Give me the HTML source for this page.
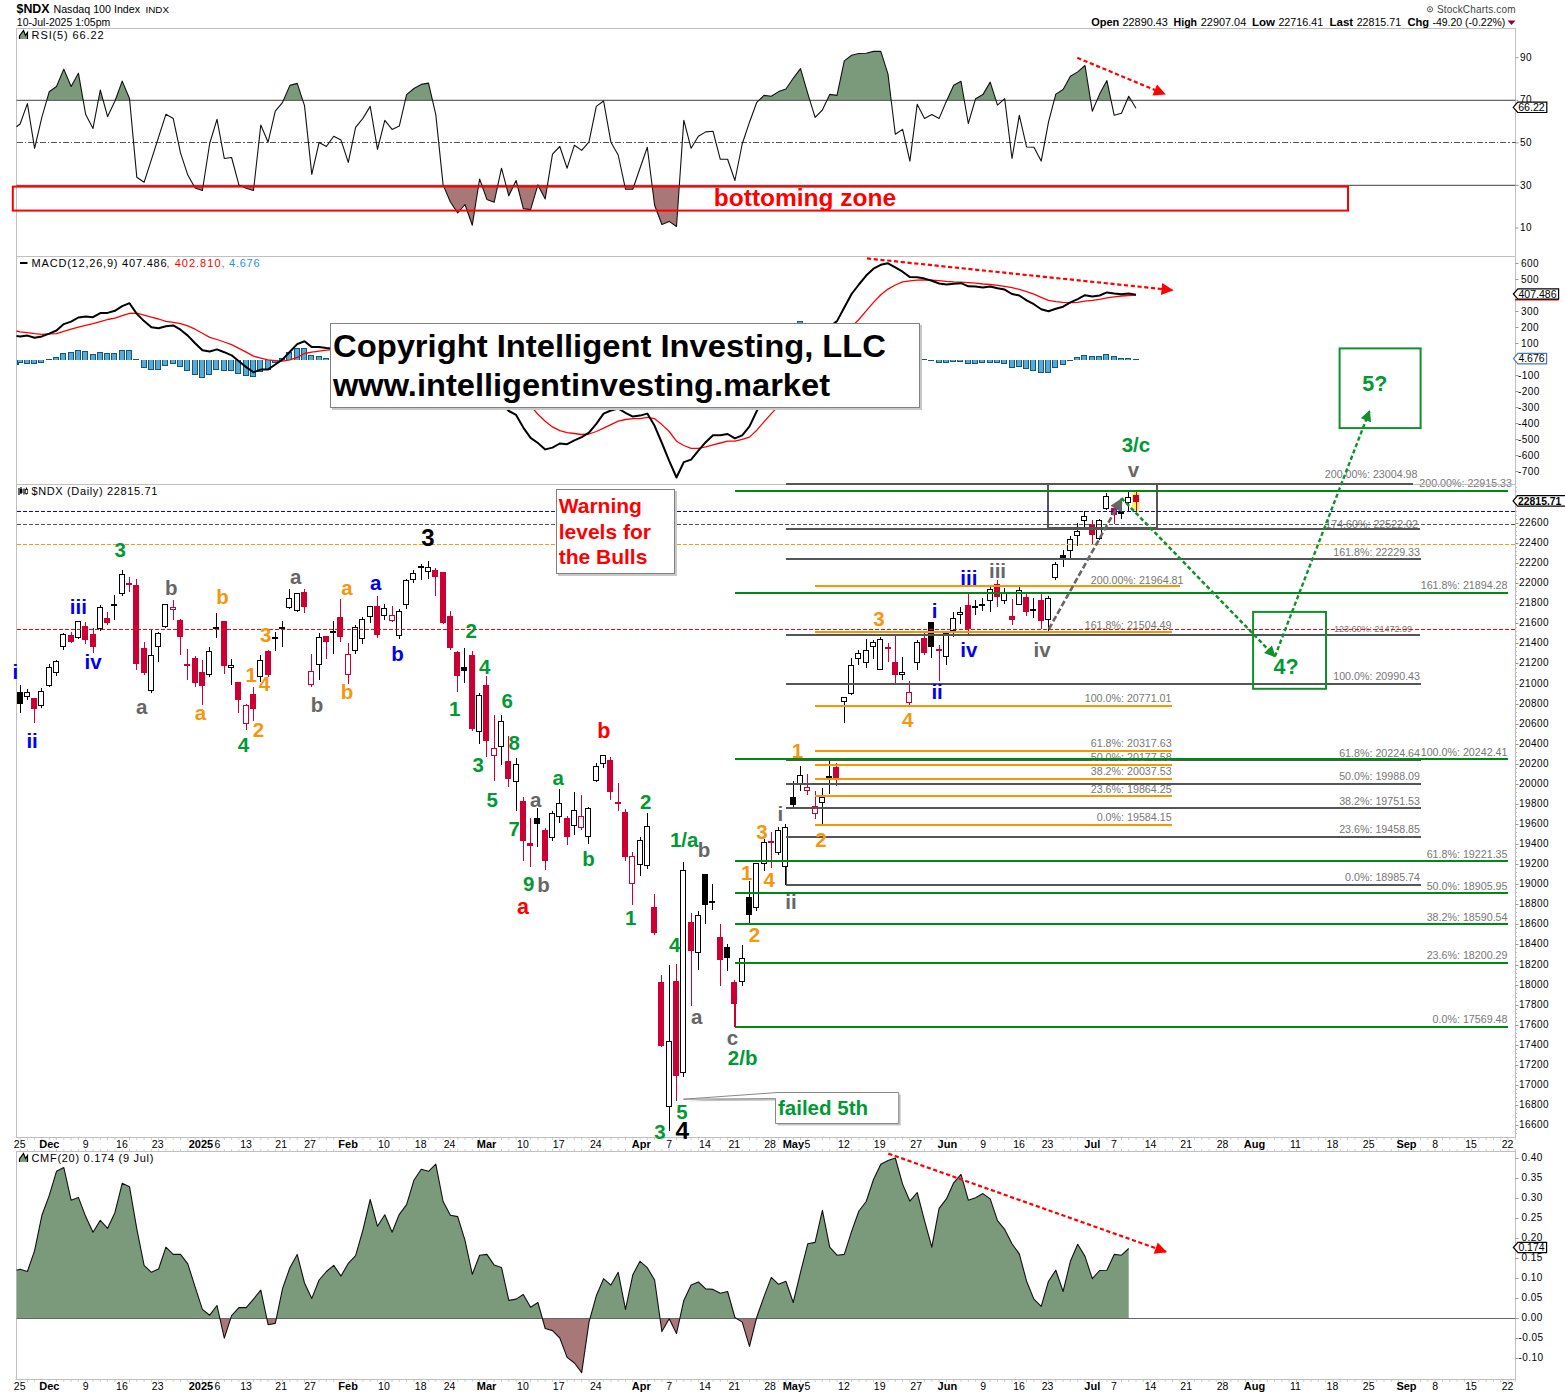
<!DOCTYPE html>
<html><head><meta charset="utf-8"><title>$NDX</title>
<style>
html,body{margin:0;padding:0;background:#fff;}
body{width:1565px;height:1396px;overflow:hidden;font-family:"Liberation Sans",sans-serif;}
svg{display:block;}
text{font-family:"Liberation Sans",sans-serif;}
.ax{font-size:10px;fill:#000;letter-spacing:0.45px;}

.wl{font-weight:bold;font-size:20px;text-anchor:middle;}
</style></head><body>
<svg width="1565" height="1396" viewBox="0 0 1565 1396">
<rect x="0" y="0" width="1565" height="1396" fill="#ffffff"/>

<text x="16.5" y="13.4" font-size="13.2" font-weight="bold" textLength="33" lengthAdjust="spacingAndGlyphs">$NDX</text>
<text x="53.5" y="13.4" font-size="11" textLength="86.5" lengthAdjust="spacingAndGlyphs">Nasdaq 100 Index</text>
<text x="145.5" y="13.2" font-size="9" textLength="23.5" lengthAdjust="spacingAndGlyphs">INDX</text>
<text x="16.8" y="25.8" font-size="10.5" textLength="93.5" lengthAdjust="spacingAndGlyphs">10-Jul-2025 1:05pm</text>
<text x="1437" y="12.8" font-size="10" fill="#444" textLength="78.5" lengthAdjust="spacing">StockCharts.com</text>
<circle cx="1430" cy="9.3" r="2.6" fill="none" stroke="#555" stroke-width="1"/><circle cx="1430" cy="9.3" r="0.9" fill="#555"/>
<text x="1091.2" y="25.6" font-size="10.5" font-weight="bold" textLength="28.1" lengthAdjust="spacingAndGlyphs">Open</text>
<text x="1122.5" y="25.6" font-size="10.5"  textLength="45.4" lengthAdjust="spacingAndGlyphs">22890.43</text>
<text x="1173.6" y="25.6" font-size="10.5" font-weight="bold" textLength="23.4" lengthAdjust="spacingAndGlyphs">High</text>
<text x="1200.8" y="25.6" font-size="10.5"  textLength="45.4" lengthAdjust="spacingAndGlyphs">22907.04</text>
<text x="1251.9" y="25.6" font-size="10.5" font-weight="bold" textLength="23.0" lengthAdjust="spacingAndGlyphs">Low</text>
<text x="1278.4" y="25.6" font-size="10.5"  textLength="44.7" lengthAdjust="spacingAndGlyphs">22716.41</text>
<text x="1329.5" y="25.6" font-size="10.5" font-weight="bold" textLength="23.7" lengthAdjust="spacingAndGlyphs">Last</text>
<text x="1356.7" y="25.6" font-size="10.5"  textLength="44.4" lengthAdjust="spacingAndGlyphs">22815.71</text>
<text x="1407.5" y="25.6" font-size="10.5" font-weight="bold" textLength="21.7" lengthAdjust="spacingAndGlyphs">Chg</text>
<text x="1432.4" y="25.6" font-size="10.5"  textLength="72.9" lengthAdjust="spacingAndGlyphs">-49.20 (-0.22%)</text>
<path d="M1507.5 20.5 L1515.5 20.5 L1511.5 25 Z" fill="#990022"/>
<rect x="16.5" y="28.5" width="1499.0" height="228.0" fill="#fff" stroke="#c0c0c0" stroke-width="1" shape-rendering="crispEdges"/>
<defs><clipPath id="rsiTop"><rect x="16.5" y="28.5" width="1500" height="71.8"/></clipPath><clipPath id="rsiBot"><rect x="16.5" y="185.4" width="1500" height="80"/></clipPath></defs>
<polygon clip-path="url(#rsiTop)" points="16.5,100.3 16.5,126.8 20.1,124.0 27.4,103.6 34.6,148.3 41.9,117.1 49.2,91.8 56.5,86.5 63.8,69.1 71.1,86.5 78.4,73.2 85.7,114.6 93.0,128.4 100.3,90.0 107.6,116.6 114.9,101.3 122.2,81.1 129.5,98.5 136.8,177.2 144.1,182.3 151.4,159.6 158.6,137.1 165.9,114.3 173.2,118.4 180.5,152.9 187.8,175.1 195.1,187.9 202.4,190.5 209.7,143.5 217.0,119.4 224.3,158.5 231.6,157.5 238.9,184.9 246.2,188.2 253.5,190.5 260.8,125.0 268.1,142.2 275.3,111.2 282.6,102.3 289.9,85.4 297.2,83.4 304.5,105.6 311.8,174.4 319.1,142.4 326.4,146.5 333.7,136.3 341.0,140.1 348.3,162.4 355.6,127.3 362.9,118.4 370.2,106.4 377.5,149.3 384.8,120.4 392.1,129.4 399.3,126.1 406.6,94.6 413.9,88.5 421.2,84.4 428.5,83.1 435.8,114.6 443.1,184.9 450.4,202.0 457.7,213.0 465.0,204.5 472.3,225.2 479.6,179.0 486.9,199.4 494.2,202.2 501.5,168.2 508.8,195.8 516.1,180.5 523.3,208.6 530.6,209.6 537.9,184.9 545.2,198.9 552.5,154.2 559.8,146.5 567.1,168.2 574.4,145.2 581.7,150.4 589.0,141.9 596.3,106.4 603.6,101.0 610.9,142.2 618.2,155.0 625.5,189.2 632.8,189.2 640.0,168.2 647.3,147.3 654.6,205.3 661.9,224.5 669.2,221.4 676.5,226.5 683.8,120.2 691.1,148.3 698.4,136.3 705.7,131.9 713.0,131.2 720.3,159.3 727.6,159.3 734.9,180.5 742.2,144.0 749.5,122.2 756.8,102.3 764.0,95.4 771.3,96.2 778.6,91.6 785.9,89.0 793.2,78.3 800.5,68.6 807.8,93.6 815.1,117.4 822.4,110.0 829.7,94.4 837.0,95.4 844.3,60.9 851.6,55.3 858.9,53.5 866.2,53.2 873.5,51.4 880.8,51.4 888.0,74.2 895.3,134.2 902.6,129.4 909.9,161.1 917.2,104.3 924.5,118.4 931.8,114.6 939.1,118.4 946.4,101.3 953.7,85.2 961.0,81.3 968.3,123.5 975.6,98.7 982.9,94.6 990.2,82.1 997.5,105.1 1004.7,98.7 1012.0,158.5 1019.3,115.3 1026.6,147.0 1033.9,147.3 1041.2,161.1 1048.5,122.2 1055.8,94.1 1063.1,89.5 1070.4,76.2 1077.7,71.9 1085.0,65.5 1092.3,111.2 1099.6,94.1 1106.9,80.6 1114.2,115.3 1121.5,113.3 1128.7,96.2 1136.0,108.2 1136.0,100.3" fill="#7b9a7b"/>
<polygon clip-path="url(#rsiBot)" points="16.5,185.4 16.5,126.8 20.1,124.0 27.4,103.6 34.6,148.3 41.9,117.1 49.2,91.8 56.5,86.5 63.8,69.1 71.1,86.5 78.4,73.2 85.7,114.6 93.0,128.4 100.3,90.0 107.6,116.6 114.9,101.3 122.2,81.1 129.5,98.5 136.8,177.2 144.1,182.3 151.4,159.6 158.6,137.1 165.9,114.3 173.2,118.4 180.5,152.9 187.8,175.1 195.1,187.9 202.4,190.5 209.7,143.5 217.0,119.4 224.3,158.5 231.6,157.5 238.9,184.9 246.2,188.2 253.5,190.5 260.8,125.0 268.1,142.2 275.3,111.2 282.6,102.3 289.9,85.4 297.2,83.4 304.5,105.6 311.8,174.4 319.1,142.4 326.4,146.5 333.7,136.3 341.0,140.1 348.3,162.4 355.6,127.3 362.9,118.4 370.2,106.4 377.5,149.3 384.8,120.4 392.1,129.4 399.3,126.1 406.6,94.6 413.9,88.5 421.2,84.4 428.5,83.1 435.8,114.6 443.1,184.9 450.4,202.0 457.7,213.0 465.0,204.5 472.3,225.2 479.6,179.0 486.9,199.4 494.2,202.2 501.5,168.2 508.8,195.8 516.1,180.5 523.3,208.6 530.6,209.6 537.9,184.9 545.2,198.9 552.5,154.2 559.8,146.5 567.1,168.2 574.4,145.2 581.7,150.4 589.0,141.9 596.3,106.4 603.6,101.0 610.9,142.2 618.2,155.0 625.5,189.2 632.8,189.2 640.0,168.2 647.3,147.3 654.6,205.3 661.9,224.5 669.2,221.4 676.5,226.5 683.8,120.2 691.1,148.3 698.4,136.3 705.7,131.9 713.0,131.2 720.3,159.3 727.6,159.3 734.9,180.5 742.2,144.0 749.5,122.2 756.8,102.3 764.0,95.4 771.3,96.2 778.6,91.6 785.9,89.0 793.2,78.3 800.5,68.6 807.8,93.6 815.1,117.4 822.4,110.0 829.7,94.4 837.0,95.4 844.3,60.9 851.6,55.3 858.9,53.5 866.2,53.2 873.5,51.4 880.8,51.4 888.0,74.2 895.3,134.2 902.6,129.4 909.9,161.1 917.2,104.3 924.5,118.4 931.8,114.6 939.1,118.4 946.4,101.3 953.7,85.2 961.0,81.3 968.3,123.5 975.6,98.7 982.9,94.6 990.2,82.1 997.5,105.1 1004.7,98.7 1012.0,158.5 1019.3,115.3 1026.6,147.0 1033.9,147.3 1041.2,161.1 1048.5,122.2 1055.8,94.1 1063.1,89.5 1070.4,76.2 1077.7,71.9 1085.0,65.5 1092.3,111.2 1099.6,94.1 1106.9,80.6 1114.2,115.3 1121.5,113.3 1128.7,96.2 1136.0,108.2 1136.0,185.4" fill="#a87878"/>
<line x1="16.5" y1="100.3" x2="1515.5" y2="100.3" stroke="#666" stroke-width="1.2"/>
<line x1="16.5" y1="185.4" x2="1515.5" y2="185.4" stroke="#666" stroke-width="1.2"/>
<line x1="16.5" y1="142.9" x2="1515.5" y2="142.9" stroke="#555" stroke-width="1" stroke-dasharray="6 2 1.5 2" shape-rendering="crispEdges"/>
<polyline points="16.5,126.8 20.1,124.0 27.4,103.6 34.6,148.3 41.9,117.1 49.2,91.8 56.5,86.5 63.8,69.1 71.1,86.5 78.4,73.2 85.7,114.6 93.0,128.4 100.3,90.0 107.6,116.6 114.9,101.3 122.2,81.1 129.5,98.5 136.8,177.2 144.1,182.3 151.4,159.6 158.6,137.1 165.9,114.3 173.2,118.4 180.5,152.9 187.8,175.1 195.1,187.9 202.4,190.5 209.7,143.5 217.0,119.4 224.3,158.5 231.6,157.5 238.9,184.9 246.2,188.2 253.5,190.5 260.8,125.0 268.1,142.2 275.3,111.2 282.6,102.3 289.9,85.4 297.2,83.4 304.5,105.6 311.8,174.4 319.1,142.4 326.4,146.5 333.7,136.3 341.0,140.1 348.3,162.4 355.6,127.3 362.9,118.4 370.2,106.4 377.5,149.3 384.8,120.4 392.1,129.4 399.3,126.1 406.6,94.6 413.9,88.5 421.2,84.4 428.5,83.1 435.8,114.6 443.1,184.9 450.4,202.0 457.7,213.0 465.0,204.5 472.3,225.2 479.6,179.0 486.9,199.4 494.2,202.2 501.5,168.2 508.8,195.8 516.1,180.5 523.3,208.6 530.6,209.6 537.9,184.9 545.2,198.9 552.5,154.2 559.8,146.5 567.1,168.2 574.4,145.2 581.7,150.4 589.0,141.9 596.3,106.4 603.6,101.0 610.9,142.2 618.2,155.0 625.5,189.2 632.8,189.2 640.0,168.2 647.3,147.3 654.6,205.3 661.9,224.5 669.2,221.4 676.5,226.5 683.8,120.2 691.1,148.3 698.4,136.3 705.7,131.9 713.0,131.2 720.3,159.3 727.6,159.3 734.9,180.5 742.2,144.0 749.5,122.2 756.8,102.3 764.0,95.4 771.3,96.2 778.6,91.6 785.9,89.0 793.2,78.3 800.5,68.6 807.8,93.6 815.1,117.4 822.4,110.0 829.7,94.4 837.0,95.4 844.3,60.9 851.6,55.3 858.9,53.5 866.2,53.2 873.5,51.4 880.8,51.4 888.0,74.2 895.3,134.2 902.6,129.4 909.9,161.1 917.2,104.3 924.5,118.4 931.8,114.6 939.1,118.4 946.4,101.3 953.7,85.2 961.0,81.3 968.3,123.5 975.6,98.7 982.9,94.6 990.2,82.1 997.5,105.1 1004.7,98.7 1012.0,158.5 1019.3,115.3 1026.6,147.0 1033.9,147.3 1041.2,161.1 1048.5,122.2 1055.8,94.1 1063.1,89.5 1070.4,76.2 1077.7,71.9 1085.0,65.5 1092.3,111.2 1099.6,94.1 1106.9,80.6 1114.2,115.3 1121.5,113.3 1128.7,96.2 1136.0,108.2" fill="none" stroke="#111" stroke-width="1.1" stroke-linejoin="round"/>
<line x1="1515.5" y1="57.7" x2="1518.5" y2="57.7" stroke="#999" stroke-width="1"/>
<text class="ax" x="1520" y="60.8">90</text>
<line x1="1515.5" y1="100.3" x2="1518.5" y2="100.3" stroke="#999" stroke-width="1"/>
<text class="ax" x="1520" y="103.4">70</text>
<line x1="1515.5" y1="142.9" x2="1518.5" y2="142.9" stroke="#999" stroke-width="1"/>
<text class="ax" x="1520" y="146.0">50</text>
<line x1="1515.5" y1="185.4" x2="1518.5" y2="185.4" stroke="#999" stroke-width="1"/>
<text class="ax" x="1520" y="188.5">30</text>
<line x1="1515.5" y1="228.0" x2="1518.5" y2="228.0" stroke="#999" stroke-width="1"/>
<text class="ax" x="1520" y="231.1">10</text>
<path d="M19.5 39 V36 L23.5 30.5 L25.5 35.5 L27.5 32.5 V39 Z" fill="#7b9a7b"/><path d="M19.5 39 V36 L23.5 30.5 L25.5 35.5 L27.5 32.5 V39" fill="none" stroke="#000" stroke-width="1.2"/>
<text x="31.6" y="38.9" font-size="11" textLength="72" lengthAdjust="spacing">RSI(5) 66.22</text>
<path d="M1513.2 107.3 L1517.7 102.1 L1546.8 102.1 L1546.8 112.5 L1517.7 112.5 Z" fill="#fff" stroke="#000" stroke-width="1.2"/>
<text x="1518.2" y="111.1" font-size="10"  textLength="26.6" lengthAdjust="spacingAndGlyphs">66.22</text>
<rect x="12.8" y="186.6" width="1335.2" height="24" fill="none" stroke="#ff0000" stroke-width="2"/>
<text x="805" y="206.3" font-size="24.5" font-weight="bold" fill="#ff0000" text-anchor="middle">bottoming zone</text>
<defs><marker id="ar" viewBox="0 0 10 10" refX="9" refY="5" markerWidth="14" markerHeight="12" markerUnits="userSpaceOnUse" orient="auto"><path d="M0 0 L10 5 L0 10 Z" fill="#ff0000"/></marker>
<marker id="ag" viewBox="0 0 10 10" refX="9" refY="5" markerWidth="13" markerHeight="11" markerUnits="userSpaceOnUse" orient="auto"><path d="M0 0 L10 5 L0 10 Z" fill="#10902a"/></marker>
<marker id="agr" viewBox="0 0 10 10" refX="9" refY="5" markerWidth="15" markerHeight="13" markerUnits="userSpaceOnUse" orient="auto"><path d="M0 0 L10 5 L0 10 Z" fill="#666"/></marker></defs>
<line x1="1077.3" y1="57.8" x2="1164.7" y2="94.1" stroke="#ff0000" stroke-width="2.2" stroke-dasharray="4.2 2.6" marker-end="url(#ar)"/>
<rect x="16.5" y="256.5" width="1499.0" height="228.0" fill="#fff" stroke="#c0c0c0" stroke-width="1" shape-rendering="crispEdges"/>
<g shape-rendering="crispEdges">
<rect x="17" y="360" width="2" height="5" fill="#5ba8d4"/>
<path d="M17.5 360 V364.5 H18.5 V360" fill="none" stroke="#0d5a80" stroke-width="1"/>
<rect x="17" y="360" width="6" height="3" fill="#5ba8d4"/>
<path d="M17.5 360 V362.5 H22.5 V360" fill="none" stroke="#0d5a80" stroke-width="1"/>
<rect x="24" y="360" width="6" height="4" fill="#5ba8d4"/>
<path d="M24.5 360 V363.5 H29.5 V360" fill="none" stroke="#0d5a80" stroke-width="1"/>
<rect x="31" y="360" width="6" height="4" fill="#5ba8d4"/>
<path d="M31.5 360 V363.5 H36.5 V360" fill="none" stroke="#0d5a80" stroke-width="1"/>
<rect x="38" y="360" width="6" height="3" fill="#5ba8d4"/>
<path d="M38.5 360 V362.5 H43.5 V360" fill="none" stroke="#0d5a80" stroke-width="1"/>
<line x1="46" y1="359.5" x2="52" y2="359.5" stroke="#0d5a80" stroke-width="1"/>
<rect x="53" y="357" width="6" height="3" fill="#5ba8d4"/>
<path d="M53.5 360 V357.5 H58.5 V360" fill="none" stroke="#0d5a80" stroke-width="1"/>
<rect x="60" y="353" width="6" height="7" fill="#5ba8d4"/>
<path d="M60.5 360 V353.5 H65.5 V360" fill="none" stroke="#0d5a80" stroke-width="1"/>
<rect x="68" y="352" width="6" height="8" fill="#5ba8d4"/>
<path d="M68.5 360 V352.5 H73.5 V360" fill="none" stroke="#0d5a80" stroke-width="1"/>
<rect x="75" y="350" width="6" height="10" fill="#5ba8d4"/>
<path d="M75.5 360 V350.5 H80.5 V360" fill="none" stroke="#0d5a80" stroke-width="1"/>
<rect x="82" y="351" width="6" height="9" fill="#5ba8d4"/>
<path d="M82.5 360 V351.5 H87.5 V360" fill="none" stroke="#0d5a80" stroke-width="1"/>
<rect x="90" y="354" width="6" height="6" fill="#5ba8d4"/>
<path d="M90.5 360 V354.5 H95.5 V360" fill="none" stroke="#0d5a80" stroke-width="1"/>
<rect x="97" y="352" width="6" height="8" fill="#5ba8d4"/>
<path d="M97.5 360 V352.5 H102.5 V360" fill="none" stroke="#0d5a80" stroke-width="1"/>
<rect x="104" y="353" width="6" height="7" fill="#5ba8d4"/>
<path d="M104.5 360 V353.5 H109.5 V360" fill="none" stroke="#0d5a80" stroke-width="1"/>
<rect x="111" y="353" width="6" height="7" fill="#5ba8d4"/>
<path d="M111.5 360 V353.5 H116.5 V360" fill="none" stroke="#0d5a80" stroke-width="1"/>
<rect x="119" y="350" width="6" height="10" fill="#5ba8d4"/>
<path d="M119.5 360 V350.5 H124.5 V360" fill="none" stroke="#0d5a80" stroke-width="1"/>
<rect x="126" y="350" width="6" height="10" fill="#5ba8d4"/>
<path d="M126.5 360 V350.5 H131.5 V360" fill="none" stroke="#0d5a80" stroke-width="1"/>
<line x1="133" y1="359.5" x2="139" y2="359.5" stroke="#0d5a80" stroke-width="1"/>
<rect x="141" y="360" width="6" height="8" fill="#5ba8d4"/>
<path d="M141.5 360 V367.5 H146.5 V360" fill="none" stroke="#0d5a80" stroke-width="1"/>
<rect x="148" y="360" width="6" height="10" fill="#5ba8d4"/>
<path d="M148.5 360 V369.5 H153.5 V360" fill="none" stroke="#0d5a80" stroke-width="1"/>
<rect x="155" y="360" width="6" height="10" fill="#5ba8d4"/>
<path d="M155.5 360 V369.5 H160.5 V360" fill="none" stroke="#0d5a80" stroke-width="1"/>
<rect x="162" y="360" width="6" height="6" fill="#5ba8d4"/>
<path d="M162.5 360 V365.5 H167.5 V360" fill="none" stroke="#0d5a80" stroke-width="1"/>
<rect x="170" y="360" width="6" height="4" fill="#5ba8d4"/>
<path d="M170.5 360 V363.5 H175.5 V360" fill="none" stroke="#0d5a80" stroke-width="1"/>
<rect x="177" y="360" width="6" height="7" fill="#5ba8d4"/>
<path d="M177.5 360 V366.5 H182.5 V360" fill="none" stroke="#0d5a80" stroke-width="1"/>
<rect x="184" y="360" width="6" height="11" fill="#5ba8d4"/>
<path d="M184.5 360 V370.5 H189.5 V360" fill="none" stroke="#0d5a80" stroke-width="1"/>
<rect x="192" y="360" width="6" height="15" fill="#5ba8d4"/>
<path d="M192.5 360 V374.5 H197.5 V360" fill="none" stroke="#0d5a80" stroke-width="1"/>
<rect x="199" y="360" width="6" height="18" fill="#5ba8d4"/>
<path d="M199.5 360 V377.5 H204.5 V360" fill="none" stroke="#0d5a80" stroke-width="1"/>
<rect x="206" y="360" width="6" height="15" fill="#5ba8d4"/>
<path d="M206.5 360 V374.5 H211.5 V360" fill="none" stroke="#0d5a80" stroke-width="1"/>
<rect x="213" y="360" width="6" height="10" fill="#5ba8d4"/>
<path d="M213.5 360 V369.5 H218.5 V360" fill="none" stroke="#0d5a80" stroke-width="1"/>
<rect x="221" y="360" width="6" height="11" fill="#5ba8d4"/>
<path d="M221.5 360 V370.5 H226.5 V360" fill="none" stroke="#0d5a80" stroke-width="1"/>
<rect x="228" y="360" width="6" height="11" fill="#5ba8d4"/>
<path d="M228.5 360 V370.5 H233.5 V360" fill="none" stroke="#0d5a80" stroke-width="1"/>
<rect x="235" y="360" width="6" height="14" fill="#5ba8d4"/>
<path d="M235.5 360 V373.5 H240.5 V360" fill="none" stroke="#0d5a80" stroke-width="1"/>
<rect x="243" y="360" width="6" height="16" fill="#5ba8d4"/>
<path d="M243.5 360 V375.5 H248.5 V360" fill="none" stroke="#0d5a80" stroke-width="1"/>
<rect x="250" y="360" width="6" height="17" fill="#5ba8d4"/>
<path d="M250.5 360 V376.5 H255.5 V360" fill="none" stroke="#0d5a80" stroke-width="1"/>
<rect x="257" y="360" width="6" height="12" fill="#5ba8d4"/>
<path d="M257.5 360 V371.5 H262.5 V360" fill="none" stroke="#0d5a80" stroke-width="1"/>
<rect x="265" y="360" width="6" height="10" fill="#5ba8d4"/>
<path d="M265.5 360 V369.5 H270.5 V360" fill="none" stroke="#0d5a80" stroke-width="1"/>
<rect x="272" y="360" width="6" height="3" fill="#5ba8d4"/>
<path d="M272.5 360 V362.5 H277.5 V360" fill="none" stroke="#0d5a80" stroke-width="1"/>
<rect x="279" y="358" width="6" height="2" fill="#5ba8d4"/>
<path d="M279.5 360 V358.5 H284.5 V360" fill="none" stroke="#0d5a80" stroke-width="1"/>
<rect x="286" y="352" width="6" height="8" fill="#5ba8d4"/>
<path d="M286.5 360 V352.5 H291.5 V360" fill="none" stroke="#0d5a80" stroke-width="1"/>
<rect x="294" y="348" width="6" height="12" fill="#5ba8d4"/>
<path d="M294.5 360 V348.5 H299.5 V360" fill="none" stroke="#0d5a80" stroke-width="1"/>
<rect x="301" y="348" width="6" height="12" fill="#5ba8d4"/>
<path d="M301.5 360 V348.5 H306.5 V360" fill="none" stroke="#0d5a80" stroke-width="1"/>
<rect x="308" y="355" width="6" height="5" fill="#5ba8d4"/>
<path d="M308.5 360 V355.5 H313.5 V360" fill="none" stroke="#0d5a80" stroke-width="1"/>
<rect x="316" y="356" width="6" height="4" fill="#5ba8d4"/>
<path d="M316.5 360 V356.5 H321.5 V360" fill="none" stroke="#0d5a80" stroke-width="1"/>
<rect x="323" y="358" width="6" height="2" fill="#5ba8d4"/>
<path d="M323.5 360 V358.5 H328.5 V360" fill="none" stroke="#0d5a80" stroke-width="1"/>
<line x1="921" y1="359.5" x2="927" y2="359.5" stroke="#0d5a80" stroke-width="1"/>
<line x1="928" y1="360.5" x2="934" y2="360.5" stroke="#0d5a80" stroke-width="1"/>
<rect x="936" y="360" width="6" height="3" fill="#5ba8d4"/>
<path d="M936.5 360 V362.5 H941.5 V360" fill="none" stroke="#0d5a80" stroke-width="1"/>
<rect x="943" y="360" width="6" height="3" fill="#5ba8d4"/>
<path d="M943.5 360 V362.5 H948.5 V360" fill="none" stroke="#0d5a80" stroke-width="1"/>
<rect x="950" y="360" width="6" height="2" fill="#5ba8d4"/>
<path d="M950.5 360 V361.5 H955.5 V360" fill="none" stroke="#0d5a80" stroke-width="1"/>
<rect x="957" y="360" width="6" height="2" fill="#5ba8d4"/>
<path d="M957.5 360 V361.5 H962.5 V360" fill="none" stroke="#0d5a80" stroke-width="1"/>
<rect x="965" y="360" width="6" height="4" fill="#5ba8d4"/>
<path d="M965.5 360 V363.5 H970.5 V360" fill="none" stroke="#0d5a80" stroke-width="1"/>
<rect x="972" y="360" width="6" height="4" fill="#5ba8d4"/>
<path d="M972.5 360 V363.5 H977.5 V360" fill="none" stroke="#0d5a80" stroke-width="1"/>
<rect x="979" y="360" width="6" height="3" fill="#5ba8d4"/>
<path d="M979.5 360 V362.5 H984.5 V360" fill="none" stroke="#0d5a80" stroke-width="1"/>
<rect x="987" y="360" width="6" height="3" fill="#5ba8d4"/>
<path d="M987.5 360 V362.5 H992.5 V360" fill="none" stroke="#0d5a80" stroke-width="1"/>
<rect x="994" y="360" width="6" height="3" fill="#5ba8d4"/>
<path d="M994.5 360 V362.5 H999.5 V360" fill="none" stroke="#0d5a80" stroke-width="1"/>
<rect x="1001" y="360" width="6" height="4" fill="#5ba8d4"/>
<path d="M1001.5 360 V363.5 H1006.5 V360" fill="none" stroke="#0d5a80" stroke-width="1"/>
<rect x="1009" y="360" width="6" height="8" fill="#5ba8d4"/>
<path d="M1009.5 360 V367.5 H1014.5 V360" fill="none" stroke="#0d5a80" stroke-width="1"/>
<rect x="1016" y="360" width="6" height="7" fill="#5ba8d4"/>
<path d="M1016.5 360 V366.5 H1021.5 V360" fill="none" stroke="#0d5a80" stroke-width="1"/>
<rect x="1023" y="360" width="6" height="9" fill="#5ba8d4"/>
<path d="M1023.5 360 V368.5 H1028.5 V360" fill="none" stroke="#0d5a80" stroke-width="1"/>
<rect x="1030" y="360" width="6" height="11" fill="#5ba8d4"/>
<path d="M1030.5 360 V370.5 H1035.5 V360" fill="none" stroke="#0d5a80" stroke-width="1"/>
<rect x="1038" y="360" width="6" height="13" fill="#5ba8d4"/>
<path d="M1038.5 360 V372.5 H1043.5 V360" fill="none" stroke="#0d5a80" stroke-width="1"/>
<rect x="1045" y="360" width="6" height="13" fill="#5ba8d4"/>
<path d="M1045.5 360 V372.5 H1050.5 V360" fill="none" stroke="#0d5a80" stroke-width="1"/>
<rect x="1052" y="360" width="6" height="8" fill="#5ba8d4"/>
<path d="M1052.5 360 V367.5 H1057.5 V360" fill="none" stroke="#0d5a80" stroke-width="1"/>
<rect x="1060" y="360" width="6" height="5" fill="#5ba8d4"/>
<path d="M1060.5 360 V364.5 H1065.5 V360" fill="none" stroke="#0d5a80" stroke-width="1"/>
<line x1="1067" y1="360.5" x2="1073" y2="360.5" stroke="#0d5a80" stroke-width="1"/>
<rect x="1074" y="357" width="6" height="3" fill="#5ba8d4"/>
<path d="M1074.5 360 V357.5 H1079.5 V360" fill="none" stroke="#0d5a80" stroke-width="1"/>
<rect x="1081" y="355" width="6" height="5" fill="#5ba8d4"/>
<path d="M1081.5 360 V355.5 H1086.5 V360" fill="none" stroke="#0d5a80" stroke-width="1"/>
<rect x="1089" y="356" width="6" height="4" fill="#5ba8d4"/>
<path d="M1089.5 360 V356.5 H1094.5 V360" fill="none" stroke="#0d5a80" stroke-width="1"/>
<rect x="1096" y="356" width="6" height="4" fill="#5ba8d4"/>
<path d="M1096.5 360 V356.5 H1101.5 V360" fill="none" stroke="#0d5a80" stroke-width="1"/>
<rect x="1103" y="354" width="6" height="6" fill="#5ba8d4"/>
<path d="M1103.5 360 V354.5 H1108.5 V360" fill="none" stroke="#0d5a80" stroke-width="1"/>
<rect x="1111" y="356" width="6" height="4" fill="#5ba8d4"/>
<path d="M1111.5 360 V356.5 H1116.5 V360" fill="none" stroke="#0d5a80" stroke-width="1"/>
<rect x="1118" y="358" width="6" height="2" fill="#5ba8d4"/>
<path d="M1118.5 360 V358.5 H1123.5 V360" fill="none" stroke="#0d5a80" stroke-width="1"/>
<rect x="1125" y="358" width="6" height="2" fill="#5ba8d4"/>
<path d="M1125.5 360 V358.5 H1130.5 V360" fill="none" stroke="#0d5a80" stroke-width="1"/>
<line x1="1133" y1="359.5" x2="1139" y2="359.5" stroke="#0d5a80" stroke-width="1"/>
</g>
<rect x="797.5" y="321.5" width="5" height="10" fill="#5ba8d4" stroke="#0d5a80" stroke-width="1" shape-rendering="crispEdges"/>
<polyline points="16.5,331.0 20.1,331.8 27.4,332.6 34.6,333.6 41.9,334.3 49.2,333.8 56.5,333.6 63.8,331.3 71.1,329.2 78.4,327.2 85.7,325.4 93.0,323.6 100.3,321.6 107.6,319.5 114.9,318.2 122.2,315.7 129.5,313.4 136.8,313.1 144.1,315.2 151.4,317.2 158.6,319.0 165.9,321.3 173.2,322.3 180.5,323.6 187.8,325.9 195.1,329.2 202.4,333.3 209.7,337.4 217.0,339.5 224.3,342.0 231.6,344.6 238.9,348.4 246.2,352.2 253.5,356.1 260.8,358.1 268.1,359.9 275.3,360.7 282.6,361.2 289.9,359.9 297.2,357.3 304.5,353.5 311.8,352.2 319.1,351.2 326.4,350.2 333.7,349.7" fill="none" stroke="#ff0000" stroke-width="1.3" stroke-linejoin="round"/>
<polyline points="523.3,400.8 530.6,405.9 537.9,414.3 545.2,421.2 552.5,426.9 559.8,430.7 567.1,432.7 574.4,433.5 581.7,434.5 589.0,434.0 596.3,431.5 603.6,428.1 610.9,424.6 618.2,421.2 625.5,419.5 632.8,418.7 640.0,418.7 647.3,417.4 654.6,418.7 661.9,424.6 669.2,431.5 676.5,441.2 683.8,445.5 691.1,448.3 698.4,448.3 705.7,446.8 713.0,444.8 720.3,443.0 727.6,441.2 734.9,441.2 742.2,439.4 749.5,437.1 756.8,430.2 764.0,421.8 771.3,413.6 778.6,405.9" fill="none" stroke="#ff0000" stroke-width="1.3" stroke-linejoin="round"/>
<polyline points="851.6,326.7 858.9,319.5 866.2,310.8 873.5,302.4 880.8,294.7 888.0,289.1 895.3,285.0 902.6,281.9 909.9,280.9 917.2,280.2 924.5,279.9 931.8,280.2 939.1,280.7 946.4,281.4 953.7,281.9 961.0,282.2 968.3,282.7 975.6,283.2 982.9,284.0 990.2,284.5 997.5,285.3 1004.7,286.3 1012.0,287.6 1019.3,289.4 1026.6,291.7 1033.9,294.2 1041.2,297.3 1048.5,300.4 1055.8,301.6 1063.1,302.4 1070.4,302.7 1077.7,302.4 1085.0,301.1 1092.3,300.4 1099.6,299.3 1106.9,297.8 1114.2,296.8 1121.5,296.0 1128.7,295.5 1136.0,295.2" fill="none" stroke="#ff0000" stroke-width="1.3" stroke-linejoin="round"/>
<polyline points="16.5,336.1 20.1,336.4 27.4,335.6 34.6,337.7 41.9,336.4 49.2,333.6 56.5,330.5 63.8,324.1 71.1,321.6 78.4,317.5 85.7,316.5 93.0,317.2 100.3,313.1 107.6,312.9 114.9,310.8 122.2,306.2 129.5,303.2 136.8,313.9 144.1,321.1 151.4,327.2 158.6,328.2 165.9,326.2 173.2,325.4 180.5,329.7 187.8,335.6 195.1,343.3 202.4,350.2 209.7,351.5 217.0,349.4 224.3,352.2 231.6,355.3 238.9,361.2 246.2,367.1 253.5,372.2 260.8,369.6 268.1,369.4 275.3,364.5 282.6,359.4 289.9,351.7 297.2,344.1 304.5,341.2 311.8,347.1 319.1,347.1 326.4,348.1 333.7,348.7" fill="none" stroke="#000" stroke-width="2" stroke-linejoin="round"/>
<polyline points="501.5,403.4 508.8,411.0 516.1,414.9 523.3,427.6 530.6,437.9 537.9,443.0 545.2,449.4 552.5,447.6 559.8,443.5 567.1,444.2 574.4,440.4 581.7,437.1 589.0,432.7 596.3,423.8 603.6,413.6 610.9,410.5 618.2,408.5 625.5,412.8 632.8,416.6 640.0,415.6 647.3,413.6 654.6,425.8 661.9,443.0 669.2,460.9 676.5,477.5 683.8,462.1 691.1,459.6 698.4,450.6 705.7,442.2 713.0,435.3 720.3,435.3 727.6,434.0 734.9,438.4 742.2,435.3 749.5,426.4 756.8,411.0 764.0,395.7" fill="none" stroke="#000" stroke-width="2" stroke-linejoin="round"/>
<polyline points="829.7,326.7 837.0,321.1 844.3,307.5 851.6,294.0 858.9,284.5 866.2,275.6 873.5,268.7 880.8,264.8 888.0,263.3 895.3,267.4 902.6,271.7 909.9,277.1 917.2,277.3 924.5,278.6 931.8,280.7 939.1,283.5 946.4,284.5 953.7,283.7 961.0,283.2 968.3,286.3 975.6,286.5 982.9,287.6 990.2,286.5 997.5,288.3 1004.7,289.6 1012.0,294.0 1019.3,295.5 1026.6,300.4 1033.9,304.2 1041.2,309.3 1048.5,311.3 1055.8,308.8 1063.1,306.7 1070.4,302.4 1077.7,299.1 1085.0,295.2 1092.3,296.5 1099.6,295.5 1106.9,292.4 1114.2,293.5 1121.5,294.2 1128.7,293.5 1136.0,294.7" fill="none" stroke="#000" stroke-width="2" stroke-linejoin="round"/>
<line x1="1515.5" y1="263.5" x2="1518.5" y2="263.5" stroke="#999" stroke-width="1"/>
<text class="ax" x="1521.0" y="266.6">600</text>
<line x1="1515.5" y1="279.5" x2="1518.5" y2="279.5" stroke="#999" stroke-width="1"/>
<text class="ax" x="1521.0" y="282.6">500</text>
<line x1="1515.5" y1="311.5" x2="1518.5" y2="311.5" stroke="#999" stroke-width="1"/>
<text class="ax" x="1521.0" y="314.6">300</text>
<line x1="1515.5" y1="327.5" x2="1518.5" y2="327.5" stroke="#999" stroke-width="1"/>
<text class="ax" x="1521.0" y="330.6">200</text>
<line x1="1515.5" y1="343.5" x2="1518.5" y2="343.5" stroke="#999" stroke-width="1"/>
<text class="ax" x="1521.0" y="346.6">100</text>
<line x1="1515.5" y1="375.5" x2="1518.5" y2="375.5" stroke="#999" stroke-width="1"/>
<text class="ax" x="1518.0" y="378.6">-100</text>
<line x1="1515.5" y1="391.5" x2="1518.5" y2="391.5" stroke="#999" stroke-width="1"/>
<text class="ax" x="1518.0" y="394.6">-200</text>
<line x1="1515.5" y1="407.5" x2="1518.5" y2="407.5" stroke="#999" stroke-width="1"/>
<text class="ax" x="1518.0" y="410.6">-300</text>
<line x1="1515.5" y1="423.5" x2="1518.5" y2="423.5" stroke="#999" stroke-width="1"/>
<text class="ax" x="1518.0" y="426.6">-400</text>
<line x1="1515.5" y1="439.5" x2="1518.5" y2="439.5" stroke="#999" stroke-width="1"/>
<text class="ax" x="1518.0" y="442.6">-500</text>
<line x1="1515.5" y1="455.5" x2="1518.5" y2="455.5" stroke="#999" stroke-width="1"/>
<text class="ax" x="1518.0" y="458.6">-600</text>
<line x1="1515.5" y1="471.5" x2="1518.5" y2="471.5" stroke="#999" stroke-width="1"/>
<text class="ax" x="1518.0" y="474.6">-700</text>
<line x1="20" y1="263" x2="27.5" y2="263" stroke="#000" stroke-width="2"/>
<text x="31.6" y="267" font-size="11"><tspan textLength="135" lengthAdjust="spacing">MACD(12,26,9) 407.486</tspan></text>
<text x="166.5" y="267" font-size="11" fill="#ff0000" textLength="54" lengthAdjust="spacing">, 402.810</text>
<text x="221.5" y="267" font-size="11" fill="#2f8fd0" textLength="38" lengthAdjust="spacing">, 4.676</text>
<line x1="1515" y1="299.8" x2="1558.6" y2="299.8" stroke="#ff0000" stroke-width="1.6"/>
<path d="M1513.4 294.0 L1517.9 288.8 L1558.6 288.8 L1558.6 299.2 L1517.9 299.2 Z" fill="#fff" stroke="#000" stroke-width="1.2"/>
<text x="1518.4" y="297.8" font-size="10"  textLength="38.2" lengthAdjust="spacingAndGlyphs">407.486</text>
<path d="M1513.4 358.6 L1517.9 353.4 L1546.6 353.4 L1546.6 363.8 L1517.9 363.8 Z" fill="#fff" stroke="#4a78b0" stroke-width="1.2"/>
<text x="1518.4" y="362.4" font-size="10"  textLength="26.2" lengthAdjust="spacingAndGlyphs">4.676</text>
<line x1="866.9" y1="258.4" x2="1172.3" y2="290.1" stroke="#ff0000" stroke-width="2.2" stroke-dasharray="4.2 2.6" marker-end="url(#ar)"/>
<rect x="16.5" y="484.5" width="1499.0" height="653.0" fill="#fff" stroke="#c0c0c0" stroke-width="1" shape-rendering="crispEdges"/>
<rect x="1132.1" y="492.3" width="7.4" height="19.7" fill="#ffee66"/>
<g shape-rendering="crispEdges">
<line x1="20.5" y1="684.5" x2="20.5" y2="712.6" stroke="#000" stroke-width="1"/>
<rect x="17.0" y="692.0" width="6" height="12.0" fill="#000"/>
<line x1="27.5" y1="689.1" x2="27.5" y2="700.3" stroke="#000" stroke-width="1"/>
<rect x="24.5" y="692.5" width="5" height="4.0" fill="#fff" stroke="#000" stroke-width="1"/>
<line x1="34.5" y1="698.0" x2="34.5" y2="722.7" stroke="#cc0033" stroke-width="1"/>
<rect x="31.0" y="698.0" width="6" height="11.0" fill="#cc0033"/>
<line x1="41.5" y1="688.3" x2="41.5" y2="708.2" stroke="#000" stroke-width="1"/>
<rect x="38.5" y="691.5" width="5" height="14.0" fill="#fff" stroke="#000" stroke-width="1"/>
<line x1="49.5" y1="663.5" x2="49.5" y2="686.5" stroke="#000" stroke-width="1"/>
<rect x="46.5" y="667.5" width="5" height="18.0" fill="#fff" stroke="#000" stroke-width="1"/>
<line x1="56.5" y1="659.7" x2="56.5" y2="675.5" stroke="#000" stroke-width="1"/>
<rect x="53.5" y="661.5" width="5" height="11.0" fill="#fff" stroke="#000" stroke-width="1"/>
<line x1="63.5" y1="633.4" x2="63.5" y2="649.5" stroke="#000" stroke-width="1"/>
<rect x="60.5" y="634.5" width="5" height="12.0" fill="#fff" stroke="#000" stroke-width="1"/>
<line x1="71.5" y1="632.1" x2="71.5" y2="643.1" stroke="#cc0033" stroke-width="1"/>
<rect x="68.0" y="635.0" width="6" height="7.0" fill="#cc0033"/>
<line x1="78.5" y1="621.1" x2="78.5" y2="639.0" stroke="#000" stroke-width="1"/>
<rect x="75.5" y="621.5" width="5" height="16.0" fill="#fff" stroke="#000" stroke-width="1"/>
<line x1="85.5" y1="622.4" x2="85.5" y2="643.6" stroke="#cc0033" stroke-width="1"/>
<rect x="82.0" y="626.0" width="6" height="14.0" fill="#cc0033"/>
<line x1="93.5" y1="627.5" x2="93.5" y2="653.0" stroke="#cc0033" stroke-width="1"/>
<rect x="90.0" y="634.0" width="6" height="13.0" fill="#cc0033"/>
<line x1="100.5" y1="605.2" x2="100.5" y2="630.8" stroke="#000" stroke-width="1"/>
<rect x="97.5" y="607.5" width="5" height="21.0" fill="#fff" stroke="#000" stroke-width="1"/>
<line x1="107.5" y1="612.1" x2="107.5" y2="624.9" stroke="#cc0033" stroke-width="1"/>
<rect x="104.0" y="618.0" width="6" height="5.0" fill="#cc0033"/>
<line x1="114.5" y1="595.0" x2="114.5" y2="619.8" stroke="#000" stroke-width="1"/>
<rect x="111.0" y="604.0" width="6" height="2.0" fill="#000"/>
<line x1="122.5" y1="570.0" x2="122.5" y2="595.8" stroke="#000" stroke-width="1"/>
<rect x="119.5" y="574.5" width="5" height="19.0" fill="#fff" stroke="#000" stroke-width="1"/>
<line x1="129.5" y1="576.6" x2="129.5" y2="591.7" stroke="#cc0033" stroke-width="1"/>
<rect x="126.0" y="583.0" width="6" height="2.0" fill="#cc0033"/>
<line x1="136.5" y1="579.2" x2="136.5" y2="669.6" stroke="#cc0033" stroke-width="1"/>
<rect x="133.0" y="585.0" width="6" height="79.0" fill="#cc0033"/>
<line x1="144.5" y1="641.8" x2="144.5" y2="674.8" stroke="#cc0033" stroke-width="1"/>
<rect x="141.0" y="648.0" width="6" height="25.0" fill="#cc0033"/>
<line x1="151.5" y1="629.5" x2="151.5" y2="692.7" stroke="#000" stroke-width="1"/>
<rect x="148.5" y="655.5" width="5" height="35.0" fill="#fff" stroke="#000" stroke-width="1"/>
<line x1="158.5" y1="632.1" x2="158.5" y2="662.0" stroke="#000" stroke-width="1"/>
<rect x="155.5" y="633.5" width="5" height="13.0" fill="#fff" stroke="#000" stroke-width="1"/>
<line x1="165.5" y1="604.5" x2="165.5" y2="627.7" stroke="#000" stroke-width="1"/>
<rect x="162.5" y="604.5" width="5" height="22.0" fill="#fff" stroke="#000" stroke-width="1"/>
<line x1="173.5" y1="599.6" x2="173.5" y2="619.8" stroke="#cc0033" stroke-width="1"/>
<rect x="170.5" y="607.5" width="5" height="2.0" fill="#fff" stroke="#cc0033" stroke-width="1"/>
<line x1="180.5" y1="618.8" x2="180.5" y2="655.1" stroke="#cc0033" stroke-width="1"/>
<rect x="177.0" y="620.0" width="6" height="17.0" fill="#cc0033"/>
<line x1="187.5" y1="648.7" x2="187.5" y2="679.9" stroke="#cc0033" stroke-width="1"/>
<rect x="184.0" y="664.0" width="6" height="2.0" fill="#cc0033"/>
<line x1="195.5" y1="655.8" x2="195.5" y2="687.0" stroke="#cc0033" stroke-width="1"/>
<rect x="192.0" y="658.0" width="6" height="25.0" fill="#cc0033"/>
<line x1="202.5" y1="659.7" x2="202.5" y2="704.9" stroke="#cc0033" stroke-width="1"/>
<rect x="199.0" y="672.0" width="6" height="14.0" fill="#cc0033"/>
<line x1="209.5" y1="646.9" x2="209.5" y2="677.3" stroke="#000" stroke-width="1"/>
<rect x="206.5" y="651.5" width="5" height="23.0" fill="#fff" stroke="#000" stroke-width="1"/>
<line x1="216.5" y1="612.9" x2="216.5" y2="638.0" stroke="#000" stroke-width="1"/>
<rect x="213.0" y="627.0" width="6" height="2.0" fill="#000"/>
<line x1="224.5" y1="620.6" x2="224.5" y2="673.7" stroke="#cc0033" stroke-width="1"/>
<rect x="221.0" y="621.0" width="6" height="45.0" fill="#cc0033"/>
<line x1="231.5" y1="658.9" x2="231.5" y2="685.0" stroke="#000" stroke-width="1"/>
<rect x="228.5" y="665.5" width="5" height="2.0" fill="#fff" stroke="#000" stroke-width="1"/>
<line x1="238.5" y1="681.9" x2="238.5" y2="713.1" stroke="#cc0033" stroke-width="1"/>
<rect x="235.0" y="682.0" width="6" height="18.0" fill="#cc0033"/>
<line x1="246.5" y1="704.4" x2="246.5" y2="730.3" stroke="#cc0033" stroke-width="1"/>
<rect x="243.5" y="705.5" width="5" height="18.0" fill="#fff" stroke="#cc0033" stroke-width="1"/>
<line x1="253.5" y1="687.0" x2="253.5" y2="721.4" stroke="#cc0033" stroke-width="1"/>
<rect x="250.0" y="694.0" width="6" height="15.0" fill="#cc0033"/>
<line x1="260.5" y1="655.1" x2="260.5" y2="681.9" stroke="#000" stroke-width="1"/>
<rect x="257.5" y="660.5" width="5" height="16.0" fill="#fff" stroke="#000" stroke-width="1"/>
<line x1="268.5" y1="650.0" x2="268.5" y2="676.8" stroke="#cc0033" stroke-width="1"/>
<rect x="265.0" y="651.0" width="6" height="24.0" fill="#cc0033"/>
<line x1="275.5" y1="632.1" x2="275.5" y2="650.7" stroke="#000" stroke-width="1"/>
<rect x="272.0" y="637.0" width="6" height="2.0" fill="#000"/>
<line x1="282.5" y1="620.6" x2="282.5" y2="647.4" stroke="#000" stroke-width="1"/>
<rect x="279.0" y="627.0" width="6" height="2.0" fill="#000"/>
<line x1="289.5" y1="588.6" x2="289.5" y2="608.6" stroke="#000" stroke-width="1"/>
<rect x="286.5" y="598.5" width="5" height="9.0" fill="#fff" stroke="#000" stroke-width="1"/>
<line x1="297.5" y1="593.2" x2="297.5" y2="612.1" stroke="#000" stroke-width="1"/>
<rect x="294.5" y="593.5" width="5" height="17.0" fill="#fff" stroke="#000" stroke-width="1"/>
<line x1="304.5" y1="588.6" x2="304.5" y2="612.9" stroke="#cc0033" stroke-width="1"/>
<rect x="301.0" y="592.0" width="6" height="15.0" fill="#cc0033"/>
<line x1="311.5" y1="653.8" x2="311.5" y2="687.0" stroke="#cc0033" stroke-width="1"/>
<rect x="308.5" y="671.5" width="5" height="13.0" fill="#fff" stroke="#cc0033" stroke-width="1"/>
<line x1="319.5" y1="632.8" x2="319.5" y2="679.9" stroke="#000" stroke-width="1"/>
<rect x="316.5" y="637.5" width="5" height="27.0" fill="#fff" stroke="#000" stroke-width="1"/>
<line x1="326.5" y1="635.9" x2="326.5" y2="658.9" stroke="#cc0033" stroke-width="1"/>
<rect x="323.0" y="636.0" width="6" height="6.0" fill="#cc0033"/>
<line x1="333.5" y1="620.6" x2="333.5" y2="654.3" stroke="#000" stroke-width="1"/>
<rect x="330.0" y="631.0" width="6" height="2.0" fill="#000"/>
<line x1="340.5" y1="598.8" x2="340.5" y2="641.8" stroke="#cc0033" stroke-width="1"/>
<rect x="337.0" y="617.0" width="6" height="20.0" fill="#cc0033"/>
<line x1="348.5" y1="643.1" x2="348.5" y2="683.7" stroke="#cc0033" stroke-width="1"/>
<rect x="345.5" y="654.5" width="5" height="20.0" fill="#fff" stroke="#cc0033" stroke-width="1"/>
<line x1="355.5" y1="624.9" x2="355.5" y2="653.8" stroke="#000" stroke-width="1"/>
<rect x="352.5" y="627.5" width="5" height="23.0" fill="#fff" stroke="#000" stroke-width="1"/>
<line x1="362.5" y1="617.3" x2="362.5" y2="643.6" stroke="#000" stroke-width="1"/>
<rect x="359.5" y="619.5" width="5" height="19.0" fill="#fff" stroke="#000" stroke-width="1"/>
<line x1="370.5" y1="606.0" x2="370.5" y2="623.1" stroke="#000" stroke-width="1"/>
<rect x="367.5" y="606.5" width="5" height="10.0" fill="#fff" stroke="#000" stroke-width="1"/>
<line x1="377.5" y1="595.8" x2="377.5" y2="638.0" stroke="#cc0033" stroke-width="1"/>
<rect x="374.0" y="606.0" width="6" height="29.0" fill="#cc0033"/>
<line x1="384.5" y1="604.0" x2="384.5" y2="619.8" stroke="#000" stroke-width="1"/>
<rect x="381.5" y="608.5" width="5" height="7.0" fill="#fff" stroke="#000" stroke-width="1"/>
<line x1="392.5" y1="606.0" x2="392.5" y2="621.9" stroke="#cc0033" stroke-width="1"/>
<rect x="389.5" y="615.5" width="5" height="5.0" fill="#fff" stroke="#cc0033" stroke-width="1"/>
<line x1="399.5" y1="609.1" x2="399.5" y2="638.5" stroke="#000" stroke-width="1"/>
<rect x="396.5" y="611.5" width="5" height="24.0" fill="#fff" stroke="#000" stroke-width="1"/>
<line x1="406.5" y1="579.2" x2="406.5" y2="608.6" stroke="#000" stroke-width="1"/>
<rect x="403.5" y="580.5" width="5" height="24.0" fill="#fff" stroke="#000" stroke-width="1"/>
<line x1="413.5" y1="569.5" x2="413.5" y2="582.7" stroke="#000" stroke-width="1"/>
<rect x="410.5" y="573.5" width="5" height="6.0" fill="#fff" stroke="#000" stroke-width="1"/>
<line x1="421.5" y1="563.8" x2="421.5" y2="580.4" stroke="#000" stroke-width="1"/>
<rect x="418.0" y="566.0" width="6" height="2.0" fill="#000"/>
<line x1="428.5" y1="561.3" x2="428.5" y2="579.2" stroke="#000" stroke-width="1"/>
<rect x="425.5" y="567.5" width="5" height="4.0" fill="#fff" stroke="#000" stroke-width="1"/>
<line x1="435.5" y1="568.2" x2="435.5" y2="595.8" stroke="#cc0033" stroke-width="1"/>
<rect x="432.0" y="570.0" width="6" height="7.0" fill="#cc0033"/>
<line x1="443.5" y1="572.0" x2="443.5" y2="624.4" stroke="#cc0033" stroke-width="1"/>
<rect x="440.0" y="572.0" width="6" height="51.0" fill="#cc0033"/>
<line x1="450.5" y1="611.1" x2="450.5" y2="649.5" stroke="#cc0033" stroke-width="1"/>
<rect x="447.0" y="616.0" width="6" height="32.0" fill="#cc0033"/>
<line x1="457.5" y1="651.2" x2="457.5" y2="691.6" stroke="#cc0033" stroke-width="1"/>
<rect x="454.0" y="652.0" width="6" height="24.0" fill="#cc0033"/>
<line x1="464.5" y1="648.2" x2="464.5" y2="682.7" stroke="#000" stroke-width="1"/>
<rect x="461.0" y="667.0" width="6" height="4.0" fill="#000"/>
<line x1="472.5" y1="651.2" x2="472.5" y2="730.8" stroke="#cc0033" stroke-width="1"/>
<rect x="469.0" y="655.0" width="6" height="74.0" fill="#cc0033"/>
<line x1="479.5" y1="692.7" x2="479.5" y2="743.6" stroke="#000" stroke-width="1"/>
<rect x="476.5" y="695.5" width="5" height="36.0" fill="#fff" stroke="#000" stroke-width="1"/>
<line x1="486.5" y1="676.0" x2="486.5" y2="756.7" stroke="#cc0033" stroke-width="1"/>
<rect x="483.0" y="685.0" width="6" height="56.0" fill="#cc0033"/>
<line x1="494.5" y1="715.1" x2="494.5" y2="780.7" stroke="#cc0033" stroke-width="1"/>
<rect x="491.5" y="748.5" width="5" height="7.0" fill="#fff" stroke="#cc0033" stroke-width="1"/>
<line x1="501.5" y1="715.1" x2="501.5" y2="765.4" stroke="#000" stroke-width="1"/>
<rect x="498.5" y="721.5" width="5" height="25.0" fill="#fff" stroke="#000" stroke-width="1"/>
<line x1="508.5" y1="736.2" x2="508.5" y2="787.3" stroke="#cc0033" stroke-width="1"/>
<rect x="505.0" y="761.0" width="6" height="18.0" fill="#cc0033"/>
<line x1="516.5" y1="757.9" x2="516.5" y2="810.8" stroke="#000" stroke-width="1"/>
<rect x="513.5" y="764.5" width="5" height="17.0" fill="#fff" stroke="#000" stroke-width="1"/>
<line x1="523.5" y1="797.3" x2="523.5" y2="860.7" stroke="#cc0033" stroke-width="1"/>
<rect x="520.0" y="801.0" width="6" height="40.0" fill="#cc0033"/>
<line x1="530.5" y1="818.0" x2="530.5" y2="866.6" stroke="#cc0033" stroke-width="1"/>
<rect x="527.0" y="843.0" width="6" height="3.0" fill="#cc0033"/>
<line x1="537.5" y1="808.3" x2="537.5" y2="846.6" stroke="#000" stroke-width="1"/>
<rect x="534.0" y="818.0" width="6" height="6.0" fill="#000"/>
<line x1="545.5" y1="828.2" x2="545.5" y2="869.6" stroke="#cc0033" stroke-width="1"/>
<rect x="542.0" y="830.0" width="6" height="31.0" fill="#cc0033"/>
<line x1="552.5" y1="811.4" x2="552.5" y2="840.8" stroke="#000" stroke-width="1"/>
<rect x="549.5" y="813.5" width="5" height="24.0" fill="#fff" stroke="#000" stroke-width="1"/>
<line x1="559.5" y1="789.1" x2="559.5" y2="822.9" stroke="#000" stroke-width="1"/>
<rect x="556.5" y="803.5" width="5" height="13.0" fill="#fff" stroke="#000" stroke-width="1"/>
<line x1="567.5" y1="816.0" x2="567.5" y2="844.6" stroke="#cc0033" stroke-width="1"/>
<rect x="564.0" y="818.0" width="6" height="19.0" fill="#cc0033"/>
<line x1="574.5" y1="791.7" x2="574.5" y2="834.6" stroke="#000" stroke-width="1"/>
<rect x="571.5" y="810.5" width="5" height="15.0" fill="#fff" stroke="#000" stroke-width="1"/>
<line x1="581.5" y1="795.0" x2="581.5" y2="830.0" stroke="#cc0033" stroke-width="1"/>
<rect x="578.5" y="816.5" width="5" height="11.0" fill="#fff" stroke="#cc0033" stroke-width="1"/>
<line x1="588.5" y1="807.0" x2="588.5" y2="843.6" stroke="#000" stroke-width="1"/>
<rect x="585.5" y="808.5" width="5" height="28.0" fill="#fff" stroke="#000" stroke-width="1"/>
<line x1="596.5" y1="763.1" x2="596.5" y2="782.0" stroke="#000" stroke-width="1"/>
<rect x="593.5" y="766.5" width="5" height="14.0" fill="#fff" stroke="#000" stroke-width="1"/>
<line x1="603.5" y1="755.1" x2="603.5" y2="767.9" stroke="#000" stroke-width="1"/>
<rect x="600.5" y="755.5" width="5" height="8.0" fill="#fff" stroke="#000" stroke-width="1"/>
<line x1="610.5" y1="757.2" x2="610.5" y2="799.9" stroke="#cc0033" stroke-width="1"/>
<rect x="607.0" y="760.0" width="6" height="32.0" fill="#cc0033"/>
<line x1="618.5" y1="782.7" x2="618.5" y2="810.8" stroke="#cc0033" stroke-width="1"/>
<rect x="615.0" y="802.0" width="6" height="2.0" fill="#cc0033"/>
<line x1="625.5" y1="809.1" x2="625.5" y2="860.7" stroke="#cc0033" stroke-width="1"/>
<rect x="622.0" y="812.0" width="6" height="45.0" fill="#cc0033"/>
<line x1="632.5" y1="852.3" x2="632.5" y2="904.6" stroke="#cc0033" stroke-width="1"/>
<rect x="629.5" y="856.5" width="5" height="27.0" fill="#fff" stroke="#cc0033" stroke-width="1"/>
<line x1="640.5" y1="837.2" x2="640.5" y2="875.5" stroke="#000" stroke-width="1"/>
<rect x="637.5" y="840.5" width="5" height="24.0" fill="#fff" stroke="#000" stroke-width="1"/>
<line x1="647.5" y1="812.9" x2="647.5" y2="868.9" stroke="#000" stroke-width="1"/>
<rect x="644.5" y="826.5" width="5" height="39.0" fill="#fff" stroke="#000" stroke-width="1"/>
<line x1="654.5" y1="893.9" x2="654.5" y2="934.8" stroke="#cc0033" stroke-width="1"/>
<rect x="651.0" y="907.0" width="6" height="26.0" fill="#cc0033"/>
<line x1="661.5" y1="974.8" x2="661.5" y2="1046.6" stroke="#cc0033" stroke-width="1"/>
<rect x="658.0" y="982.0" width="6" height="64.0" fill="#cc0033"/>
<line x1="669.5" y1="964.8" x2="669.5" y2="1130.7" stroke="#000" stroke-width="1"/>
<rect x="666.5" y="1041.5" width="5" height="65.0" fill="#fff" stroke="#000" stroke-width="1"/>
<line x1="676.5" y1="964.1" x2="676.5" y2="1100.8" stroke="#cc0033" stroke-width="1"/>
<rect x="673.0" y="981.0" width="6" height="95.0" fill="#cc0033"/>
<line x1="683.5" y1="861.5" x2="683.5" y2="1077.0" stroke="#000" stroke-width="1"/>
<rect x="680.5" y="870.5" width="5" height="202.0" fill="#fff" stroke="#000" stroke-width="1"/>
<line x1="691.5" y1="913.1" x2="691.5" y2="1005.7" stroke="#cc0033" stroke-width="1"/>
<rect x="688.0" y="922.0" width="6" height="29.0" fill="#cc0033"/>
<line x1="698.5" y1="911.3" x2="698.5" y2="969.9" stroke="#000" stroke-width="1"/>
<rect x="695.5" y="915.5" width="5" height="37.0" fill="#fff" stroke="#000" stroke-width="1"/>
<line x1="705.5" y1="873.5" x2="705.5" y2="923.8" stroke="#000" stroke-width="1"/>
<rect x="702.0" y="874.0" width="6" height="31.0" fill="#000"/>
<line x1="712.5" y1="883.7" x2="712.5" y2="909.8" stroke="#000" stroke-width="1"/>
<rect x="709.0" y="901.0" width="6" height="2.0" fill="#000"/>
<line x1="720.5" y1="924.1" x2="720.5" y2="985.8" stroke="#cc0033" stroke-width="1"/>
<rect x="717.0" y="937.0" width="6" height="23.0" fill="#cc0033"/>
<line x1="727.5" y1="943.8" x2="727.5" y2="971.0" stroke="#000" stroke-width="1"/>
<rect x="724.0" y="947.0" width="6" height="11.0" fill="#000"/>
<line x1="734.5" y1="980.2" x2="734.5" y2="1026.7" stroke="#cc0033" stroke-width="1"/>
<rect x="731.0" y="982.0" width="6" height="22.0" fill="#cc0033"/>
<line x1="742.5" y1="945.0" x2="742.5" y2="985.8" stroke="#000" stroke-width="1"/>
<rect x="739.5" y="958.5" width="5" height="23.0" fill="#fff" stroke="#000" stroke-width="1"/>
<line x1="749.5" y1="880.6" x2="749.5" y2="923.3" stroke="#000" stroke-width="1"/>
<rect x="746.0" y="897.0" width="6" height="18.0" fill="#000"/>
<line x1="756.5" y1="862.7" x2="756.5" y2="910.5" stroke="#000" stroke-width="1"/>
<rect x="753.5" y="863.5" width="5" height="44.0" fill="#fff" stroke="#000" stroke-width="1"/>
<line x1="764.5" y1="838.5" x2="764.5" y2="871.4" stroke="#000" stroke-width="1"/>
<rect x="761.5" y="842.5" width="5" height="21.0" fill="#fff" stroke="#000" stroke-width="1"/>
<line x1="771.5" y1="832.1" x2="771.5" y2="868.4" stroke="#cc0033" stroke-width="1"/>
<rect x="768.0" y="841.0" width="6" height="2.0" fill="#cc0033"/>
<line x1="778.5" y1="826.7" x2="778.5" y2="854.8" stroke="#000" stroke-width="1"/>
<rect x="775.5" y="830.5" width="5" height="22.0" fill="#fff" stroke="#000" stroke-width="1"/>
<line x1="785.5" y1="823.6" x2="785.5" y2="885.0" stroke="#000" stroke-width="1"/>
<rect x="782.5" y="827.5" width="5" height="39.0" fill="#fff" stroke="#000" stroke-width="1"/>
<line x1="793.5" y1="780.9" x2="793.5" y2="807.0" stroke="#000" stroke-width="1"/>
<rect x="790.0" y="797.0" width="6" height="8.0" fill="#000"/>
<line x1="800.5" y1="766.1" x2="800.5" y2="790.9" stroke="#000" stroke-width="1"/>
<rect x="797.5" y="775.5" width="5" height="9.0" fill="#fff" stroke="#000" stroke-width="1"/>
<line x1="807.5" y1="774.3" x2="807.5" y2="794.7" stroke="#cc0033" stroke-width="1"/>
<rect x="804.5" y="787.5" width="5" height="3.0" fill="#fff" stroke="#cc0033" stroke-width="1"/>
<line x1="815.5" y1="790.9" x2="815.5" y2="818.5" stroke="#cc0033" stroke-width="1"/>
<rect x="812.5" y="806.5" width="5" height="7.0" fill="#fff" stroke="#cc0033" stroke-width="1"/>
<line x1="822.5" y1="788.4" x2="822.5" y2="824.9" stroke="#000" stroke-width="1"/>
<rect x="819.5" y="797.5" width="5" height="5.0" fill="#fff" stroke="#000" stroke-width="1"/>
<line x1="829.5" y1="761.0" x2="829.5" y2="793.7" stroke="#000" stroke-width="1"/>
<rect x="826.0" y="776.0" width="6" height="2.0" fill="#000"/>
<line x1="836.5" y1="762.8" x2="836.5" y2="786.1" stroke="#cc0033" stroke-width="1"/>
<rect x="833.0" y="767.0" width="6" height="11.0" fill="#cc0033"/>
<line x1="844.5" y1="697.3" x2="844.5" y2="722.7" stroke="#000" stroke-width="1"/>
<rect x="841.5" y="697.5" width="5" height="4.0" fill="#fff" stroke="#000" stroke-width="1"/>
<line x1="851.5" y1="658.4" x2="851.5" y2="694.7" stroke="#000" stroke-width="1"/>
<rect x="848.5" y="665.5" width="5" height="28.0" fill="#fff" stroke="#000" stroke-width="1"/>
<line x1="858.5" y1="650.0" x2="858.5" y2="664.5" stroke="#000" stroke-width="1"/>
<rect x="855.5" y="653.5" width="5" height="5.0" fill="#fff" stroke="#000" stroke-width="1"/>
<line x1="866.5" y1="639.2" x2="866.5" y2="667.9" stroke="#000" stroke-width="1"/>
<rect x="863.5" y="650.5" width="5" height="12.0" fill="#fff" stroke="#000" stroke-width="1"/>
<line x1="873.5" y1="639.7" x2="873.5" y2="658.9" stroke="#000" stroke-width="1"/>
<rect x="870.5" y="642.5" width="5" height="4.0" fill="#fff" stroke="#000" stroke-width="1"/>
<line x1="880.5" y1="637.2" x2="880.5" y2="670.4" stroke="#000" stroke-width="1"/>
<rect x="877.5" y="639.5" width="5" height="30.0" fill="#fff" stroke="#000" stroke-width="1"/>
<line x1="888.5" y1="643.1" x2="888.5" y2="661.5" stroke="#cc0033" stroke-width="1"/>
<rect x="885.5" y="647.5" width="5" height="1.0" fill="#fff" stroke="#cc0033" stroke-width="1"/>
<line x1="895.5" y1="635.9" x2="895.5" y2="683.2" stroke="#cc0033" stroke-width="1"/>
<rect x="892.0" y="662.0" width="6" height="13.0" fill="#cc0033"/>
<line x1="902.5" y1="657.1" x2="902.5" y2="679.9" stroke="#000" stroke-width="1"/>
<rect x="899.5" y="672.5" width="5" height="2.0" fill="#fff" stroke="#000" stroke-width="1"/>
<line x1="909.5" y1="681.2" x2="909.5" y2="704.9" stroke="#cc0033" stroke-width="1"/>
<rect x="906.5" y="692.5" width="5" height="10.0" fill="#fff" stroke="#cc0033" stroke-width="1"/>
<line x1="917.5" y1="639.7" x2="917.5" y2="669.6" stroke="#000" stroke-width="1"/>
<rect x="914.5" y="642.5" width="5" height="20.0" fill="#fff" stroke="#000" stroke-width="1"/>
<line x1="924.5" y1="633.4" x2="924.5" y2="655.1" stroke="#cc0033" stroke-width="1"/>
<rect x="921.0" y="638.0" width="6" height="15.0" fill="#cc0033"/>
<line x1="931.5" y1="621.9" x2="931.5" y2="658.1" stroke="#000" stroke-width="1"/>
<rect x="928.0" y="622.0" width="6" height="25.0" fill="#000"/>
<line x1="939.5" y1="645.4" x2="939.5" y2="680.6" stroke="#cc0033" stroke-width="1"/>
<rect x="936.0" y="649.0" width="6" height="2.0" fill="#cc0033"/>
<line x1="946.5" y1="632.8" x2="946.5" y2="664.8" stroke="#000" stroke-width="1"/>
<rect x="943.5" y="633.5" width="5" height="23.0" fill="#fff" stroke="#000" stroke-width="1"/>
<line x1="953.5" y1="612.1" x2="953.5" y2="636.7" stroke="#000" stroke-width="1"/>
<rect x="950.5" y="618.5" width="5" height="12.0" fill="#fff" stroke="#000" stroke-width="1"/>
<line x1="960.5" y1="607.3" x2="960.5" y2="623.6" stroke="#000" stroke-width="1"/>
<rect x="957.5" y="612.5" width="5" height="2.0" fill="#fff" stroke="#000" stroke-width="1"/>
<line x1="968.5" y1="594.2" x2="968.5" y2="636.4" stroke="#cc0033" stroke-width="1"/>
<rect x="965.0" y="605.0" width="6" height="24.0" fill="#cc0033"/>
<line x1="975.5" y1="600.1" x2="975.5" y2="614.7" stroke="#000" stroke-width="1"/>
<rect x="972.0" y="606.0" width="6" height="2.0" fill="#000"/>
<line x1="982.5" y1="598.1" x2="982.5" y2="611.1" stroke="#000" stroke-width="1"/>
<rect x="979.0" y="604.0" width="6" height="2.0" fill="#000"/>
<line x1="990.5" y1="586.6" x2="990.5" y2="612.1" stroke="#000" stroke-width="1"/>
<rect x="987.5" y="589.5" width="5" height="11.0" fill="#fff" stroke="#000" stroke-width="1"/>
<line x1="997.5" y1="579.7" x2="997.5" y2="607.0" stroke="#cc0033" stroke-width="1"/>
<rect x="994.0" y="584.0" width="6" height="13.0" fill="#cc0033"/>
<line x1="1004.5" y1="588.1" x2="1004.5" y2="604.0" stroke="#000" stroke-width="1"/>
<rect x="1001.5" y="592.5" width="5" height="8.0" fill="#fff" stroke="#000" stroke-width="1"/>
<line x1="1012.5" y1="599.4" x2="1012.5" y2="624.9" stroke="#cc0033" stroke-width="1"/>
<rect x="1009.0" y="616.0" width="6" height="4.0" fill="#cc0033"/>
<line x1="1019.5" y1="587.3" x2="1019.5" y2="605.2" stroke="#000" stroke-width="1"/>
<rect x="1016.5" y="590.5" width="5" height="14.0" fill="#fff" stroke="#000" stroke-width="1"/>
<line x1="1026.5" y1="594.2" x2="1026.5" y2="615.5" stroke="#cc0033" stroke-width="1"/>
<rect x="1023.0" y="597.0" width="6" height="15.0" fill="#cc0033"/>
<line x1="1033.5" y1="597.6" x2="1033.5" y2="618.0" stroke="#000" stroke-width="1"/>
<rect x="1030.0" y="609.0" width="6" height="2.0" fill="#000"/>
<line x1="1041.5" y1="594.2" x2="1041.5" y2="629.0" stroke="#cc0033" stroke-width="1"/>
<rect x="1038.0" y="600.0" width="6" height="21.0" fill="#cc0033"/>
<line x1="1048.5" y1="596.3" x2="1048.5" y2="630.8" stroke="#000" stroke-width="1"/>
<rect x="1045.5" y="598.5" width="5" height="21.0" fill="#fff" stroke="#000" stroke-width="1"/>
<line x1="1055.5" y1="561.8" x2="1055.5" y2="579.7" stroke="#000" stroke-width="1"/>
<rect x="1052.5" y="564.5" width="5" height="13.0" fill="#fff" stroke="#000" stroke-width="1"/>
<line x1="1063.5" y1="550.3" x2="1063.5" y2="566.9" stroke="#000" stroke-width="1"/>
<rect x="1060.0" y="555.0" width="6" height="3.0" fill="#000"/>
<line x1="1070.5" y1="536.2" x2="1070.5" y2="558.0" stroke="#000" stroke-width="1"/>
<rect x="1067.5" y="539.5" width="5" height="11.0" fill="#fff" stroke="#000" stroke-width="1"/>
<line x1="1077.5" y1="522.9" x2="1077.5" y2="545.7" stroke="#000" stroke-width="1"/>
<rect x="1074.5" y="531.5" width="5" height="4.0" fill="#fff" stroke="#000" stroke-width="1"/>
<line x1="1084.5" y1="511.4" x2="1084.5" y2="526.8" stroke="#000" stroke-width="1"/>
<rect x="1081.5" y="516.5" width="5" height="4.0" fill="#fff" stroke="#000" stroke-width="1"/>
<line x1="1092.5" y1="520.1" x2="1092.5" y2="543.9" stroke="#cc0033" stroke-width="1"/>
<rect x="1089.0" y="524.0" width="6" height="11.0" fill="#cc0033"/>
<line x1="1099.5" y1="519.1" x2="1099.5" y2="540.1" stroke="#000" stroke-width="1"/>
<rect x="1096.5" y="520.5" width="5" height="18.0" fill="#fff" stroke="#000" stroke-width="1"/>
<line x1="1106.5" y1="493.3" x2="1106.5" y2="509.9" stroke="#000" stroke-width="1"/>
<rect x="1103.5" y="496.5" width="5" height="12.0" fill="#fff" stroke="#000" stroke-width="1"/>
<line x1="1114.5" y1="508.0" x2="1114.5" y2="524.1" stroke="#cc0033" stroke-width="1"/>
<rect x="1111.0" y="508.0" width="6" height="7.0" fill="#cc0033"/>
<line x1="1121.5" y1="507.1" x2="1121.5" y2="518.7" stroke="#000" stroke-width="1"/>
<rect x="1118.0" y="511.0" width="6" height="3.0" fill="#000"/>
<line x1="1128.5" y1="491.5" x2="1128.5" y2="511.2" stroke="#000" stroke-width="1"/>
<rect x="1125.5" y="497.5" width="5" height="5.0" fill="#fff" stroke="#000" stroke-width="1"/>
<line x1="1136.5" y1="492.3" x2="1136.5" y2="511.9" stroke="#cc0033" stroke-width="1"/>
<rect x="1133.0" y="495.0" width="6" height="7.0" fill="#cc0033"/>
</g>
<line x1="786" y1="484" x2="1413" y2="484" stroke="#555555" stroke-width="2" shape-rendering="crispEdges"/>
<line x1="786" y1="529" x2="1420.0" y2="529" stroke="#555555" stroke-width="2" shape-rendering="crispEdges"/>
<line x1="786" y1="559" x2="1420.6" y2="559" stroke="#555555" stroke-width="2" shape-rendering="crispEdges"/>
<line x1="786" y1="635" x2="1420.0" y2="635" stroke="#555555" stroke-width="2" shape-rendering="crispEdges"/>
<line x1="786" y1="684" x2="1420.6" y2="684" stroke="#555555" stroke-width="2" shape-rendering="crispEdges"/>
<line x1="786" y1="760" x2="1420.6" y2="760" stroke="#555555" stroke-width="2" shape-rendering="crispEdges"/>
<line x1="786" y1="784" x2="1420.6" y2="784" stroke="#555555" stroke-width="2" shape-rendering="crispEdges"/>
<line x1="786" y1="808" x2="1420.6" y2="808" stroke="#555555" stroke-width="2" shape-rendering="crispEdges"/>
<line x1="786" y1="837" x2="1420.6" y2="837" stroke="#555555" stroke-width="2" shape-rendering="crispEdges"/>
<line x1="786" y1="885" x2="1420.6" y2="885" stroke="#555555" stroke-width="2" shape-rendering="crispEdges"/>
<line x1="786.5" y1="867" x2="786.5" y2="885" stroke="#555" stroke-width="1" shape-rendering="crispEdges"/>
<line x1="815" y1="586" x2="1180.0" y2="586" stroke="#f79800" stroke-width="2" shape-rendering="crispEdges"/>
<line x1="815" y1="632" x2="1172.3" y2="632" stroke="#f79800" stroke-width="2" shape-rendering="crispEdges"/>
<line x1="815" y1="706" x2="1172.3" y2="706" stroke="#f79800" stroke-width="2" shape-rendering="crispEdges"/>
<line x1="815" y1="751" x2="1172.3" y2="751" stroke="#f79800" stroke-width="2" shape-rendering="crispEdges"/>
<line x1="815" y1="765" x2="1172.3" y2="765" stroke="#f79800" stroke-width="2" shape-rendering="crispEdges"/>
<line x1="815" y1="779" x2="1172.3" y2="779" stroke="#f79800" stroke-width="2" shape-rendering="crispEdges"/>
<line x1="815" y1="796" x2="1172.3" y2="796" stroke="#f79800" stroke-width="2" shape-rendering="crispEdges"/>
<line x1="815" y1="825" x2="1172.3" y2="825" stroke="#f79800" stroke-width="2" shape-rendering="crispEdges"/>
<line x1="735" y1="491" x2="1508.3" y2="491" stroke="#008a14" stroke-width="2" shape-rendering="crispEdges"/>
<line x1="735" y1="593" x2="1508.3" y2="593" stroke="#008a14" stroke-width="2" shape-rendering="crispEdges"/>
<line x1="735" y1="759" x2="1508.3" y2="759" stroke="#008a14" stroke-width="2" shape-rendering="crispEdges"/>
<line x1="735" y1="861" x2="1508.3" y2="861" stroke="#008a14" stroke-width="2" shape-rendering="crispEdges"/>
<line x1="735" y1="893" x2="1508.3" y2="893" stroke="#008a14" stroke-width="2" shape-rendering="crispEdges"/>
<line x1="735" y1="924" x2="1508.3" y2="924" stroke="#008a14" stroke-width="2" shape-rendering="crispEdges"/>
<line x1="735" y1="963" x2="1508.3" y2="963" stroke="#008a14" stroke-width="2" shape-rendering="crispEdges"/>
<line x1="735" y1="1027" x2="1508.3" y2="1027" stroke="#008a14" stroke-width="2" shape-rendering="crispEdges"/>
<line x1="735.5" y1="985" x2="735.5" y2="1027" stroke="#cc0033" stroke-width="1" shape-rendering="crispEdges"/>
<rect x="1048" y="484" width="109.3" height="44" fill="none" stroke="#555" stroke-width="2" shape-rendering="crispEdges"/>
<text x="1417.5" y="478.3" font-size="10.7" fill="#777777" text-anchor="end">200.00%: 23004.98</text>
<text x="1512.0" y="487.2" font-size="10.7" fill="#777777" text-anchor="end">200.00%: 22915.33</text>
<text x="1418.0" y="527.6" font-size="10.7" fill="#777777" text-anchor="end">174.60%: 22522.02</text>
<text x="1420.0" y="555.7" font-size="10.7" fill="#777777" text-anchor="end">161.8%: 22229.33</text>
<text x="1507.5" y="589.4" font-size="10.7" fill="#777777" text-anchor="end">161.8%: 21894.28</text>
<text x="1412.0" y="632.4" font-size="9" fill="#777777" text-anchor="end">123.60%: 21472.09</text>
<text x="1420.0" y="680.2" font-size="10.7" fill="#777777" text-anchor="end">100.0%: 20990.43</text>
<text x="1183.5" y="584.3" font-size="10.7" fill="#777777" text-anchor="end">200.00%: 21964.81</text>
<text x="1171.5" y="628.5" font-size="10.7" fill="#777777" text-anchor="end">161.8%: 21504.49</text>
<text x="1171.5" y="702.4" font-size="10.7" fill="#777777" text-anchor="end">100.0%: 20771.01</text>
<text x="1171.6" y="747.2" font-size="10.7" fill="#777777" text-anchor="end">61.8%: 20317.63</text>
<text x="1171.6" y="760.5" font-size="10.7" fill="#777777" text-anchor="end">50.0%: 20177.58</text>
<text x="1171.6" y="775.1" font-size="10.7" fill="#777777" text-anchor="end">38.2%: 20037.53</text>
<text x="1171.6" y="792.5" font-size="10.7" fill="#777777" text-anchor="end">23.6%: 19864.25</text>
<text x="1171.6" y="821.4" font-size="10.7" fill="#777777" text-anchor="end">0.0%: 19584.15</text>
<text x="1420.0" y="756.7" font-size="10.7" fill="#777777" text-anchor="end">61.8%: 20224.64</text>
<text x="1420.0" y="780.2" font-size="10.7" fill="#777777" text-anchor="end">50.0%: 19988.09</text>
<text x="1420.0" y="804.5" font-size="10.7" fill="#777777" text-anchor="end">38.2%: 19751.53</text>
<text x="1420.0" y="833.4" font-size="10.7" fill="#777777" text-anchor="end">23.6%: 19458.85</text>
<text x="1420.0" y="881.4" font-size="10.7" fill="#777777" text-anchor="end">0.0%: 18985.74</text>
<text x="1507.5" y="755.9" font-size="10.7" fill="#777777" text-anchor="end">100.0%: 20242.41</text>
<text x="1507.5" y="857.7" font-size="10.7" fill="#777777" text-anchor="end">61.8%: 19221.35</text>
<text x="1507.5" y="889.6" font-size="10.7" fill="#777777" text-anchor="end">50.0%: 18905.95</text>
<text x="1507.5" y="920.8" font-size="10.7" fill="#777777" text-anchor="end">38.2%: 18590.54</text>
<text x="1507.5" y="958.5" font-size="10.7" fill="#777777" text-anchor="end">23.6%: 18200.29</text>
<text x="1507.5" y="1022.9" font-size="10.7" fill="#777777" text-anchor="end">0.0%: 17569.48</text>
<line x1="1080" y1="759" x2="1508.3" y2="759" stroke="#008a14" stroke-width="2" shape-rendering="crispEdges"/>
<line x1="1418" y1="484.5" x2="1515" y2="484.5" stroke="#c0c0c0" stroke-width="1" shape-rendering="crispEdges"/>
<line x1="17" y1="511.5" x2="1515" y2="511.5" stroke="#0000ff" stroke-width="1" stroke-dasharray="4 2" shape-rendering="crispEdges"/>
<line x1="17" y1="524.5" x2="1515" y2="524.5" stroke="#555555" stroke-width="1" stroke-dasharray="4 2" shape-rendering="crispEdges"/>
<line x1="17" y1="544.5" x2="1515" y2="544.5" stroke="#ff9900" stroke-width="1" stroke-dasharray="4 2" shape-rendering="crispEdges"/>
<line x1="17" y1="629.5" x2="1515" y2="629.5" stroke="#ff0000" stroke-width="1" stroke-dasharray="4 2" shape-rendering="crispEdges"/>
<line x1="1516" y1="487.5" x2="1517" y2="487.5" stroke="#c0c0c0" stroke-width="1" shape-rendering="crispEdges"/>
<line x1="1516" y1="491.5" x2="1517" y2="491.5" stroke="#c0c0c0" stroke-width="1" shape-rendering="crispEdges"/>
<line x1="1516" y1="495.5" x2="1517" y2="495.5" stroke="#c0c0c0" stroke-width="1" shape-rendering="crispEdges"/>
<line x1="1516" y1="499.5" x2="1517" y2="499.5" stroke="#c0c0c0" stroke-width="1" shape-rendering="crispEdges"/>
<line x1="1516" y1="503.5" x2="1517" y2="503.5" stroke="#c0c0c0" stroke-width="1" shape-rendering="crispEdges"/>
<line x1="1516" y1="507.5" x2="1517" y2="507.5" stroke="#c0c0c0" stroke-width="1" shape-rendering="crispEdges"/>
<line x1="1516" y1="511.5" x2="1517" y2="511.5" stroke="#c0c0c0" stroke-width="1" shape-rendering="crispEdges"/>
<line x1="1516" y1="515.5" x2="1517" y2="515.5" stroke="#c0c0c0" stroke-width="1" shape-rendering="crispEdges"/>
<line x1="1516" y1="519.5" x2="1517" y2="519.5" stroke="#c0c0c0" stroke-width="1" shape-rendering="crispEdges"/>
<line x1="1516" y1="523.5" x2="1517" y2="523.5" stroke="#c0c0c0" stroke-width="1" shape-rendering="crispEdges"/>
<line x1="1516" y1="527.5" x2="1517" y2="527.5" stroke="#c0c0c0" stroke-width="1" shape-rendering="crispEdges"/>
<line x1="1516" y1="531.5" x2="1517" y2="531.5" stroke="#c0c0c0" stroke-width="1" shape-rendering="crispEdges"/>
<line x1="1516" y1="535.5" x2="1517" y2="535.5" stroke="#c0c0c0" stroke-width="1" shape-rendering="crispEdges"/>
<line x1="1516" y1="539.5" x2="1517" y2="539.5" stroke="#c0c0c0" stroke-width="1" shape-rendering="crispEdges"/>
<line x1="1516" y1="543.5" x2="1517" y2="543.5" stroke="#c0c0c0" stroke-width="1" shape-rendering="crispEdges"/>
<line x1="1516" y1="547.5" x2="1517" y2="547.5" stroke="#c0c0c0" stroke-width="1" shape-rendering="crispEdges"/>
<line x1="1516" y1="551.5" x2="1517" y2="551.5" stroke="#c0c0c0" stroke-width="1" shape-rendering="crispEdges"/>
<line x1="1516" y1="555.5" x2="1517" y2="555.5" stroke="#c0c0c0" stroke-width="1" shape-rendering="crispEdges"/>
<line x1="1516" y1="559.5" x2="1517" y2="559.5" stroke="#c0c0c0" stroke-width="1" shape-rendering="crispEdges"/>
<line x1="1516" y1="563.5" x2="1517" y2="563.5" stroke="#c0c0c0" stroke-width="1" shape-rendering="crispEdges"/>
<line x1="1516" y1="567.5" x2="1517" y2="567.5" stroke="#c0c0c0" stroke-width="1" shape-rendering="crispEdges"/>
<line x1="1516" y1="571.5" x2="1517" y2="571.5" stroke="#c0c0c0" stroke-width="1" shape-rendering="crispEdges"/>
<line x1="1516" y1="575.5" x2="1517" y2="575.5" stroke="#c0c0c0" stroke-width="1" shape-rendering="crispEdges"/>
<line x1="1516" y1="579.5" x2="1517" y2="579.5" stroke="#c0c0c0" stroke-width="1" shape-rendering="crispEdges"/>
<line x1="1516" y1="583.5" x2="1517" y2="583.5" stroke="#c0c0c0" stroke-width="1" shape-rendering="crispEdges"/>
<line x1="1516" y1="587.5" x2="1517" y2="587.5" stroke="#c0c0c0" stroke-width="1" shape-rendering="crispEdges"/>
<line x1="1516" y1="591.5" x2="1517" y2="591.5" stroke="#c0c0c0" stroke-width="1" shape-rendering="crispEdges"/>
<line x1="1516" y1="595.5" x2="1517" y2="595.5" stroke="#c0c0c0" stroke-width="1" shape-rendering="crispEdges"/>
<line x1="1516" y1="599.5" x2="1517" y2="599.5" stroke="#c0c0c0" stroke-width="1" shape-rendering="crispEdges"/>
<line x1="1516" y1="603.5" x2="1517" y2="603.5" stroke="#c0c0c0" stroke-width="1" shape-rendering="crispEdges"/>
<line x1="1516" y1="607.5" x2="1517" y2="607.5" stroke="#c0c0c0" stroke-width="1" shape-rendering="crispEdges"/>
<line x1="1516" y1="611.5" x2="1517" y2="611.5" stroke="#c0c0c0" stroke-width="1" shape-rendering="crispEdges"/>
<line x1="1516" y1="615.5" x2="1517" y2="615.5" stroke="#c0c0c0" stroke-width="1" shape-rendering="crispEdges"/>
<line x1="1516" y1="619.5" x2="1517" y2="619.5" stroke="#c0c0c0" stroke-width="1" shape-rendering="crispEdges"/>
<line x1="1516" y1="623.5" x2="1517" y2="623.5" stroke="#c0c0c0" stroke-width="1" shape-rendering="crispEdges"/>
<line x1="1516" y1="627.5" x2="1517" y2="627.5" stroke="#c0c0c0" stroke-width="1" shape-rendering="crispEdges"/>
<line x1="1516" y1="631.5" x2="1517" y2="631.5" stroke="#c0c0c0" stroke-width="1" shape-rendering="crispEdges"/>
<line x1="1516" y1="635.5" x2="1517" y2="635.5" stroke="#c0c0c0" stroke-width="1" shape-rendering="crispEdges"/>
<line x1="1516" y1="639.5" x2="1517" y2="639.5" stroke="#c0c0c0" stroke-width="1" shape-rendering="crispEdges"/>
<line x1="1516" y1="643.5" x2="1517" y2="643.5" stroke="#c0c0c0" stroke-width="1" shape-rendering="crispEdges"/>
<line x1="1516" y1="647.5" x2="1517" y2="647.5" stroke="#c0c0c0" stroke-width="1" shape-rendering="crispEdges"/>
<line x1="1516" y1="651.5" x2="1517" y2="651.5" stroke="#c0c0c0" stroke-width="1" shape-rendering="crispEdges"/>
<line x1="1516" y1="655.5" x2="1517" y2="655.5" stroke="#c0c0c0" stroke-width="1" shape-rendering="crispEdges"/>
<line x1="1516" y1="659.5" x2="1517" y2="659.5" stroke="#c0c0c0" stroke-width="1" shape-rendering="crispEdges"/>
<line x1="1516" y1="663.5" x2="1517" y2="663.5" stroke="#c0c0c0" stroke-width="1" shape-rendering="crispEdges"/>
<line x1="1516" y1="668.5" x2="1517" y2="668.5" stroke="#c0c0c0" stroke-width="1" shape-rendering="crispEdges"/>
<line x1="1516" y1="672.5" x2="1517" y2="672.5" stroke="#c0c0c0" stroke-width="1" shape-rendering="crispEdges"/>
<line x1="1516" y1="676.5" x2="1517" y2="676.5" stroke="#c0c0c0" stroke-width="1" shape-rendering="crispEdges"/>
<line x1="1516" y1="680.5" x2="1517" y2="680.5" stroke="#c0c0c0" stroke-width="1" shape-rendering="crispEdges"/>
<line x1="1516" y1="684.5" x2="1517" y2="684.5" stroke="#c0c0c0" stroke-width="1" shape-rendering="crispEdges"/>
<line x1="1516" y1="688.5" x2="1517" y2="688.5" stroke="#c0c0c0" stroke-width="1" shape-rendering="crispEdges"/>
<line x1="1516" y1="692.5" x2="1517" y2="692.5" stroke="#c0c0c0" stroke-width="1" shape-rendering="crispEdges"/>
<line x1="1516" y1="696.5" x2="1517" y2="696.5" stroke="#c0c0c0" stroke-width="1" shape-rendering="crispEdges"/>
<line x1="1516" y1="700.5" x2="1517" y2="700.5" stroke="#c0c0c0" stroke-width="1" shape-rendering="crispEdges"/>
<line x1="1516" y1="704.5" x2="1517" y2="704.5" stroke="#c0c0c0" stroke-width="1" shape-rendering="crispEdges"/>
<line x1="1516" y1="708.5" x2="1517" y2="708.5" stroke="#c0c0c0" stroke-width="1" shape-rendering="crispEdges"/>
<line x1="1516" y1="712.5" x2="1517" y2="712.5" stroke="#c0c0c0" stroke-width="1" shape-rendering="crispEdges"/>
<line x1="1516" y1="716.5" x2="1517" y2="716.5" stroke="#c0c0c0" stroke-width="1" shape-rendering="crispEdges"/>
<line x1="1516" y1="720.5" x2="1517" y2="720.5" stroke="#c0c0c0" stroke-width="1" shape-rendering="crispEdges"/>
<line x1="1516" y1="724.5" x2="1517" y2="724.5" stroke="#c0c0c0" stroke-width="1" shape-rendering="crispEdges"/>
<line x1="1516" y1="728.5" x2="1517" y2="728.5" stroke="#c0c0c0" stroke-width="1" shape-rendering="crispEdges"/>
<line x1="1516" y1="732.5" x2="1517" y2="732.5" stroke="#c0c0c0" stroke-width="1" shape-rendering="crispEdges"/>
<line x1="1516" y1="736.5" x2="1517" y2="736.5" stroke="#c0c0c0" stroke-width="1" shape-rendering="crispEdges"/>
<line x1="1516" y1="740.5" x2="1517" y2="740.5" stroke="#c0c0c0" stroke-width="1" shape-rendering="crispEdges"/>
<line x1="1516" y1="744.5" x2="1517" y2="744.5" stroke="#c0c0c0" stroke-width="1" shape-rendering="crispEdges"/>
<line x1="1516" y1="748.5" x2="1517" y2="748.5" stroke="#c0c0c0" stroke-width="1" shape-rendering="crispEdges"/>
<line x1="1516" y1="752.5" x2="1517" y2="752.5" stroke="#c0c0c0" stroke-width="1" shape-rendering="crispEdges"/>
<line x1="1516" y1="756.5" x2="1517" y2="756.5" stroke="#c0c0c0" stroke-width="1" shape-rendering="crispEdges"/>
<line x1="1516" y1="760.5" x2="1517" y2="760.5" stroke="#c0c0c0" stroke-width="1" shape-rendering="crispEdges"/>
<line x1="1516" y1="764.5" x2="1517" y2="764.5" stroke="#c0c0c0" stroke-width="1" shape-rendering="crispEdges"/>
<line x1="1516" y1="768.5" x2="1517" y2="768.5" stroke="#c0c0c0" stroke-width="1" shape-rendering="crispEdges"/>
<line x1="1516" y1="772.5" x2="1517" y2="772.5" stroke="#c0c0c0" stroke-width="1" shape-rendering="crispEdges"/>
<line x1="1516" y1="776.5" x2="1517" y2="776.5" stroke="#c0c0c0" stroke-width="1" shape-rendering="crispEdges"/>
<line x1="1516" y1="780.5" x2="1517" y2="780.5" stroke="#c0c0c0" stroke-width="1" shape-rendering="crispEdges"/>
<line x1="1516" y1="784.5" x2="1517" y2="784.5" stroke="#c0c0c0" stroke-width="1" shape-rendering="crispEdges"/>
<line x1="1516" y1="788.5" x2="1517" y2="788.5" stroke="#c0c0c0" stroke-width="1" shape-rendering="crispEdges"/>
<line x1="1516" y1="792.5" x2="1517" y2="792.5" stroke="#c0c0c0" stroke-width="1" shape-rendering="crispEdges"/>
<line x1="1516" y1="796.5" x2="1517" y2="796.5" stroke="#c0c0c0" stroke-width="1" shape-rendering="crispEdges"/>
<line x1="1516" y1="800.5" x2="1517" y2="800.5" stroke="#c0c0c0" stroke-width="1" shape-rendering="crispEdges"/>
<line x1="1516" y1="804.5" x2="1517" y2="804.5" stroke="#c0c0c0" stroke-width="1" shape-rendering="crispEdges"/>
<line x1="1516" y1="808.5" x2="1517" y2="808.5" stroke="#c0c0c0" stroke-width="1" shape-rendering="crispEdges"/>
<line x1="1516" y1="812.5" x2="1517" y2="812.5" stroke="#c0c0c0" stroke-width="1" shape-rendering="crispEdges"/>
<line x1="1516" y1="816.5" x2="1517" y2="816.5" stroke="#c0c0c0" stroke-width="1" shape-rendering="crispEdges"/>
<line x1="1516" y1="820.5" x2="1517" y2="820.5" stroke="#c0c0c0" stroke-width="1" shape-rendering="crispEdges"/>
<line x1="1516" y1="824.5" x2="1517" y2="824.5" stroke="#c0c0c0" stroke-width="1" shape-rendering="crispEdges"/>
<line x1="1516" y1="828.5" x2="1517" y2="828.5" stroke="#c0c0c0" stroke-width="1" shape-rendering="crispEdges"/>
<line x1="1516" y1="832.5" x2="1517" y2="832.5" stroke="#c0c0c0" stroke-width="1" shape-rendering="crispEdges"/>
<line x1="1516" y1="836.5" x2="1517" y2="836.5" stroke="#c0c0c0" stroke-width="1" shape-rendering="crispEdges"/>
<line x1="1516" y1="840.5" x2="1517" y2="840.5" stroke="#c0c0c0" stroke-width="1" shape-rendering="crispEdges"/>
<line x1="1516" y1="844.5" x2="1517" y2="844.5" stroke="#c0c0c0" stroke-width="1" shape-rendering="crispEdges"/>
<line x1="1516" y1="848.5" x2="1517" y2="848.5" stroke="#c0c0c0" stroke-width="1" shape-rendering="crispEdges"/>
<line x1="1516" y1="852.5" x2="1517" y2="852.5" stroke="#c0c0c0" stroke-width="1" shape-rendering="crispEdges"/>
<line x1="1516" y1="856.5" x2="1517" y2="856.5" stroke="#c0c0c0" stroke-width="1" shape-rendering="crispEdges"/>
<line x1="1516" y1="860.5" x2="1517" y2="860.5" stroke="#c0c0c0" stroke-width="1" shape-rendering="crispEdges"/>
<line x1="1516" y1="864.5" x2="1517" y2="864.5" stroke="#c0c0c0" stroke-width="1" shape-rendering="crispEdges"/>
<line x1="1516" y1="868.5" x2="1517" y2="868.5" stroke="#c0c0c0" stroke-width="1" shape-rendering="crispEdges"/>
<line x1="1516" y1="872.5" x2="1517" y2="872.5" stroke="#c0c0c0" stroke-width="1" shape-rendering="crispEdges"/>
<line x1="1516" y1="876.5" x2="1517" y2="876.5" stroke="#c0c0c0" stroke-width="1" shape-rendering="crispEdges"/>
<line x1="1516" y1="880.5" x2="1517" y2="880.5" stroke="#c0c0c0" stroke-width="1" shape-rendering="crispEdges"/>
<line x1="1516" y1="884.5" x2="1517" y2="884.5" stroke="#c0c0c0" stroke-width="1" shape-rendering="crispEdges"/>
<line x1="1516" y1="888.5" x2="1517" y2="888.5" stroke="#c0c0c0" stroke-width="1" shape-rendering="crispEdges"/>
<line x1="1516" y1="892.5" x2="1517" y2="892.5" stroke="#c0c0c0" stroke-width="1" shape-rendering="crispEdges"/>
<line x1="1516" y1="896.5" x2="1517" y2="896.5" stroke="#c0c0c0" stroke-width="1" shape-rendering="crispEdges"/>
<line x1="1516" y1="900.5" x2="1517" y2="900.5" stroke="#c0c0c0" stroke-width="1" shape-rendering="crispEdges"/>
<line x1="1516" y1="904.5" x2="1517" y2="904.5" stroke="#c0c0c0" stroke-width="1" shape-rendering="crispEdges"/>
<line x1="1516" y1="908.5" x2="1517" y2="908.5" stroke="#c0c0c0" stroke-width="1" shape-rendering="crispEdges"/>
<line x1="1516" y1="912.5" x2="1517" y2="912.5" stroke="#c0c0c0" stroke-width="1" shape-rendering="crispEdges"/>
<line x1="1516" y1="916.5" x2="1517" y2="916.5" stroke="#c0c0c0" stroke-width="1" shape-rendering="crispEdges"/>
<line x1="1516" y1="920.5" x2="1517" y2="920.5" stroke="#c0c0c0" stroke-width="1" shape-rendering="crispEdges"/>
<line x1="1516" y1="924.5" x2="1517" y2="924.5" stroke="#c0c0c0" stroke-width="1" shape-rendering="crispEdges"/>
<line x1="1516" y1="928.5" x2="1517" y2="928.5" stroke="#c0c0c0" stroke-width="1" shape-rendering="crispEdges"/>
<line x1="1516" y1="932.5" x2="1517" y2="932.5" stroke="#c0c0c0" stroke-width="1" shape-rendering="crispEdges"/>
<line x1="1516" y1="936.5" x2="1517" y2="936.5" stroke="#c0c0c0" stroke-width="1" shape-rendering="crispEdges"/>
<line x1="1516" y1="940.5" x2="1517" y2="940.5" stroke="#c0c0c0" stroke-width="1" shape-rendering="crispEdges"/>
<line x1="1516" y1="944.5" x2="1517" y2="944.5" stroke="#c0c0c0" stroke-width="1" shape-rendering="crispEdges"/>
<line x1="1516" y1="948.5" x2="1517" y2="948.5" stroke="#c0c0c0" stroke-width="1" shape-rendering="crispEdges"/>
<line x1="1516" y1="952.5" x2="1517" y2="952.5" stroke="#c0c0c0" stroke-width="1" shape-rendering="crispEdges"/>
<line x1="1516" y1="957.5" x2="1517" y2="957.5" stroke="#c0c0c0" stroke-width="1" shape-rendering="crispEdges"/>
<line x1="1516" y1="961.5" x2="1517" y2="961.5" stroke="#c0c0c0" stroke-width="1" shape-rendering="crispEdges"/>
<line x1="1516" y1="965.5" x2="1517" y2="965.5" stroke="#c0c0c0" stroke-width="1" shape-rendering="crispEdges"/>
<line x1="1516" y1="969.5" x2="1517" y2="969.5" stroke="#c0c0c0" stroke-width="1" shape-rendering="crispEdges"/>
<line x1="1516" y1="973.5" x2="1517" y2="973.5" stroke="#c0c0c0" stroke-width="1" shape-rendering="crispEdges"/>
<line x1="1516" y1="977.5" x2="1517" y2="977.5" stroke="#c0c0c0" stroke-width="1" shape-rendering="crispEdges"/>
<line x1="1516" y1="981.5" x2="1517" y2="981.5" stroke="#c0c0c0" stroke-width="1" shape-rendering="crispEdges"/>
<line x1="1516" y1="985.5" x2="1517" y2="985.5" stroke="#c0c0c0" stroke-width="1" shape-rendering="crispEdges"/>
<line x1="1516" y1="989.5" x2="1517" y2="989.5" stroke="#c0c0c0" stroke-width="1" shape-rendering="crispEdges"/>
<line x1="1516" y1="993.5" x2="1517" y2="993.5" stroke="#c0c0c0" stroke-width="1" shape-rendering="crispEdges"/>
<line x1="1516" y1="997.5" x2="1517" y2="997.5" stroke="#c0c0c0" stroke-width="1" shape-rendering="crispEdges"/>
<line x1="1516" y1="1001.5" x2="1517" y2="1001.5" stroke="#c0c0c0" stroke-width="1" shape-rendering="crispEdges"/>
<line x1="1516" y1="1005.5" x2="1517" y2="1005.5" stroke="#c0c0c0" stroke-width="1" shape-rendering="crispEdges"/>
<line x1="1516" y1="1009.5" x2="1517" y2="1009.5" stroke="#c0c0c0" stroke-width="1" shape-rendering="crispEdges"/>
<line x1="1516" y1="1013.5" x2="1517" y2="1013.5" stroke="#c0c0c0" stroke-width="1" shape-rendering="crispEdges"/>
<line x1="1516" y1="1017.5" x2="1517" y2="1017.5" stroke="#c0c0c0" stroke-width="1" shape-rendering="crispEdges"/>
<line x1="1516" y1="1021.5" x2="1517" y2="1021.5" stroke="#c0c0c0" stroke-width="1" shape-rendering="crispEdges"/>
<line x1="1516" y1="1025.5" x2="1517" y2="1025.5" stroke="#c0c0c0" stroke-width="1" shape-rendering="crispEdges"/>
<line x1="1516" y1="1029.5" x2="1517" y2="1029.5" stroke="#c0c0c0" stroke-width="1" shape-rendering="crispEdges"/>
<line x1="1516" y1="1033.5" x2="1517" y2="1033.5" stroke="#c0c0c0" stroke-width="1" shape-rendering="crispEdges"/>
<line x1="1516" y1="1037.5" x2="1517" y2="1037.5" stroke="#c0c0c0" stroke-width="1" shape-rendering="crispEdges"/>
<line x1="1516" y1="1041.5" x2="1517" y2="1041.5" stroke="#c0c0c0" stroke-width="1" shape-rendering="crispEdges"/>
<line x1="1516" y1="1045.5" x2="1517" y2="1045.5" stroke="#c0c0c0" stroke-width="1" shape-rendering="crispEdges"/>
<line x1="1516" y1="1049.5" x2="1517" y2="1049.5" stroke="#c0c0c0" stroke-width="1" shape-rendering="crispEdges"/>
<line x1="1516" y1="1053.5" x2="1517" y2="1053.5" stroke="#c0c0c0" stroke-width="1" shape-rendering="crispEdges"/>
<line x1="1516" y1="1057.5" x2="1517" y2="1057.5" stroke="#c0c0c0" stroke-width="1" shape-rendering="crispEdges"/>
<line x1="1516" y1="1061.5" x2="1517" y2="1061.5" stroke="#c0c0c0" stroke-width="1" shape-rendering="crispEdges"/>
<line x1="1516" y1="1065.5" x2="1517" y2="1065.5" stroke="#c0c0c0" stroke-width="1" shape-rendering="crispEdges"/>
<line x1="1516" y1="1069.5" x2="1517" y2="1069.5" stroke="#c0c0c0" stroke-width="1" shape-rendering="crispEdges"/>
<line x1="1516" y1="1073.5" x2="1517" y2="1073.5" stroke="#c0c0c0" stroke-width="1" shape-rendering="crispEdges"/>
<line x1="1516" y1="1077.5" x2="1517" y2="1077.5" stroke="#c0c0c0" stroke-width="1" shape-rendering="crispEdges"/>
<line x1="1516" y1="1081.5" x2="1517" y2="1081.5" stroke="#c0c0c0" stroke-width="1" shape-rendering="crispEdges"/>
<line x1="1516" y1="1085.5" x2="1517" y2="1085.5" stroke="#c0c0c0" stroke-width="1" shape-rendering="crispEdges"/>
<line x1="1516" y1="1089.5" x2="1517" y2="1089.5" stroke="#c0c0c0" stroke-width="1" shape-rendering="crispEdges"/>
<line x1="1516" y1="1093.5" x2="1517" y2="1093.5" stroke="#c0c0c0" stroke-width="1" shape-rendering="crispEdges"/>
<line x1="1516" y1="1097.5" x2="1517" y2="1097.5" stroke="#c0c0c0" stroke-width="1" shape-rendering="crispEdges"/>
<line x1="1516" y1="1101.5" x2="1517" y2="1101.5" stroke="#c0c0c0" stroke-width="1" shape-rendering="crispEdges"/>
<line x1="1516" y1="1105.5" x2="1517" y2="1105.5" stroke="#c0c0c0" stroke-width="1" shape-rendering="crispEdges"/>
<line x1="1516" y1="1109.5" x2="1517" y2="1109.5" stroke="#c0c0c0" stroke-width="1" shape-rendering="crispEdges"/>
<line x1="1516" y1="1113.5" x2="1517" y2="1113.5" stroke="#c0c0c0" stroke-width="1" shape-rendering="crispEdges"/>
<line x1="1516" y1="1117.5" x2="1517" y2="1117.5" stroke="#c0c0c0" stroke-width="1" shape-rendering="crispEdges"/>
<line x1="1516" y1="1121.5" x2="1517" y2="1121.5" stroke="#c0c0c0" stroke-width="1" shape-rendering="crispEdges"/>
<line x1="1516" y1="1125.5" x2="1517" y2="1125.5" stroke="#c0c0c0" stroke-width="1" shape-rendering="crispEdges"/>
<line x1="1516" y1="1129.5" x2="1517" y2="1129.5" stroke="#c0c0c0" stroke-width="1" shape-rendering="crispEdges"/>
<line x1="1516" y1="1133.5" x2="1517" y2="1133.5" stroke="#c0c0c0" stroke-width="1" shape-rendering="crispEdges"/>
<line x1="1515.5" y1="523.5" x2="1518.5" y2="523.5" stroke="#999" stroke-width="1"/>
<text class="ax" x="1519" y="526.1">22600</text>
<line x1="1515.5" y1="543.5" x2="1518.5" y2="543.5" stroke="#999" stroke-width="1"/>
<text class="ax" x="1519" y="546.1">22400</text>
<line x1="1515.5" y1="563.5" x2="1518.5" y2="563.5" stroke="#999" stroke-width="1"/>
<text class="ax" x="1519" y="566.1">22200</text>
<line x1="1515.5" y1="583.5" x2="1518.5" y2="583.5" stroke="#999" stroke-width="1"/>
<text class="ax" x="1519" y="586.1">22000</text>
<line x1="1515.5" y1="603.5" x2="1518.5" y2="603.5" stroke="#999" stroke-width="1"/>
<text class="ax" x="1519" y="606.1">21800</text>
<line x1="1515.5" y1="623.5" x2="1518.5" y2="623.5" stroke="#999" stroke-width="1"/>
<text class="ax" x="1519" y="626.1">21600</text>
<line x1="1515.5" y1="643.5" x2="1518.5" y2="643.5" stroke="#999" stroke-width="1"/>
<text class="ax" x="1519" y="646.1">21400</text>
<line x1="1515.5" y1="663.5" x2="1518.5" y2="663.5" stroke="#999" stroke-width="1"/>
<text class="ax" x="1519" y="666.1">21200</text>
<line x1="1515.5" y1="684.5" x2="1518.5" y2="684.5" stroke="#999" stroke-width="1"/>
<text class="ax" x="1519" y="687.1">21000</text>
<line x1="1515.5" y1="704.5" x2="1518.5" y2="704.5" stroke="#999" stroke-width="1"/>
<text class="ax" x="1519" y="707.1">20800</text>
<line x1="1515.5" y1="724.5" x2="1518.5" y2="724.5" stroke="#999" stroke-width="1"/>
<text class="ax" x="1519" y="727.1">20600</text>
<line x1="1515.5" y1="744.5" x2="1518.5" y2="744.5" stroke="#999" stroke-width="1"/>
<text class="ax" x="1519" y="747.1">20400</text>
<line x1="1515.5" y1="764.5" x2="1518.5" y2="764.5" stroke="#999" stroke-width="1"/>
<text class="ax" x="1519" y="767.1">20200</text>
<line x1="1515.5" y1="784.5" x2="1518.5" y2="784.5" stroke="#999" stroke-width="1"/>
<text class="ax" x="1519" y="787.1">20000</text>
<line x1="1515.5" y1="804.5" x2="1518.5" y2="804.5" stroke="#999" stroke-width="1"/>
<text class="ax" x="1519" y="807.1">19800</text>
<line x1="1515.5" y1="824.5" x2="1518.5" y2="824.5" stroke="#999" stroke-width="1"/>
<text class="ax" x="1519" y="827.1">19600</text>
<line x1="1515.5" y1="844.5" x2="1518.5" y2="844.5" stroke="#999" stroke-width="1"/>
<text class="ax" x="1519" y="847.1">19400</text>
<line x1="1515.5" y1="864.5" x2="1518.5" y2="864.5" stroke="#999" stroke-width="1"/>
<text class="ax" x="1519" y="867.1">19200</text>
<line x1="1515.5" y1="884.5" x2="1518.5" y2="884.5" stroke="#999" stroke-width="1"/>
<text class="ax" x="1519" y="887.1">19000</text>
<line x1="1515.5" y1="904.5" x2="1518.5" y2="904.5" stroke="#999" stroke-width="1"/>
<text class="ax" x="1519" y="907.1">18800</text>
<line x1="1515.5" y1="924.5" x2="1518.5" y2="924.5" stroke="#999" stroke-width="1"/>
<text class="ax" x="1519" y="927.1">18600</text>
<line x1="1515.5" y1="944.5" x2="1518.5" y2="944.5" stroke="#999" stroke-width="1"/>
<text class="ax" x="1519" y="947.1">18400</text>
<line x1="1515.5" y1="965.5" x2="1518.5" y2="965.5" stroke="#999" stroke-width="1"/>
<text class="ax" x="1519" y="968.1">18200</text>
<line x1="1515.5" y1="985.5" x2="1518.5" y2="985.5" stroke="#999" stroke-width="1"/>
<text class="ax" x="1519" y="988.1">18000</text>
<line x1="1515.5" y1="1005.5" x2="1518.5" y2="1005.5" stroke="#999" stroke-width="1"/>
<text class="ax" x="1519" y="1008.1">17800</text>
<line x1="1515.5" y1="1025.5" x2="1518.5" y2="1025.5" stroke="#999" stroke-width="1"/>
<text class="ax" x="1519" y="1028.1">17600</text>
<line x1="1515.5" y1="1045.5" x2="1518.5" y2="1045.5" stroke="#999" stroke-width="1"/>
<text class="ax" x="1519" y="1048.1">17400</text>
<line x1="1515.5" y1="1065.5" x2="1518.5" y2="1065.5" stroke="#999" stroke-width="1"/>
<text class="ax" x="1519" y="1068.1">17200</text>
<line x1="1515.5" y1="1085.5" x2="1518.5" y2="1085.5" stroke="#999" stroke-width="1"/>
<text class="ax" x="1519" y="1088.1">17000</text>
<line x1="1515.5" y1="1105.5" x2="1518.5" y2="1105.5" stroke="#999" stroke-width="1"/>
<text class="ax" x="1519" y="1108.1">16800</text>
<line x1="1515.5" y1="1125.5" x2="1518.5" y2="1125.5" stroke="#999" stroke-width="1"/>
<text class="ax" x="1519" y="1128.1">16600</text>
<path d="M1513.1 500.9 L1517.6 495.7 L1566.0 495.7 L1566.0 506.1 L1517.6 506.1 Z" fill="#fff" stroke="#000" stroke-width="1.2"/>
<text x="1518.1" y="504.7" font-size="10.5" font-weight="bold" textLength="43.2" lengthAdjust="spacingAndGlyphs">22815.71</text>
<text x="31.4" y="494.8" font-size="11" textLength="126" lengthAdjust="spacing">$NDX (Daily) 22815.71</text>
<path d="M19 488 v7 M21 487 v7 M24 488.5 v6 M26.5 487.5 v7" stroke="#000" stroke-width="1.2" fill="none"/><rect x="20" y="489" width="2.4" height="4" fill="#000"/><rect x="25.3" y="489.5" width="2.4" height="4" fill="#fff" stroke="#000" stroke-width="0.7"/>
<line x1="1048.9" y1="629" x2="1121.8" y2="498.8" stroke="#666" stroke-width="2.6" stroke-dasharray="6 2.7" marker-end="url(#agr)"/>
<line x1="1121.4" y1="498.0" x2="1274.9" y2="656.4" stroke="#10902a" stroke-width="2.5" stroke-dasharray="4.2 2.6" marker-end="url(#ag)"/>
<line x1="1274.9" y1="656.4" x2="1369.5" y2="411.0" stroke="#10902a" stroke-width="2.4" stroke-dasharray="4.2 2.6" marker-end="url(#ag)"/>
<rect x="1253.1" y="611.9" width="72.9" height="76.9" fill="none" stroke="#10902a" stroke-width="2"/>
<rect x="1339.6" y="348.4" width="81" height="79.7" fill="none" stroke="#10902a" stroke-width="2"/>
<rect x="332.0" y="325.0" width="590.0" height="85.0" fill="#c8c8c8" shape-rendering="crispEdges"/>
<rect x="330.5" y="323.5" width="589.0" height="84.0" fill="#fff" stroke="#808080" stroke-width="1" shape-rendering="crispEdges"/>
<text x="333" y="357.4" font-size="31" font-weight="bold" fill="#000" textLength="553" lengthAdjust="spacingAndGlyphs">Copyright Intelligent Investing, LLC</text>
<text x="333" y="396.2" font-size="31" font-weight="bold" fill="#000" textLength="497" lengthAdjust="spacingAndGlyphs">www.intelligentinvesting.market</text>
<rect x="558.0" y="491.0" width="119.0" height="85.0" fill="#c8c8c8" shape-rendering="crispEdges"/>
<rect x="556.5" y="489.5" width="118.0" height="84.0" fill="#fff" stroke="#808080" stroke-width="1" shape-rendering="crispEdges"/>
<text x="558.7" y="513.2" font-size="21" font-weight="bold" fill="#ff0000">Warning</text>
<text x="558.7" y="538.8" font-size="21" font-weight="bold" fill="#ff0000">levels for</text>
<text x="558.7" y="564.3" font-size="21" font-weight="bold" fill="#ff0000">the Bulls</text>
<path d="M685.4 1101.2 L780 1094.5 L900.7 1094.5 L900.7 1125.5 L777.5 1125.5 L777.5 1100.6 Z" fill="#c4c4c4"/>
<path d="M683.4 1099.2 L778 1092.5 L898.7 1092.5 L898.7 1123.5 L775.5 1123.5 L775.5 1098.6 Z" fill="#fff" stroke="#888" stroke-width="1"/>
<text x="778" y="1114.9" font-size="20.5" font-weight="bold" fill="#009933">failed 5th</text>
<text class="wl" x="120.1" y="557.1" fill="#009933" style="font-size:20.5px">3</text>
<text class="wl" x="78.3" y="614.3" fill="#0000f0" style="font-size:20.5px">iii</text>
<text class="wl" x="93.0" y="669.3" fill="#0000f0" style="font-size:20.5px">iv</text>
<text class="wl" x="15.3" y="678.9" fill="#0000f0" style="font-size:20.5px">i</text>
<text class="wl" x="171.2" y="595.1" fill="#666666" style="font-size:20.5px">b</text>
<text class="wl" x="222.6" y="604.4" fill="#f5960f" style="font-size:20.5px">b</text>
<text class="wl" x="295.8" y="584.4" fill="#666666" style="font-size:20.5px">a</text>
<text class="wl" x="347.0" y="595.1" fill="#f5960f" style="font-size:20.5px">a</text>
<text class="wl" x="375.7" y="589.5" fill="#0000f0" style="font-size:20.5px">a</text>
<text class="wl" x="265.6" y="642.4" fill="#f5960f" style="font-size:20.5px">3</text>
<text class="wl" x="251.1" y="681.5" fill="#f5960f" style="font-size:20.5px">1</text>
<text class="wl" x="264.5" y="691.2" fill="#f5960f" style="font-size:20.5px">4</text>
<text class="wl" x="347.0" y="699.4" fill="#f5960f" style="font-size:20.5px">b</text>
<text class="wl" x="317.0" y="712.2" fill="#666666" style="font-size:20.5px">b</text>
<text class="wl" x="141.8" y="714.0" fill="#666666" style="font-size:20.5px">a</text>
<text class="wl" x="200.4" y="720.4" fill="#f5960f" style="font-size:20.5px">a</text>
<text class="wl" x="397.4" y="660.6" fill="#0000f0" style="font-size:20.5px">b</text>
<text class="wl" x="428.0" y="545.8" fill="#000000" style="font-size:24px">3</text>
<text class="wl" x="471.2" y="637.6" fill="#009933" style="font-size:20.5px">2</text>
<text class="wl" x="484.6" y="673.9" fill="#009933" style="font-size:20.5px">4</text>
<text class="wl" x="507.2" y="708.4" fill="#009933" style="font-size:20.5px">6</text>
<text class="wl" x="454.8" y="715.5" fill="#009933" style="font-size:20.5px">1</text>
<text class="wl" x="968.8" y="585.2" fill="#0000f0" style="font-size:20.5px">iii</text>
<text class="wl" x="997.5" y="578.0" fill="#666666" style="font-size:20.5px">iii</text>
<text class="wl" x="934.5" y="618.2" fill="#0000f0" style="font-size:20.5px">i</text>
<text class="wl" x="878.9" y="626.1" fill="#f5960f" style="font-size:20.5px">3</text>
<text class="wl" x="968.9" y="656.5" fill="#0000f0" style="font-size:20.5px">iv</text>
<text class="wl" x="1042.0" y="656.5" fill="#666666" style="font-size:20.5px">iv</text>
<text class="wl" x="937.1" y="699.4" fill="#0000f0" style="font-size:20.5px">ii</text>
<text class="wl" x="907.6" y="727.2" fill="#f5960f" style="font-size:20.5px">4</text>
<text class="wl" x="1135.9" y="451.7" fill="#009933" style="font-size:20.5px">3/c</text>
<text class="wl" x="1133.4" y="476.8" fill="#666666" style="font-size:20.5px">v</text>
<text class="wl" x="32.1" y="748.4" fill="#0000f0" style="font-size:20.5px">ii</text>
<text class="wl" x="243.5" y="752.4" fill="#009933" style="font-size:20.5px">4</text>
<text class="wl" x="258.5" y="736.6" fill="#f5960f" style="font-size:20.5px">2</text>
<text class="wl" x="514.2" y="750.4" fill="#009933" style="font-size:20.5px">8</text>
<text class="wl" x="478.2" y="772.1" fill="#009933" style="font-size:20.5px">3</text>
<text class="wl" x="492.2" y="807.4" fill="#009933" style="font-size:20.5px">5</text>
<text class="wl" x="514.2" y="835.5" fill="#009933" style="font-size:20.5px">7</text>
<text class="wl" x="528.8" y="891.0" fill="#009933" style="font-size:20.5px">9</text>
<text class="wl" x="543.6" y="891.7" fill="#666666" style="font-size:20.5px">b</text>
<text class="wl" x="535.7" y="806.6" fill="#666666" style="font-size:20.5px">a</text>
<text class="wl" x="558.3" y="785.4" fill="#009933" style="font-size:20.5px">a</text>
<text class="wl" x="588.5" y="866.2" fill="#009933" style="font-size:20.5px">b</text>
<text class="wl" x="522.9" y="914.3" fill="#ff0000" style="font-size:21.5px">a</text>
<text class="wl" x="603.8" y="737.9" fill="#ff0000" style="font-size:21.5px">b</text>
<text class="wl" x="645.8" y="809.2" fill="#009933" style="font-size:20.5px">2</text>
<text class="wl" x="630.6" y="925.0" fill="#009933" style="font-size:20.5px">1</text>
<text class="wl" x="684.2" y="846.8" fill="#009933" style="font-size:20.5px">1/a</text>
<text class="wl" x="704.0" y="856.5" fill="#666666" style="font-size:20.5px">b</text>
<text class="wl" x="674.6" y="952.3" fill="#009933" style="font-size:20.5px">4</text>
<text class="wl" x="761.9" y="838.6" fill="#f5960f" style="font-size:20.5px">3</text>
<text class="wl" x="746.6" y="880.2" fill="#f5960f" style="font-size:20.5px">1</text>
<text class="wl" x="769.3" y="886.6" fill="#f5960f" style="font-size:20.5px">4</text>
<text class="wl" x="754.5" y="942.1" fill="#f5960f" style="font-size:20.5px">2</text>
<text class="wl" x="780.4" y="821.2" fill="#666666" style="font-size:20.5px">i</text>
<text class="wl" x="797.5" y="758.1" fill="#f5960f" style="font-size:20.5px">1</text>
<text class="wl" x="820.9" y="846.5" fill="#f5960f" style="font-size:20.5px">2</text>
<text class="wl" x="790.9" y="909.4" fill="#666666" style="font-size:20.5px">ii</text>
<text class="wl" x="696.7" y="1024.3" fill="#666666" style="font-size:20.5px">a</text>
<text class="wl" x="732.5" y="1045.0" fill="#666666" style="font-size:20.5px">c</text>
<text class="wl" x="742.6" y="1064.6" fill="#009933" style="font-size:20.5px">2/b</text>
<text class="wl" x="682.0" y="1118.8" fill="#009933" style="font-size:20.5px">5</text>
<text class="wl" x="659.9" y="1138.8" fill="#009933" style="font-size:20.5px">3</text>
<text class="wl" x="682.4" y="1138.8" fill="#000000" style="font-size:24.5px">4</text>
<text class="wl" x="1374.8" y="391.1" fill="#009933" style="font-size:21.5px">5?</text>
<text class="wl" x="1286.0" y="673.9" fill="#009933" style="font-size:21.5px">4?</text>
<text x="19.7" y="1148.1" font-size="10.5" text-anchor="middle" >25</text>
<text x="49.3" y="1148.1" font-size="11" text-anchor="middle" font-weight="bold">Dec</text>
<text x="85.6" y="1148.1" font-size="10.5" text-anchor="middle" >9</text>
<text x="121.9" y="1148.1" font-size="10.5" text-anchor="middle" >16</text>
<text x="157.7" y="1148.1" font-size="10.5" text-anchor="middle" >23</text>
<text x="201.0" y="1148.1" font-size="11" text-anchor="middle" font-weight="bold">2025</text>
<text x="217.3" y="1148.1" font-size="10.5" text-anchor="middle" >6</text>
<text x="246.1" y="1148.1" font-size="10.5" text-anchor="middle" >13</text>
<text x="281.2" y="1148.1" font-size="10.5" text-anchor="middle" >21</text>
<text x="310.0" y="1148.1" font-size="10.5" text-anchor="middle" >27</text>
<text x="348.1" y="1148.1" font-size="11" text-anchor="middle" font-weight="bold">Feb</text>
<text x="383.9" y="1148.1" font-size="10.5" text-anchor="middle" >10</text>
<text x="420.7" y="1148.1" font-size="10.5" text-anchor="middle" >18</text>
<text x="449.6" y="1148.1" font-size="10.5" text-anchor="middle" >24</text>
<text x="486.6" y="1148.1" font-size="11" text-anchor="middle" font-weight="bold">Mar</text>
<text x="522.9" y="1148.1" font-size="10.5" text-anchor="middle" >10</text>
<text x="558.7" y="1148.1" font-size="10.5" text-anchor="middle" >17</text>
<text x="595.8" y="1148.1" font-size="10.5" text-anchor="middle" >24</text>
<text x="641.2" y="1148.1" font-size="11" text-anchor="middle" font-weight="bold">Apr</text>
<text x="669.1" y="1148.1" font-size="10.5" text-anchor="middle" >7</text>
<text x="704.9" y="1148.1" font-size="10.5" text-anchor="middle" >14</text>
<text x="734.3" y="1148.1" font-size="10.5" text-anchor="middle" >21</text>
<text x="770.1" y="1148.1" font-size="10.5" text-anchor="middle" >28</text>
<text x="793.4" y="1148.1" font-size="11" text-anchor="middle" font-weight="bold">May</text>
<text x="807.3" y="1148.1" font-size="10.5" text-anchor="middle" >5</text>
<text x="843.9" y="1148.1" font-size="10.5" text-anchor="middle" >12</text>
<text x="879.7" y="1148.1" font-size="10.5" text-anchor="middle" >19</text>
<text x="916.2" y="1148.1" font-size="10.5" text-anchor="middle" >27</text>
<text x="947.4" y="1148.1" font-size="11" text-anchor="middle" font-weight="bold">Jun</text>
<text x="983.2" y="1148.1" font-size="10.5" text-anchor="middle" >9</text>
<text x="1019.0" y="1148.1" font-size="10.5" text-anchor="middle" >16</text>
<text x="1047.6" y="1148.1" font-size="10.5" text-anchor="middle" >23</text>
<text x="1092.3" y="1148.1" font-size="11" text-anchor="middle" font-weight="bold">Jul</text>
<text x="1114.0" y="1148.1" font-size="10.5" text-anchor="middle" >7</text>
<text x="1150.6" y="1148.1" font-size="10.5" text-anchor="middle" >14</text>
<text x="1186.2" y="1148.1" font-size="10.5" text-anchor="middle" >21</text>
<text x="1222.5" y="1148.1" font-size="10.5" text-anchor="middle" >28</text>
<text x="1254.5" y="1148.1" font-size="11" text-anchor="middle" font-weight="bold">Aug</text>
<text x="1295.4" y="1148.1" font-size="10.5" text-anchor="middle" >11</text>
<text x="1332.4" y="1148.1" font-size="10.5" text-anchor="middle" >18</text>
<text x="1368.7" y="1148.1" font-size="10.5" text-anchor="middle" >25</text>
<text x="1406.5" y="1148.1" font-size="11" text-anchor="middle" font-weight="bold">Sep</text>
<text x="1435.2" y="1148.1" font-size="10.5" text-anchor="middle" >8</text>
<text x="1471.0" y="1148.1" font-size="10.5" text-anchor="middle" >15</text>
<text x="1507.5" y="1148.1" font-size="10.5" text-anchor="middle" >22</text>
<text x="19.7" y="1389.9" font-size="10.5" text-anchor="middle" >25</text>
<text x="49.3" y="1389.9" font-size="11" text-anchor="middle" font-weight="bold">Dec</text>
<text x="85.6" y="1389.9" font-size="10.5" text-anchor="middle" >9</text>
<text x="121.9" y="1389.9" font-size="10.5" text-anchor="middle" >16</text>
<text x="157.7" y="1389.9" font-size="10.5" text-anchor="middle" >23</text>
<text x="201.0" y="1389.9" font-size="11" text-anchor="middle" font-weight="bold">2025</text>
<text x="217.3" y="1389.9" font-size="10.5" text-anchor="middle" >6</text>
<text x="246.1" y="1389.9" font-size="10.5" text-anchor="middle" >13</text>
<text x="281.2" y="1389.9" font-size="10.5" text-anchor="middle" >21</text>
<text x="310.0" y="1389.9" font-size="10.5" text-anchor="middle" >27</text>
<text x="348.1" y="1389.9" font-size="11" text-anchor="middle" font-weight="bold">Feb</text>
<text x="383.9" y="1389.9" font-size="10.5" text-anchor="middle" >10</text>
<text x="420.7" y="1389.9" font-size="10.5" text-anchor="middle" >18</text>
<text x="449.6" y="1389.9" font-size="10.5" text-anchor="middle" >24</text>
<text x="486.6" y="1389.9" font-size="11" text-anchor="middle" font-weight="bold">Mar</text>
<text x="522.9" y="1389.9" font-size="10.5" text-anchor="middle" >10</text>
<text x="558.7" y="1389.9" font-size="10.5" text-anchor="middle" >17</text>
<text x="595.8" y="1389.9" font-size="10.5" text-anchor="middle" >24</text>
<text x="641.2" y="1389.9" font-size="11" text-anchor="middle" font-weight="bold">Apr</text>
<text x="669.1" y="1389.9" font-size="10.5" text-anchor="middle" >7</text>
<text x="704.9" y="1389.9" font-size="10.5" text-anchor="middle" >14</text>
<text x="734.3" y="1389.9" font-size="10.5" text-anchor="middle" >21</text>
<text x="770.1" y="1389.9" font-size="10.5" text-anchor="middle" >28</text>
<text x="793.4" y="1389.9" font-size="11" text-anchor="middle" font-weight="bold">May</text>
<text x="807.3" y="1389.9" font-size="10.5" text-anchor="middle" >5</text>
<text x="843.9" y="1389.9" font-size="10.5" text-anchor="middle" >12</text>
<text x="879.7" y="1389.9" font-size="10.5" text-anchor="middle" >19</text>
<text x="916.2" y="1389.9" font-size="10.5" text-anchor="middle" >27</text>
<text x="947.4" y="1389.9" font-size="11" text-anchor="middle" font-weight="bold">Jun</text>
<text x="983.2" y="1389.9" font-size="10.5" text-anchor="middle" >9</text>
<text x="1019.0" y="1389.9" font-size="10.5" text-anchor="middle" >16</text>
<text x="1047.6" y="1389.9" font-size="10.5" text-anchor="middle" >23</text>
<text x="1092.3" y="1389.9" font-size="11" text-anchor="middle" font-weight="bold">Jul</text>
<text x="1114.0" y="1389.9" font-size="10.5" text-anchor="middle" >7</text>
<text x="1150.6" y="1389.9" font-size="10.5" text-anchor="middle" >14</text>
<text x="1186.2" y="1389.9" font-size="10.5" text-anchor="middle" >21</text>
<text x="1222.5" y="1389.9" font-size="10.5" text-anchor="middle" >28</text>
<text x="1254.5" y="1389.9" font-size="11" text-anchor="middle" font-weight="bold">Aug</text>
<text x="1295.4" y="1389.9" font-size="10.5" text-anchor="middle" >11</text>
<text x="1332.4" y="1389.9" font-size="10.5" text-anchor="middle" >18</text>
<text x="1368.7" y="1389.9" font-size="10.5" text-anchor="middle" >25</text>
<text x="1406.5" y="1389.9" font-size="11" text-anchor="middle" font-weight="bold">Sep</text>
<text x="1435.2" y="1389.9" font-size="10.5" text-anchor="middle" >8</text>
<text x="1471.0" y="1389.9" font-size="10.5" text-anchor="middle" >15</text>
<text x="1507.5" y="1389.9" font-size="10.5" text-anchor="middle" >22</text>
<line x1="20.1" y1="1138" x2="20.1" y2="1140" stroke="#ccc" stroke-width="1"/>
<line x1="20.1" y1="1380" x2="20.1" y2="1382" stroke="#ccc" stroke-width="1"/>
<line x1="20.1" y1="1149" x2="20.1" y2="1151" stroke="#ccc" stroke-width="1"/>
<line x1="27.4" y1="1138" x2="27.4" y2="1140" stroke="#ccc" stroke-width="1"/>
<line x1="27.4" y1="1380" x2="27.4" y2="1382" stroke="#ccc" stroke-width="1"/>
<line x1="27.4" y1="1149" x2="27.4" y2="1151" stroke="#ccc" stroke-width="1"/>
<line x1="34.6" y1="1138" x2="34.6" y2="1140" stroke="#ccc" stroke-width="1"/>
<line x1="34.6" y1="1380" x2="34.6" y2="1382" stroke="#ccc" stroke-width="1"/>
<line x1="34.6" y1="1149" x2="34.6" y2="1151" stroke="#ccc" stroke-width="1"/>
<line x1="41.9" y1="1138" x2="41.9" y2="1140" stroke="#ccc" stroke-width="1"/>
<line x1="41.9" y1="1380" x2="41.9" y2="1382" stroke="#ccc" stroke-width="1"/>
<line x1="41.9" y1="1149" x2="41.9" y2="1151" stroke="#ccc" stroke-width="1"/>
<line x1="49.2" y1="1138" x2="49.2" y2="1140" stroke="#ccc" stroke-width="1"/>
<line x1="49.2" y1="1380" x2="49.2" y2="1382" stroke="#ccc" stroke-width="1"/>
<line x1="49.2" y1="1149" x2="49.2" y2="1151" stroke="#ccc" stroke-width="1"/>
<line x1="56.5" y1="1138" x2="56.5" y2="1140" stroke="#ccc" stroke-width="1"/>
<line x1="56.5" y1="1380" x2="56.5" y2="1382" stroke="#ccc" stroke-width="1"/>
<line x1="56.5" y1="1149" x2="56.5" y2="1151" stroke="#ccc" stroke-width="1"/>
<line x1="63.8" y1="1138" x2="63.8" y2="1140" stroke="#ccc" stroke-width="1"/>
<line x1="63.8" y1="1380" x2="63.8" y2="1382" stroke="#ccc" stroke-width="1"/>
<line x1="63.8" y1="1149" x2="63.8" y2="1151" stroke="#ccc" stroke-width="1"/>
<line x1="71.1" y1="1138" x2="71.1" y2="1140" stroke="#ccc" stroke-width="1"/>
<line x1="71.1" y1="1380" x2="71.1" y2="1382" stroke="#ccc" stroke-width="1"/>
<line x1="71.1" y1="1149" x2="71.1" y2="1151" stroke="#ccc" stroke-width="1"/>
<line x1="78.4" y1="1138" x2="78.4" y2="1140" stroke="#ccc" stroke-width="1"/>
<line x1="78.4" y1="1380" x2="78.4" y2="1382" stroke="#ccc" stroke-width="1"/>
<line x1="78.4" y1="1149" x2="78.4" y2="1151" stroke="#ccc" stroke-width="1"/>
<line x1="85.7" y1="1138" x2="85.7" y2="1140" stroke="#ccc" stroke-width="1"/>
<line x1="85.7" y1="1380" x2="85.7" y2="1382" stroke="#ccc" stroke-width="1"/>
<line x1="85.7" y1="1149" x2="85.7" y2="1151" stroke="#ccc" stroke-width="1"/>
<line x1="93.0" y1="1138" x2="93.0" y2="1140" stroke="#ccc" stroke-width="1"/>
<line x1="93.0" y1="1380" x2="93.0" y2="1382" stroke="#ccc" stroke-width="1"/>
<line x1="93.0" y1="1149" x2="93.0" y2="1151" stroke="#ccc" stroke-width="1"/>
<line x1="100.3" y1="1138" x2="100.3" y2="1140" stroke="#ccc" stroke-width="1"/>
<line x1="100.3" y1="1380" x2="100.3" y2="1382" stroke="#ccc" stroke-width="1"/>
<line x1="100.3" y1="1149" x2="100.3" y2="1151" stroke="#ccc" stroke-width="1"/>
<line x1="107.6" y1="1138" x2="107.6" y2="1140" stroke="#ccc" stroke-width="1"/>
<line x1="107.6" y1="1380" x2="107.6" y2="1382" stroke="#ccc" stroke-width="1"/>
<line x1="107.6" y1="1149" x2="107.6" y2="1151" stroke="#ccc" stroke-width="1"/>
<line x1="114.9" y1="1138" x2="114.9" y2="1140" stroke="#ccc" stroke-width="1"/>
<line x1="114.9" y1="1380" x2="114.9" y2="1382" stroke="#ccc" stroke-width="1"/>
<line x1="114.9" y1="1149" x2="114.9" y2="1151" stroke="#ccc" stroke-width="1"/>
<line x1="122.2" y1="1138" x2="122.2" y2="1140" stroke="#ccc" stroke-width="1"/>
<line x1="122.2" y1="1380" x2="122.2" y2="1382" stroke="#ccc" stroke-width="1"/>
<line x1="122.2" y1="1149" x2="122.2" y2="1151" stroke="#ccc" stroke-width="1"/>
<line x1="129.5" y1="1138" x2="129.5" y2="1140" stroke="#ccc" stroke-width="1"/>
<line x1="129.5" y1="1380" x2="129.5" y2="1382" stroke="#ccc" stroke-width="1"/>
<line x1="129.5" y1="1149" x2="129.5" y2="1151" stroke="#ccc" stroke-width="1"/>
<line x1="136.8" y1="1138" x2="136.8" y2="1140" stroke="#ccc" stroke-width="1"/>
<line x1="136.8" y1="1380" x2="136.8" y2="1382" stroke="#ccc" stroke-width="1"/>
<line x1="136.8" y1="1149" x2="136.8" y2="1151" stroke="#ccc" stroke-width="1"/>
<line x1="144.1" y1="1138" x2="144.1" y2="1140" stroke="#ccc" stroke-width="1"/>
<line x1="144.1" y1="1380" x2="144.1" y2="1382" stroke="#ccc" stroke-width="1"/>
<line x1="144.1" y1="1149" x2="144.1" y2="1151" stroke="#ccc" stroke-width="1"/>
<line x1="151.4" y1="1138" x2="151.4" y2="1140" stroke="#ccc" stroke-width="1"/>
<line x1="151.4" y1="1380" x2="151.4" y2="1382" stroke="#ccc" stroke-width="1"/>
<line x1="151.4" y1="1149" x2="151.4" y2="1151" stroke="#ccc" stroke-width="1"/>
<line x1="158.6" y1="1138" x2="158.6" y2="1140" stroke="#ccc" stroke-width="1"/>
<line x1="158.6" y1="1380" x2="158.6" y2="1382" stroke="#ccc" stroke-width="1"/>
<line x1="158.6" y1="1149" x2="158.6" y2="1151" stroke="#ccc" stroke-width="1"/>
<line x1="165.9" y1="1138" x2="165.9" y2="1140" stroke="#ccc" stroke-width="1"/>
<line x1="165.9" y1="1380" x2="165.9" y2="1382" stroke="#ccc" stroke-width="1"/>
<line x1="165.9" y1="1149" x2="165.9" y2="1151" stroke="#ccc" stroke-width="1"/>
<line x1="173.2" y1="1138" x2="173.2" y2="1140" stroke="#ccc" stroke-width="1"/>
<line x1="173.2" y1="1380" x2="173.2" y2="1382" stroke="#ccc" stroke-width="1"/>
<line x1="173.2" y1="1149" x2="173.2" y2="1151" stroke="#ccc" stroke-width="1"/>
<line x1="180.5" y1="1138" x2="180.5" y2="1140" stroke="#ccc" stroke-width="1"/>
<line x1="180.5" y1="1380" x2="180.5" y2="1382" stroke="#ccc" stroke-width="1"/>
<line x1="180.5" y1="1149" x2="180.5" y2="1151" stroke="#ccc" stroke-width="1"/>
<line x1="187.8" y1="1138" x2="187.8" y2="1140" stroke="#ccc" stroke-width="1"/>
<line x1="187.8" y1="1380" x2="187.8" y2="1382" stroke="#ccc" stroke-width="1"/>
<line x1="187.8" y1="1149" x2="187.8" y2="1151" stroke="#ccc" stroke-width="1"/>
<line x1="195.1" y1="1138" x2="195.1" y2="1140" stroke="#ccc" stroke-width="1"/>
<line x1="195.1" y1="1380" x2="195.1" y2="1382" stroke="#ccc" stroke-width="1"/>
<line x1="195.1" y1="1149" x2="195.1" y2="1151" stroke="#ccc" stroke-width="1"/>
<line x1="202.4" y1="1138" x2="202.4" y2="1140" stroke="#ccc" stroke-width="1"/>
<line x1="202.4" y1="1380" x2="202.4" y2="1382" stroke="#ccc" stroke-width="1"/>
<line x1="202.4" y1="1149" x2="202.4" y2="1151" stroke="#ccc" stroke-width="1"/>
<line x1="209.7" y1="1138" x2="209.7" y2="1140" stroke="#ccc" stroke-width="1"/>
<line x1="209.7" y1="1380" x2="209.7" y2="1382" stroke="#ccc" stroke-width="1"/>
<line x1="209.7" y1="1149" x2="209.7" y2="1151" stroke="#ccc" stroke-width="1"/>
<line x1="217.0" y1="1138" x2="217.0" y2="1140" stroke="#ccc" stroke-width="1"/>
<line x1="217.0" y1="1380" x2="217.0" y2="1382" stroke="#ccc" stroke-width="1"/>
<line x1="217.0" y1="1149" x2="217.0" y2="1151" stroke="#ccc" stroke-width="1"/>
<line x1="224.3" y1="1138" x2="224.3" y2="1140" stroke="#ccc" stroke-width="1"/>
<line x1="224.3" y1="1380" x2="224.3" y2="1382" stroke="#ccc" stroke-width="1"/>
<line x1="224.3" y1="1149" x2="224.3" y2="1151" stroke="#ccc" stroke-width="1"/>
<line x1="231.6" y1="1138" x2="231.6" y2="1140" stroke="#ccc" stroke-width="1"/>
<line x1="231.6" y1="1380" x2="231.6" y2="1382" stroke="#ccc" stroke-width="1"/>
<line x1="231.6" y1="1149" x2="231.6" y2="1151" stroke="#ccc" stroke-width="1"/>
<line x1="238.9" y1="1138" x2="238.9" y2="1140" stroke="#ccc" stroke-width="1"/>
<line x1="238.9" y1="1380" x2="238.9" y2="1382" stroke="#ccc" stroke-width="1"/>
<line x1="238.9" y1="1149" x2="238.9" y2="1151" stroke="#ccc" stroke-width="1"/>
<line x1="246.2" y1="1138" x2="246.2" y2="1140" stroke="#ccc" stroke-width="1"/>
<line x1="246.2" y1="1380" x2="246.2" y2="1382" stroke="#ccc" stroke-width="1"/>
<line x1="246.2" y1="1149" x2="246.2" y2="1151" stroke="#ccc" stroke-width="1"/>
<line x1="253.5" y1="1138" x2="253.5" y2="1140" stroke="#ccc" stroke-width="1"/>
<line x1="253.5" y1="1380" x2="253.5" y2="1382" stroke="#ccc" stroke-width="1"/>
<line x1="253.5" y1="1149" x2="253.5" y2="1151" stroke="#ccc" stroke-width="1"/>
<line x1="260.8" y1="1138" x2="260.8" y2="1140" stroke="#ccc" stroke-width="1"/>
<line x1="260.8" y1="1380" x2="260.8" y2="1382" stroke="#ccc" stroke-width="1"/>
<line x1="260.8" y1="1149" x2="260.8" y2="1151" stroke="#ccc" stroke-width="1"/>
<line x1="268.1" y1="1138" x2="268.1" y2="1140" stroke="#ccc" stroke-width="1"/>
<line x1="268.1" y1="1380" x2="268.1" y2="1382" stroke="#ccc" stroke-width="1"/>
<line x1="268.1" y1="1149" x2="268.1" y2="1151" stroke="#ccc" stroke-width="1"/>
<line x1="275.3" y1="1138" x2="275.3" y2="1140" stroke="#ccc" stroke-width="1"/>
<line x1="275.3" y1="1380" x2="275.3" y2="1382" stroke="#ccc" stroke-width="1"/>
<line x1="275.3" y1="1149" x2="275.3" y2="1151" stroke="#ccc" stroke-width="1"/>
<line x1="282.6" y1="1138" x2="282.6" y2="1140" stroke="#ccc" stroke-width="1"/>
<line x1="282.6" y1="1380" x2="282.6" y2="1382" stroke="#ccc" stroke-width="1"/>
<line x1="282.6" y1="1149" x2="282.6" y2="1151" stroke="#ccc" stroke-width="1"/>
<line x1="289.9" y1="1138" x2="289.9" y2="1140" stroke="#ccc" stroke-width="1"/>
<line x1="289.9" y1="1380" x2="289.9" y2="1382" stroke="#ccc" stroke-width="1"/>
<line x1="289.9" y1="1149" x2="289.9" y2="1151" stroke="#ccc" stroke-width="1"/>
<line x1="297.2" y1="1138" x2="297.2" y2="1140" stroke="#ccc" stroke-width="1"/>
<line x1="297.2" y1="1380" x2="297.2" y2="1382" stroke="#ccc" stroke-width="1"/>
<line x1="297.2" y1="1149" x2="297.2" y2="1151" stroke="#ccc" stroke-width="1"/>
<line x1="304.5" y1="1138" x2="304.5" y2="1140" stroke="#ccc" stroke-width="1"/>
<line x1="304.5" y1="1380" x2="304.5" y2="1382" stroke="#ccc" stroke-width="1"/>
<line x1="304.5" y1="1149" x2="304.5" y2="1151" stroke="#ccc" stroke-width="1"/>
<line x1="311.8" y1="1138" x2="311.8" y2="1140" stroke="#ccc" stroke-width="1"/>
<line x1="311.8" y1="1380" x2="311.8" y2="1382" stroke="#ccc" stroke-width="1"/>
<line x1="311.8" y1="1149" x2="311.8" y2="1151" stroke="#ccc" stroke-width="1"/>
<line x1="319.1" y1="1138" x2="319.1" y2="1140" stroke="#ccc" stroke-width="1"/>
<line x1="319.1" y1="1380" x2="319.1" y2="1382" stroke="#ccc" stroke-width="1"/>
<line x1="319.1" y1="1149" x2="319.1" y2="1151" stroke="#ccc" stroke-width="1"/>
<line x1="326.4" y1="1138" x2="326.4" y2="1140" stroke="#ccc" stroke-width="1"/>
<line x1="326.4" y1="1380" x2="326.4" y2="1382" stroke="#ccc" stroke-width="1"/>
<line x1="326.4" y1="1149" x2="326.4" y2="1151" stroke="#ccc" stroke-width="1"/>
<line x1="333.7" y1="1138" x2="333.7" y2="1140" stroke="#ccc" stroke-width="1"/>
<line x1="333.7" y1="1380" x2="333.7" y2="1382" stroke="#ccc" stroke-width="1"/>
<line x1="333.7" y1="1149" x2="333.7" y2="1151" stroke="#ccc" stroke-width="1"/>
<line x1="341.0" y1="1138" x2="341.0" y2="1140" stroke="#ccc" stroke-width="1"/>
<line x1="341.0" y1="1380" x2="341.0" y2="1382" stroke="#ccc" stroke-width="1"/>
<line x1="341.0" y1="1149" x2="341.0" y2="1151" stroke="#ccc" stroke-width="1"/>
<line x1="348.3" y1="1138" x2="348.3" y2="1140" stroke="#ccc" stroke-width="1"/>
<line x1="348.3" y1="1380" x2="348.3" y2="1382" stroke="#ccc" stroke-width="1"/>
<line x1="348.3" y1="1149" x2="348.3" y2="1151" stroke="#ccc" stroke-width="1"/>
<line x1="355.6" y1="1138" x2="355.6" y2="1140" stroke="#ccc" stroke-width="1"/>
<line x1="355.6" y1="1380" x2="355.6" y2="1382" stroke="#ccc" stroke-width="1"/>
<line x1="355.6" y1="1149" x2="355.6" y2="1151" stroke="#ccc" stroke-width="1"/>
<line x1="362.9" y1="1138" x2="362.9" y2="1140" stroke="#ccc" stroke-width="1"/>
<line x1="362.9" y1="1380" x2="362.9" y2="1382" stroke="#ccc" stroke-width="1"/>
<line x1="362.9" y1="1149" x2="362.9" y2="1151" stroke="#ccc" stroke-width="1"/>
<line x1="370.2" y1="1138" x2="370.2" y2="1140" stroke="#ccc" stroke-width="1"/>
<line x1="370.2" y1="1380" x2="370.2" y2="1382" stroke="#ccc" stroke-width="1"/>
<line x1="370.2" y1="1149" x2="370.2" y2="1151" stroke="#ccc" stroke-width="1"/>
<line x1="377.5" y1="1138" x2="377.5" y2="1140" stroke="#ccc" stroke-width="1"/>
<line x1="377.5" y1="1380" x2="377.5" y2="1382" stroke="#ccc" stroke-width="1"/>
<line x1="377.5" y1="1149" x2="377.5" y2="1151" stroke="#ccc" stroke-width="1"/>
<line x1="384.8" y1="1138" x2="384.8" y2="1140" stroke="#ccc" stroke-width="1"/>
<line x1="384.8" y1="1380" x2="384.8" y2="1382" stroke="#ccc" stroke-width="1"/>
<line x1="384.8" y1="1149" x2="384.8" y2="1151" stroke="#ccc" stroke-width="1"/>
<line x1="392.1" y1="1138" x2="392.1" y2="1140" stroke="#ccc" stroke-width="1"/>
<line x1="392.1" y1="1380" x2="392.1" y2="1382" stroke="#ccc" stroke-width="1"/>
<line x1="392.1" y1="1149" x2="392.1" y2="1151" stroke="#ccc" stroke-width="1"/>
<line x1="399.3" y1="1138" x2="399.3" y2="1140" stroke="#ccc" stroke-width="1"/>
<line x1="399.3" y1="1380" x2="399.3" y2="1382" stroke="#ccc" stroke-width="1"/>
<line x1="399.3" y1="1149" x2="399.3" y2="1151" stroke="#ccc" stroke-width="1"/>
<line x1="406.6" y1="1138" x2="406.6" y2="1140" stroke="#ccc" stroke-width="1"/>
<line x1="406.6" y1="1380" x2="406.6" y2="1382" stroke="#ccc" stroke-width="1"/>
<line x1="406.6" y1="1149" x2="406.6" y2="1151" stroke="#ccc" stroke-width="1"/>
<line x1="413.9" y1="1138" x2="413.9" y2="1140" stroke="#ccc" stroke-width="1"/>
<line x1="413.9" y1="1380" x2="413.9" y2="1382" stroke="#ccc" stroke-width="1"/>
<line x1="413.9" y1="1149" x2="413.9" y2="1151" stroke="#ccc" stroke-width="1"/>
<line x1="421.2" y1="1138" x2="421.2" y2="1140" stroke="#ccc" stroke-width="1"/>
<line x1="421.2" y1="1380" x2="421.2" y2="1382" stroke="#ccc" stroke-width="1"/>
<line x1="421.2" y1="1149" x2="421.2" y2="1151" stroke="#ccc" stroke-width="1"/>
<line x1="428.5" y1="1138" x2="428.5" y2="1140" stroke="#ccc" stroke-width="1"/>
<line x1="428.5" y1="1380" x2="428.5" y2="1382" stroke="#ccc" stroke-width="1"/>
<line x1="428.5" y1="1149" x2="428.5" y2="1151" stroke="#ccc" stroke-width="1"/>
<line x1="435.8" y1="1138" x2="435.8" y2="1140" stroke="#ccc" stroke-width="1"/>
<line x1="435.8" y1="1380" x2="435.8" y2="1382" stroke="#ccc" stroke-width="1"/>
<line x1="435.8" y1="1149" x2="435.8" y2="1151" stroke="#ccc" stroke-width="1"/>
<line x1="443.1" y1="1138" x2="443.1" y2="1140" stroke="#ccc" stroke-width="1"/>
<line x1="443.1" y1="1380" x2="443.1" y2="1382" stroke="#ccc" stroke-width="1"/>
<line x1="443.1" y1="1149" x2="443.1" y2="1151" stroke="#ccc" stroke-width="1"/>
<line x1="450.4" y1="1138" x2="450.4" y2="1140" stroke="#ccc" stroke-width="1"/>
<line x1="450.4" y1="1380" x2="450.4" y2="1382" stroke="#ccc" stroke-width="1"/>
<line x1="450.4" y1="1149" x2="450.4" y2="1151" stroke="#ccc" stroke-width="1"/>
<line x1="457.7" y1="1138" x2="457.7" y2="1140" stroke="#ccc" stroke-width="1"/>
<line x1="457.7" y1="1380" x2="457.7" y2="1382" stroke="#ccc" stroke-width="1"/>
<line x1="457.7" y1="1149" x2="457.7" y2="1151" stroke="#ccc" stroke-width="1"/>
<line x1="465.0" y1="1138" x2="465.0" y2="1140" stroke="#ccc" stroke-width="1"/>
<line x1="465.0" y1="1380" x2="465.0" y2="1382" stroke="#ccc" stroke-width="1"/>
<line x1="465.0" y1="1149" x2="465.0" y2="1151" stroke="#ccc" stroke-width="1"/>
<line x1="472.3" y1="1138" x2="472.3" y2="1140" stroke="#ccc" stroke-width="1"/>
<line x1="472.3" y1="1380" x2="472.3" y2="1382" stroke="#ccc" stroke-width="1"/>
<line x1="472.3" y1="1149" x2="472.3" y2="1151" stroke="#ccc" stroke-width="1"/>
<line x1="479.6" y1="1138" x2="479.6" y2="1140" stroke="#ccc" stroke-width="1"/>
<line x1="479.6" y1="1380" x2="479.6" y2="1382" stroke="#ccc" stroke-width="1"/>
<line x1="479.6" y1="1149" x2="479.6" y2="1151" stroke="#ccc" stroke-width="1"/>
<line x1="486.9" y1="1138" x2="486.9" y2="1140" stroke="#ccc" stroke-width="1"/>
<line x1="486.9" y1="1380" x2="486.9" y2="1382" stroke="#ccc" stroke-width="1"/>
<line x1="486.9" y1="1149" x2="486.9" y2="1151" stroke="#ccc" stroke-width="1"/>
<line x1="494.2" y1="1138" x2="494.2" y2="1140" stroke="#ccc" stroke-width="1"/>
<line x1="494.2" y1="1380" x2="494.2" y2="1382" stroke="#ccc" stroke-width="1"/>
<line x1="494.2" y1="1149" x2="494.2" y2="1151" stroke="#ccc" stroke-width="1"/>
<line x1="501.5" y1="1138" x2="501.5" y2="1140" stroke="#ccc" stroke-width="1"/>
<line x1="501.5" y1="1380" x2="501.5" y2="1382" stroke="#ccc" stroke-width="1"/>
<line x1="501.5" y1="1149" x2="501.5" y2="1151" stroke="#ccc" stroke-width="1"/>
<line x1="508.8" y1="1138" x2="508.8" y2="1140" stroke="#ccc" stroke-width="1"/>
<line x1="508.8" y1="1380" x2="508.8" y2="1382" stroke="#ccc" stroke-width="1"/>
<line x1="508.8" y1="1149" x2="508.8" y2="1151" stroke="#ccc" stroke-width="1"/>
<line x1="516.1" y1="1138" x2="516.1" y2="1140" stroke="#ccc" stroke-width="1"/>
<line x1="516.1" y1="1380" x2="516.1" y2="1382" stroke="#ccc" stroke-width="1"/>
<line x1="516.1" y1="1149" x2="516.1" y2="1151" stroke="#ccc" stroke-width="1"/>
<line x1="523.3" y1="1138" x2="523.3" y2="1140" stroke="#ccc" stroke-width="1"/>
<line x1="523.3" y1="1380" x2="523.3" y2="1382" stroke="#ccc" stroke-width="1"/>
<line x1="523.3" y1="1149" x2="523.3" y2="1151" stroke="#ccc" stroke-width="1"/>
<line x1="530.6" y1="1138" x2="530.6" y2="1140" stroke="#ccc" stroke-width="1"/>
<line x1="530.6" y1="1380" x2="530.6" y2="1382" stroke="#ccc" stroke-width="1"/>
<line x1="530.6" y1="1149" x2="530.6" y2="1151" stroke="#ccc" stroke-width="1"/>
<line x1="537.9" y1="1138" x2="537.9" y2="1140" stroke="#ccc" stroke-width="1"/>
<line x1="537.9" y1="1380" x2="537.9" y2="1382" stroke="#ccc" stroke-width="1"/>
<line x1="537.9" y1="1149" x2="537.9" y2="1151" stroke="#ccc" stroke-width="1"/>
<line x1="545.2" y1="1138" x2="545.2" y2="1140" stroke="#ccc" stroke-width="1"/>
<line x1="545.2" y1="1380" x2="545.2" y2="1382" stroke="#ccc" stroke-width="1"/>
<line x1="545.2" y1="1149" x2="545.2" y2="1151" stroke="#ccc" stroke-width="1"/>
<line x1="552.5" y1="1138" x2="552.5" y2="1140" stroke="#ccc" stroke-width="1"/>
<line x1="552.5" y1="1380" x2="552.5" y2="1382" stroke="#ccc" stroke-width="1"/>
<line x1="552.5" y1="1149" x2="552.5" y2="1151" stroke="#ccc" stroke-width="1"/>
<line x1="559.8" y1="1138" x2="559.8" y2="1140" stroke="#ccc" stroke-width="1"/>
<line x1="559.8" y1="1380" x2="559.8" y2="1382" stroke="#ccc" stroke-width="1"/>
<line x1="559.8" y1="1149" x2="559.8" y2="1151" stroke="#ccc" stroke-width="1"/>
<line x1="567.1" y1="1138" x2="567.1" y2="1140" stroke="#ccc" stroke-width="1"/>
<line x1="567.1" y1="1380" x2="567.1" y2="1382" stroke="#ccc" stroke-width="1"/>
<line x1="567.1" y1="1149" x2="567.1" y2="1151" stroke="#ccc" stroke-width="1"/>
<line x1="574.4" y1="1138" x2="574.4" y2="1140" stroke="#ccc" stroke-width="1"/>
<line x1="574.4" y1="1380" x2="574.4" y2="1382" stroke="#ccc" stroke-width="1"/>
<line x1="574.4" y1="1149" x2="574.4" y2="1151" stroke="#ccc" stroke-width="1"/>
<line x1="581.7" y1="1138" x2="581.7" y2="1140" stroke="#ccc" stroke-width="1"/>
<line x1="581.7" y1="1380" x2="581.7" y2="1382" stroke="#ccc" stroke-width="1"/>
<line x1="581.7" y1="1149" x2="581.7" y2="1151" stroke="#ccc" stroke-width="1"/>
<line x1="589.0" y1="1138" x2="589.0" y2="1140" stroke="#ccc" stroke-width="1"/>
<line x1="589.0" y1="1380" x2="589.0" y2="1382" stroke="#ccc" stroke-width="1"/>
<line x1="589.0" y1="1149" x2="589.0" y2="1151" stroke="#ccc" stroke-width="1"/>
<line x1="596.3" y1="1138" x2="596.3" y2="1140" stroke="#ccc" stroke-width="1"/>
<line x1="596.3" y1="1380" x2="596.3" y2="1382" stroke="#ccc" stroke-width="1"/>
<line x1="596.3" y1="1149" x2="596.3" y2="1151" stroke="#ccc" stroke-width="1"/>
<line x1="603.6" y1="1138" x2="603.6" y2="1140" stroke="#ccc" stroke-width="1"/>
<line x1="603.6" y1="1380" x2="603.6" y2="1382" stroke="#ccc" stroke-width="1"/>
<line x1="603.6" y1="1149" x2="603.6" y2="1151" stroke="#ccc" stroke-width="1"/>
<line x1="610.9" y1="1138" x2="610.9" y2="1140" stroke="#ccc" stroke-width="1"/>
<line x1="610.9" y1="1380" x2="610.9" y2="1382" stroke="#ccc" stroke-width="1"/>
<line x1="610.9" y1="1149" x2="610.9" y2="1151" stroke="#ccc" stroke-width="1"/>
<line x1="618.2" y1="1138" x2="618.2" y2="1140" stroke="#ccc" stroke-width="1"/>
<line x1="618.2" y1="1380" x2="618.2" y2="1382" stroke="#ccc" stroke-width="1"/>
<line x1="618.2" y1="1149" x2="618.2" y2="1151" stroke="#ccc" stroke-width="1"/>
<line x1="625.5" y1="1138" x2="625.5" y2="1140" stroke="#ccc" stroke-width="1"/>
<line x1="625.5" y1="1380" x2="625.5" y2="1382" stroke="#ccc" stroke-width="1"/>
<line x1="625.5" y1="1149" x2="625.5" y2="1151" stroke="#ccc" stroke-width="1"/>
<line x1="632.8" y1="1138" x2="632.8" y2="1140" stroke="#ccc" stroke-width="1"/>
<line x1="632.8" y1="1380" x2="632.8" y2="1382" stroke="#ccc" stroke-width="1"/>
<line x1="632.8" y1="1149" x2="632.8" y2="1151" stroke="#ccc" stroke-width="1"/>
<line x1="640.0" y1="1138" x2="640.0" y2="1140" stroke="#ccc" stroke-width="1"/>
<line x1="640.0" y1="1380" x2="640.0" y2="1382" stroke="#ccc" stroke-width="1"/>
<line x1="640.0" y1="1149" x2="640.0" y2="1151" stroke="#ccc" stroke-width="1"/>
<line x1="647.3" y1="1138" x2="647.3" y2="1140" stroke="#ccc" stroke-width="1"/>
<line x1="647.3" y1="1380" x2="647.3" y2="1382" stroke="#ccc" stroke-width="1"/>
<line x1="647.3" y1="1149" x2="647.3" y2="1151" stroke="#ccc" stroke-width="1"/>
<line x1="654.6" y1="1138" x2="654.6" y2="1140" stroke="#ccc" stroke-width="1"/>
<line x1="654.6" y1="1380" x2="654.6" y2="1382" stroke="#ccc" stroke-width="1"/>
<line x1="654.6" y1="1149" x2="654.6" y2="1151" stroke="#ccc" stroke-width="1"/>
<line x1="661.9" y1="1138" x2="661.9" y2="1140" stroke="#ccc" stroke-width="1"/>
<line x1="661.9" y1="1380" x2="661.9" y2="1382" stroke="#ccc" stroke-width="1"/>
<line x1="661.9" y1="1149" x2="661.9" y2="1151" stroke="#ccc" stroke-width="1"/>
<line x1="669.2" y1="1138" x2="669.2" y2="1140" stroke="#ccc" stroke-width="1"/>
<line x1="669.2" y1="1380" x2="669.2" y2="1382" stroke="#ccc" stroke-width="1"/>
<line x1="669.2" y1="1149" x2="669.2" y2="1151" stroke="#ccc" stroke-width="1"/>
<line x1="676.5" y1="1138" x2="676.5" y2="1140" stroke="#ccc" stroke-width="1"/>
<line x1="676.5" y1="1380" x2="676.5" y2="1382" stroke="#ccc" stroke-width="1"/>
<line x1="676.5" y1="1149" x2="676.5" y2="1151" stroke="#ccc" stroke-width="1"/>
<line x1="683.8" y1="1138" x2="683.8" y2="1140" stroke="#ccc" stroke-width="1"/>
<line x1="683.8" y1="1380" x2="683.8" y2="1382" stroke="#ccc" stroke-width="1"/>
<line x1="683.8" y1="1149" x2="683.8" y2="1151" stroke="#ccc" stroke-width="1"/>
<line x1="691.1" y1="1138" x2="691.1" y2="1140" stroke="#ccc" stroke-width="1"/>
<line x1="691.1" y1="1380" x2="691.1" y2="1382" stroke="#ccc" stroke-width="1"/>
<line x1="691.1" y1="1149" x2="691.1" y2="1151" stroke="#ccc" stroke-width="1"/>
<line x1="698.4" y1="1138" x2="698.4" y2="1140" stroke="#ccc" stroke-width="1"/>
<line x1="698.4" y1="1380" x2="698.4" y2="1382" stroke="#ccc" stroke-width="1"/>
<line x1="698.4" y1="1149" x2="698.4" y2="1151" stroke="#ccc" stroke-width="1"/>
<line x1="705.7" y1="1138" x2="705.7" y2="1140" stroke="#ccc" stroke-width="1"/>
<line x1="705.7" y1="1380" x2="705.7" y2="1382" stroke="#ccc" stroke-width="1"/>
<line x1="705.7" y1="1149" x2="705.7" y2="1151" stroke="#ccc" stroke-width="1"/>
<line x1="713.0" y1="1138" x2="713.0" y2="1140" stroke="#ccc" stroke-width="1"/>
<line x1="713.0" y1="1380" x2="713.0" y2="1382" stroke="#ccc" stroke-width="1"/>
<line x1="713.0" y1="1149" x2="713.0" y2="1151" stroke="#ccc" stroke-width="1"/>
<line x1="720.3" y1="1138" x2="720.3" y2="1140" stroke="#ccc" stroke-width="1"/>
<line x1="720.3" y1="1380" x2="720.3" y2="1382" stroke="#ccc" stroke-width="1"/>
<line x1="720.3" y1="1149" x2="720.3" y2="1151" stroke="#ccc" stroke-width="1"/>
<line x1="727.6" y1="1138" x2="727.6" y2="1140" stroke="#ccc" stroke-width="1"/>
<line x1="727.6" y1="1380" x2="727.6" y2="1382" stroke="#ccc" stroke-width="1"/>
<line x1="727.6" y1="1149" x2="727.6" y2="1151" stroke="#ccc" stroke-width="1"/>
<line x1="734.9" y1="1138" x2="734.9" y2="1140" stroke="#ccc" stroke-width="1"/>
<line x1="734.9" y1="1380" x2="734.9" y2="1382" stroke="#ccc" stroke-width="1"/>
<line x1="734.9" y1="1149" x2="734.9" y2="1151" stroke="#ccc" stroke-width="1"/>
<line x1="742.2" y1="1138" x2="742.2" y2="1140" stroke="#ccc" stroke-width="1"/>
<line x1="742.2" y1="1380" x2="742.2" y2="1382" stroke="#ccc" stroke-width="1"/>
<line x1="742.2" y1="1149" x2="742.2" y2="1151" stroke="#ccc" stroke-width="1"/>
<line x1="749.5" y1="1138" x2="749.5" y2="1140" stroke="#ccc" stroke-width="1"/>
<line x1="749.5" y1="1380" x2="749.5" y2="1382" stroke="#ccc" stroke-width="1"/>
<line x1="749.5" y1="1149" x2="749.5" y2="1151" stroke="#ccc" stroke-width="1"/>
<line x1="756.8" y1="1138" x2="756.8" y2="1140" stroke="#ccc" stroke-width="1"/>
<line x1="756.8" y1="1380" x2="756.8" y2="1382" stroke="#ccc" stroke-width="1"/>
<line x1="756.8" y1="1149" x2="756.8" y2="1151" stroke="#ccc" stroke-width="1"/>
<line x1="764.0" y1="1138" x2="764.0" y2="1140" stroke="#ccc" stroke-width="1"/>
<line x1="764.0" y1="1380" x2="764.0" y2="1382" stroke="#ccc" stroke-width="1"/>
<line x1="764.0" y1="1149" x2="764.0" y2="1151" stroke="#ccc" stroke-width="1"/>
<line x1="771.3" y1="1138" x2="771.3" y2="1140" stroke="#ccc" stroke-width="1"/>
<line x1="771.3" y1="1380" x2="771.3" y2="1382" stroke="#ccc" stroke-width="1"/>
<line x1="771.3" y1="1149" x2="771.3" y2="1151" stroke="#ccc" stroke-width="1"/>
<line x1="778.6" y1="1138" x2="778.6" y2="1140" stroke="#ccc" stroke-width="1"/>
<line x1="778.6" y1="1380" x2="778.6" y2="1382" stroke="#ccc" stroke-width="1"/>
<line x1="778.6" y1="1149" x2="778.6" y2="1151" stroke="#ccc" stroke-width="1"/>
<line x1="785.9" y1="1138" x2="785.9" y2="1140" stroke="#ccc" stroke-width="1"/>
<line x1="785.9" y1="1380" x2="785.9" y2="1382" stroke="#ccc" stroke-width="1"/>
<line x1="785.9" y1="1149" x2="785.9" y2="1151" stroke="#ccc" stroke-width="1"/>
<line x1="793.2" y1="1138" x2="793.2" y2="1140" stroke="#ccc" stroke-width="1"/>
<line x1="793.2" y1="1380" x2="793.2" y2="1382" stroke="#ccc" stroke-width="1"/>
<line x1="793.2" y1="1149" x2="793.2" y2="1151" stroke="#ccc" stroke-width="1"/>
<line x1="800.5" y1="1138" x2="800.5" y2="1140" stroke="#ccc" stroke-width="1"/>
<line x1="800.5" y1="1380" x2="800.5" y2="1382" stroke="#ccc" stroke-width="1"/>
<line x1="800.5" y1="1149" x2="800.5" y2="1151" stroke="#ccc" stroke-width="1"/>
<line x1="807.8" y1="1138" x2="807.8" y2="1140" stroke="#ccc" stroke-width="1"/>
<line x1="807.8" y1="1380" x2="807.8" y2="1382" stroke="#ccc" stroke-width="1"/>
<line x1="807.8" y1="1149" x2="807.8" y2="1151" stroke="#ccc" stroke-width="1"/>
<line x1="815.1" y1="1138" x2="815.1" y2="1140" stroke="#ccc" stroke-width="1"/>
<line x1="815.1" y1="1380" x2="815.1" y2="1382" stroke="#ccc" stroke-width="1"/>
<line x1="815.1" y1="1149" x2="815.1" y2="1151" stroke="#ccc" stroke-width="1"/>
<line x1="822.4" y1="1138" x2="822.4" y2="1140" stroke="#ccc" stroke-width="1"/>
<line x1="822.4" y1="1380" x2="822.4" y2="1382" stroke="#ccc" stroke-width="1"/>
<line x1="822.4" y1="1149" x2="822.4" y2="1151" stroke="#ccc" stroke-width="1"/>
<line x1="829.7" y1="1138" x2="829.7" y2="1140" stroke="#ccc" stroke-width="1"/>
<line x1="829.7" y1="1380" x2="829.7" y2="1382" stroke="#ccc" stroke-width="1"/>
<line x1="829.7" y1="1149" x2="829.7" y2="1151" stroke="#ccc" stroke-width="1"/>
<line x1="837.0" y1="1138" x2="837.0" y2="1140" stroke="#ccc" stroke-width="1"/>
<line x1="837.0" y1="1380" x2="837.0" y2="1382" stroke="#ccc" stroke-width="1"/>
<line x1="837.0" y1="1149" x2="837.0" y2="1151" stroke="#ccc" stroke-width="1"/>
<line x1="844.3" y1="1138" x2="844.3" y2="1140" stroke="#ccc" stroke-width="1"/>
<line x1="844.3" y1="1380" x2="844.3" y2="1382" stroke="#ccc" stroke-width="1"/>
<line x1="844.3" y1="1149" x2="844.3" y2="1151" stroke="#ccc" stroke-width="1"/>
<line x1="851.6" y1="1138" x2="851.6" y2="1140" stroke="#ccc" stroke-width="1"/>
<line x1="851.6" y1="1380" x2="851.6" y2="1382" stroke="#ccc" stroke-width="1"/>
<line x1="851.6" y1="1149" x2="851.6" y2="1151" stroke="#ccc" stroke-width="1"/>
<line x1="858.9" y1="1138" x2="858.9" y2="1140" stroke="#ccc" stroke-width="1"/>
<line x1="858.9" y1="1380" x2="858.9" y2="1382" stroke="#ccc" stroke-width="1"/>
<line x1="858.9" y1="1149" x2="858.9" y2="1151" stroke="#ccc" stroke-width="1"/>
<line x1="866.2" y1="1138" x2="866.2" y2="1140" stroke="#ccc" stroke-width="1"/>
<line x1="866.2" y1="1380" x2="866.2" y2="1382" stroke="#ccc" stroke-width="1"/>
<line x1="866.2" y1="1149" x2="866.2" y2="1151" stroke="#ccc" stroke-width="1"/>
<line x1="873.5" y1="1138" x2="873.5" y2="1140" stroke="#ccc" stroke-width="1"/>
<line x1="873.5" y1="1380" x2="873.5" y2="1382" stroke="#ccc" stroke-width="1"/>
<line x1="873.5" y1="1149" x2="873.5" y2="1151" stroke="#ccc" stroke-width="1"/>
<line x1="880.8" y1="1138" x2="880.8" y2="1140" stroke="#ccc" stroke-width="1"/>
<line x1="880.8" y1="1380" x2="880.8" y2="1382" stroke="#ccc" stroke-width="1"/>
<line x1="880.8" y1="1149" x2="880.8" y2="1151" stroke="#ccc" stroke-width="1"/>
<line x1="888.0" y1="1138" x2="888.0" y2="1140" stroke="#ccc" stroke-width="1"/>
<line x1="888.0" y1="1380" x2="888.0" y2="1382" stroke="#ccc" stroke-width="1"/>
<line x1="888.0" y1="1149" x2="888.0" y2="1151" stroke="#ccc" stroke-width="1"/>
<line x1="895.3" y1="1138" x2="895.3" y2="1140" stroke="#ccc" stroke-width="1"/>
<line x1="895.3" y1="1380" x2="895.3" y2="1382" stroke="#ccc" stroke-width="1"/>
<line x1="895.3" y1="1149" x2="895.3" y2="1151" stroke="#ccc" stroke-width="1"/>
<line x1="902.6" y1="1138" x2="902.6" y2="1140" stroke="#ccc" stroke-width="1"/>
<line x1="902.6" y1="1380" x2="902.6" y2="1382" stroke="#ccc" stroke-width="1"/>
<line x1="902.6" y1="1149" x2="902.6" y2="1151" stroke="#ccc" stroke-width="1"/>
<line x1="909.9" y1="1138" x2="909.9" y2="1140" stroke="#ccc" stroke-width="1"/>
<line x1="909.9" y1="1380" x2="909.9" y2="1382" stroke="#ccc" stroke-width="1"/>
<line x1="909.9" y1="1149" x2="909.9" y2="1151" stroke="#ccc" stroke-width="1"/>
<line x1="917.2" y1="1138" x2="917.2" y2="1140" stroke="#ccc" stroke-width="1"/>
<line x1="917.2" y1="1380" x2="917.2" y2="1382" stroke="#ccc" stroke-width="1"/>
<line x1="917.2" y1="1149" x2="917.2" y2="1151" stroke="#ccc" stroke-width="1"/>
<line x1="924.5" y1="1138" x2="924.5" y2="1140" stroke="#ccc" stroke-width="1"/>
<line x1="924.5" y1="1380" x2="924.5" y2="1382" stroke="#ccc" stroke-width="1"/>
<line x1="924.5" y1="1149" x2="924.5" y2="1151" stroke="#ccc" stroke-width="1"/>
<line x1="931.8" y1="1138" x2="931.8" y2="1140" stroke="#ccc" stroke-width="1"/>
<line x1="931.8" y1="1380" x2="931.8" y2="1382" stroke="#ccc" stroke-width="1"/>
<line x1="931.8" y1="1149" x2="931.8" y2="1151" stroke="#ccc" stroke-width="1"/>
<line x1="939.1" y1="1138" x2="939.1" y2="1140" stroke="#ccc" stroke-width="1"/>
<line x1="939.1" y1="1380" x2="939.1" y2="1382" stroke="#ccc" stroke-width="1"/>
<line x1="939.1" y1="1149" x2="939.1" y2="1151" stroke="#ccc" stroke-width="1"/>
<line x1="946.4" y1="1138" x2="946.4" y2="1140" stroke="#ccc" stroke-width="1"/>
<line x1="946.4" y1="1380" x2="946.4" y2="1382" stroke="#ccc" stroke-width="1"/>
<line x1="946.4" y1="1149" x2="946.4" y2="1151" stroke="#ccc" stroke-width="1"/>
<line x1="953.7" y1="1138" x2="953.7" y2="1140" stroke="#ccc" stroke-width="1"/>
<line x1="953.7" y1="1380" x2="953.7" y2="1382" stroke="#ccc" stroke-width="1"/>
<line x1="953.7" y1="1149" x2="953.7" y2="1151" stroke="#ccc" stroke-width="1"/>
<line x1="961.0" y1="1138" x2="961.0" y2="1140" stroke="#ccc" stroke-width="1"/>
<line x1="961.0" y1="1380" x2="961.0" y2="1382" stroke="#ccc" stroke-width="1"/>
<line x1="961.0" y1="1149" x2="961.0" y2="1151" stroke="#ccc" stroke-width="1"/>
<line x1="968.3" y1="1138" x2="968.3" y2="1140" stroke="#ccc" stroke-width="1"/>
<line x1="968.3" y1="1380" x2="968.3" y2="1382" stroke="#ccc" stroke-width="1"/>
<line x1="968.3" y1="1149" x2="968.3" y2="1151" stroke="#ccc" stroke-width="1"/>
<line x1="975.6" y1="1138" x2="975.6" y2="1140" stroke="#ccc" stroke-width="1"/>
<line x1="975.6" y1="1380" x2="975.6" y2="1382" stroke="#ccc" stroke-width="1"/>
<line x1="975.6" y1="1149" x2="975.6" y2="1151" stroke="#ccc" stroke-width="1"/>
<line x1="982.9" y1="1138" x2="982.9" y2="1140" stroke="#ccc" stroke-width="1"/>
<line x1="982.9" y1="1380" x2="982.9" y2="1382" stroke="#ccc" stroke-width="1"/>
<line x1="982.9" y1="1149" x2="982.9" y2="1151" stroke="#ccc" stroke-width="1"/>
<line x1="990.2" y1="1138" x2="990.2" y2="1140" stroke="#ccc" stroke-width="1"/>
<line x1="990.2" y1="1380" x2="990.2" y2="1382" stroke="#ccc" stroke-width="1"/>
<line x1="990.2" y1="1149" x2="990.2" y2="1151" stroke="#ccc" stroke-width="1"/>
<line x1="997.5" y1="1138" x2="997.5" y2="1140" stroke="#ccc" stroke-width="1"/>
<line x1="997.5" y1="1380" x2="997.5" y2="1382" stroke="#ccc" stroke-width="1"/>
<line x1="997.5" y1="1149" x2="997.5" y2="1151" stroke="#ccc" stroke-width="1"/>
<line x1="1004.7" y1="1138" x2="1004.7" y2="1140" stroke="#ccc" stroke-width="1"/>
<line x1="1004.7" y1="1380" x2="1004.7" y2="1382" stroke="#ccc" stroke-width="1"/>
<line x1="1004.7" y1="1149" x2="1004.7" y2="1151" stroke="#ccc" stroke-width="1"/>
<line x1="1012.0" y1="1138" x2="1012.0" y2="1140" stroke="#ccc" stroke-width="1"/>
<line x1="1012.0" y1="1380" x2="1012.0" y2="1382" stroke="#ccc" stroke-width="1"/>
<line x1="1012.0" y1="1149" x2="1012.0" y2="1151" stroke="#ccc" stroke-width="1"/>
<line x1="1019.3" y1="1138" x2="1019.3" y2="1140" stroke="#ccc" stroke-width="1"/>
<line x1="1019.3" y1="1380" x2="1019.3" y2="1382" stroke="#ccc" stroke-width="1"/>
<line x1="1019.3" y1="1149" x2="1019.3" y2="1151" stroke="#ccc" stroke-width="1"/>
<line x1="1026.6" y1="1138" x2="1026.6" y2="1140" stroke="#ccc" stroke-width="1"/>
<line x1="1026.6" y1="1380" x2="1026.6" y2="1382" stroke="#ccc" stroke-width="1"/>
<line x1="1026.6" y1="1149" x2="1026.6" y2="1151" stroke="#ccc" stroke-width="1"/>
<line x1="1033.9" y1="1138" x2="1033.9" y2="1140" stroke="#ccc" stroke-width="1"/>
<line x1="1033.9" y1="1380" x2="1033.9" y2="1382" stroke="#ccc" stroke-width="1"/>
<line x1="1033.9" y1="1149" x2="1033.9" y2="1151" stroke="#ccc" stroke-width="1"/>
<line x1="1041.2" y1="1138" x2="1041.2" y2="1140" stroke="#ccc" stroke-width="1"/>
<line x1="1041.2" y1="1380" x2="1041.2" y2="1382" stroke="#ccc" stroke-width="1"/>
<line x1="1041.2" y1="1149" x2="1041.2" y2="1151" stroke="#ccc" stroke-width="1"/>
<line x1="1048.5" y1="1138" x2="1048.5" y2="1140" stroke="#ccc" stroke-width="1"/>
<line x1="1048.5" y1="1380" x2="1048.5" y2="1382" stroke="#ccc" stroke-width="1"/>
<line x1="1048.5" y1="1149" x2="1048.5" y2="1151" stroke="#ccc" stroke-width="1"/>
<line x1="1055.8" y1="1138" x2="1055.8" y2="1140" stroke="#ccc" stroke-width="1"/>
<line x1="1055.8" y1="1380" x2="1055.8" y2="1382" stroke="#ccc" stroke-width="1"/>
<line x1="1055.8" y1="1149" x2="1055.8" y2="1151" stroke="#ccc" stroke-width="1"/>
<line x1="1063.1" y1="1138" x2="1063.1" y2="1140" stroke="#ccc" stroke-width="1"/>
<line x1="1063.1" y1="1380" x2="1063.1" y2="1382" stroke="#ccc" stroke-width="1"/>
<line x1="1063.1" y1="1149" x2="1063.1" y2="1151" stroke="#ccc" stroke-width="1"/>
<line x1="1070.4" y1="1138" x2="1070.4" y2="1140" stroke="#ccc" stroke-width="1"/>
<line x1="1070.4" y1="1380" x2="1070.4" y2="1382" stroke="#ccc" stroke-width="1"/>
<line x1="1070.4" y1="1149" x2="1070.4" y2="1151" stroke="#ccc" stroke-width="1"/>
<line x1="1077.7" y1="1138" x2="1077.7" y2="1140" stroke="#ccc" stroke-width="1"/>
<line x1="1077.7" y1="1380" x2="1077.7" y2="1382" stroke="#ccc" stroke-width="1"/>
<line x1="1077.7" y1="1149" x2="1077.7" y2="1151" stroke="#ccc" stroke-width="1"/>
<line x1="1085.0" y1="1138" x2="1085.0" y2="1140" stroke="#ccc" stroke-width="1"/>
<line x1="1085.0" y1="1380" x2="1085.0" y2="1382" stroke="#ccc" stroke-width="1"/>
<line x1="1085.0" y1="1149" x2="1085.0" y2="1151" stroke="#ccc" stroke-width="1"/>
<line x1="1092.3" y1="1138" x2="1092.3" y2="1140" stroke="#ccc" stroke-width="1"/>
<line x1="1092.3" y1="1380" x2="1092.3" y2="1382" stroke="#ccc" stroke-width="1"/>
<line x1="1092.3" y1="1149" x2="1092.3" y2="1151" stroke="#ccc" stroke-width="1"/>
<line x1="1099.6" y1="1138" x2="1099.6" y2="1140" stroke="#ccc" stroke-width="1"/>
<line x1="1099.6" y1="1380" x2="1099.6" y2="1382" stroke="#ccc" stroke-width="1"/>
<line x1="1099.6" y1="1149" x2="1099.6" y2="1151" stroke="#ccc" stroke-width="1"/>
<line x1="1106.9" y1="1138" x2="1106.9" y2="1140" stroke="#ccc" stroke-width="1"/>
<line x1="1106.9" y1="1380" x2="1106.9" y2="1382" stroke="#ccc" stroke-width="1"/>
<line x1="1106.9" y1="1149" x2="1106.9" y2="1151" stroke="#ccc" stroke-width="1"/>
<line x1="1114.2" y1="1138" x2="1114.2" y2="1140" stroke="#ccc" stroke-width="1"/>
<line x1="1114.2" y1="1380" x2="1114.2" y2="1382" stroke="#ccc" stroke-width="1"/>
<line x1="1114.2" y1="1149" x2="1114.2" y2="1151" stroke="#ccc" stroke-width="1"/>
<line x1="1121.5" y1="1138" x2="1121.5" y2="1140" stroke="#ccc" stroke-width="1"/>
<line x1="1121.5" y1="1380" x2="1121.5" y2="1382" stroke="#ccc" stroke-width="1"/>
<line x1="1121.5" y1="1149" x2="1121.5" y2="1151" stroke="#ccc" stroke-width="1"/>
<line x1="1128.7" y1="1138" x2="1128.7" y2="1140" stroke="#ccc" stroke-width="1"/>
<line x1="1128.7" y1="1380" x2="1128.7" y2="1382" stroke="#ccc" stroke-width="1"/>
<line x1="1128.7" y1="1149" x2="1128.7" y2="1151" stroke="#ccc" stroke-width="1"/>
<line x1="1136.0" y1="1138" x2="1136.0" y2="1140" stroke="#ccc" stroke-width="1"/>
<line x1="1136.0" y1="1380" x2="1136.0" y2="1382" stroke="#ccc" stroke-width="1"/>
<line x1="1136.0" y1="1149" x2="1136.0" y2="1151" stroke="#ccc" stroke-width="1"/>
<line x1="1143.3" y1="1138" x2="1143.3" y2="1140" stroke="#ccc" stroke-width="1"/>
<line x1="1143.3" y1="1380" x2="1143.3" y2="1382" stroke="#ccc" stroke-width="1"/>
<line x1="1143.3" y1="1149" x2="1143.3" y2="1151" stroke="#ccc" stroke-width="1"/>
<line x1="1150.6" y1="1138" x2="1150.6" y2="1140" stroke="#ccc" stroke-width="1"/>
<line x1="1150.6" y1="1380" x2="1150.6" y2="1382" stroke="#ccc" stroke-width="1"/>
<line x1="1150.6" y1="1149" x2="1150.6" y2="1151" stroke="#ccc" stroke-width="1"/>
<line x1="1157.9" y1="1138" x2="1157.9" y2="1140" stroke="#ccc" stroke-width="1"/>
<line x1="1157.9" y1="1380" x2="1157.9" y2="1382" stroke="#ccc" stroke-width="1"/>
<line x1="1157.9" y1="1149" x2="1157.9" y2="1151" stroke="#ccc" stroke-width="1"/>
<line x1="1165.2" y1="1138" x2="1165.2" y2="1140" stroke="#ccc" stroke-width="1"/>
<line x1="1165.2" y1="1380" x2="1165.2" y2="1382" stroke="#ccc" stroke-width="1"/>
<line x1="1165.2" y1="1149" x2="1165.2" y2="1151" stroke="#ccc" stroke-width="1"/>
<line x1="1172.5" y1="1138" x2="1172.5" y2="1140" stroke="#ccc" stroke-width="1"/>
<line x1="1172.5" y1="1380" x2="1172.5" y2="1382" stroke="#ccc" stroke-width="1"/>
<line x1="1172.5" y1="1149" x2="1172.5" y2="1151" stroke="#ccc" stroke-width="1"/>
<line x1="1179.8" y1="1138" x2="1179.8" y2="1140" stroke="#ccc" stroke-width="1"/>
<line x1="1179.8" y1="1380" x2="1179.8" y2="1382" stroke="#ccc" stroke-width="1"/>
<line x1="1179.8" y1="1149" x2="1179.8" y2="1151" stroke="#ccc" stroke-width="1"/>
<line x1="1187.1" y1="1138" x2="1187.1" y2="1140" stroke="#ccc" stroke-width="1"/>
<line x1="1187.1" y1="1380" x2="1187.1" y2="1382" stroke="#ccc" stroke-width="1"/>
<line x1="1187.1" y1="1149" x2="1187.1" y2="1151" stroke="#ccc" stroke-width="1"/>
<line x1="1194.4" y1="1138" x2="1194.4" y2="1140" stroke="#ccc" stroke-width="1"/>
<line x1="1194.4" y1="1380" x2="1194.4" y2="1382" stroke="#ccc" stroke-width="1"/>
<line x1="1194.4" y1="1149" x2="1194.4" y2="1151" stroke="#ccc" stroke-width="1"/>
<line x1="1201.7" y1="1138" x2="1201.7" y2="1140" stroke="#ccc" stroke-width="1"/>
<line x1="1201.7" y1="1380" x2="1201.7" y2="1382" stroke="#ccc" stroke-width="1"/>
<line x1="1201.7" y1="1149" x2="1201.7" y2="1151" stroke="#ccc" stroke-width="1"/>
<line x1="1209.0" y1="1138" x2="1209.0" y2="1140" stroke="#ccc" stroke-width="1"/>
<line x1="1209.0" y1="1380" x2="1209.0" y2="1382" stroke="#ccc" stroke-width="1"/>
<line x1="1209.0" y1="1149" x2="1209.0" y2="1151" stroke="#ccc" stroke-width="1"/>
<line x1="1216.3" y1="1138" x2="1216.3" y2="1140" stroke="#ccc" stroke-width="1"/>
<line x1="1216.3" y1="1380" x2="1216.3" y2="1382" stroke="#ccc" stroke-width="1"/>
<line x1="1216.3" y1="1149" x2="1216.3" y2="1151" stroke="#ccc" stroke-width="1"/>
<line x1="1223.6" y1="1138" x2="1223.6" y2="1140" stroke="#ccc" stroke-width="1"/>
<line x1="1223.6" y1="1380" x2="1223.6" y2="1382" stroke="#ccc" stroke-width="1"/>
<line x1="1223.6" y1="1149" x2="1223.6" y2="1151" stroke="#ccc" stroke-width="1"/>
<line x1="1230.9" y1="1138" x2="1230.9" y2="1140" stroke="#ccc" stroke-width="1"/>
<line x1="1230.9" y1="1380" x2="1230.9" y2="1382" stroke="#ccc" stroke-width="1"/>
<line x1="1230.9" y1="1149" x2="1230.9" y2="1151" stroke="#ccc" stroke-width="1"/>
<line x1="1238.2" y1="1138" x2="1238.2" y2="1140" stroke="#ccc" stroke-width="1"/>
<line x1="1238.2" y1="1380" x2="1238.2" y2="1382" stroke="#ccc" stroke-width="1"/>
<line x1="1238.2" y1="1149" x2="1238.2" y2="1151" stroke="#ccc" stroke-width="1"/>
<line x1="1245.5" y1="1138" x2="1245.5" y2="1140" stroke="#ccc" stroke-width="1"/>
<line x1="1245.5" y1="1380" x2="1245.5" y2="1382" stroke="#ccc" stroke-width="1"/>
<line x1="1245.5" y1="1149" x2="1245.5" y2="1151" stroke="#ccc" stroke-width="1"/>
<line x1="1252.7" y1="1138" x2="1252.7" y2="1140" stroke="#ccc" stroke-width="1"/>
<line x1="1252.7" y1="1380" x2="1252.7" y2="1382" stroke="#ccc" stroke-width="1"/>
<line x1="1252.7" y1="1149" x2="1252.7" y2="1151" stroke="#ccc" stroke-width="1"/>
<line x1="1260.0" y1="1138" x2="1260.0" y2="1140" stroke="#ccc" stroke-width="1"/>
<line x1="1260.0" y1="1380" x2="1260.0" y2="1382" stroke="#ccc" stroke-width="1"/>
<line x1="1260.0" y1="1149" x2="1260.0" y2="1151" stroke="#ccc" stroke-width="1"/>
<line x1="1267.3" y1="1138" x2="1267.3" y2="1140" stroke="#ccc" stroke-width="1"/>
<line x1="1267.3" y1="1380" x2="1267.3" y2="1382" stroke="#ccc" stroke-width="1"/>
<line x1="1267.3" y1="1149" x2="1267.3" y2="1151" stroke="#ccc" stroke-width="1"/>
<line x1="1274.6" y1="1138" x2="1274.6" y2="1140" stroke="#ccc" stroke-width="1"/>
<line x1="1274.6" y1="1380" x2="1274.6" y2="1382" stroke="#ccc" stroke-width="1"/>
<line x1="1274.6" y1="1149" x2="1274.6" y2="1151" stroke="#ccc" stroke-width="1"/>
<line x1="1281.9" y1="1138" x2="1281.9" y2="1140" stroke="#ccc" stroke-width="1"/>
<line x1="1281.9" y1="1380" x2="1281.9" y2="1382" stroke="#ccc" stroke-width="1"/>
<line x1="1281.9" y1="1149" x2="1281.9" y2="1151" stroke="#ccc" stroke-width="1"/>
<line x1="1289.2" y1="1138" x2="1289.2" y2="1140" stroke="#ccc" stroke-width="1"/>
<line x1="1289.2" y1="1380" x2="1289.2" y2="1382" stroke="#ccc" stroke-width="1"/>
<line x1="1289.2" y1="1149" x2="1289.2" y2="1151" stroke="#ccc" stroke-width="1"/>
<line x1="1296.5" y1="1138" x2="1296.5" y2="1140" stroke="#ccc" stroke-width="1"/>
<line x1="1296.5" y1="1380" x2="1296.5" y2="1382" stroke="#ccc" stroke-width="1"/>
<line x1="1296.5" y1="1149" x2="1296.5" y2="1151" stroke="#ccc" stroke-width="1"/>
<line x1="1303.8" y1="1138" x2="1303.8" y2="1140" stroke="#ccc" stroke-width="1"/>
<line x1="1303.8" y1="1380" x2="1303.8" y2="1382" stroke="#ccc" stroke-width="1"/>
<line x1="1303.8" y1="1149" x2="1303.8" y2="1151" stroke="#ccc" stroke-width="1"/>
<line x1="1311.1" y1="1138" x2="1311.1" y2="1140" stroke="#ccc" stroke-width="1"/>
<line x1="1311.1" y1="1380" x2="1311.1" y2="1382" stroke="#ccc" stroke-width="1"/>
<line x1="1311.1" y1="1149" x2="1311.1" y2="1151" stroke="#ccc" stroke-width="1"/>
<line x1="1318.4" y1="1138" x2="1318.4" y2="1140" stroke="#ccc" stroke-width="1"/>
<line x1="1318.4" y1="1380" x2="1318.4" y2="1382" stroke="#ccc" stroke-width="1"/>
<line x1="1318.4" y1="1149" x2="1318.4" y2="1151" stroke="#ccc" stroke-width="1"/>
<line x1="1325.7" y1="1138" x2="1325.7" y2="1140" stroke="#ccc" stroke-width="1"/>
<line x1="1325.7" y1="1380" x2="1325.7" y2="1382" stroke="#ccc" stroke-width="1"/>
<line x1="1325.7" y1="1149" x2="1325.7" y2="1151" stroke="#ccc" stroke-width="1"/>
<line x1="1333.0" y1="1138" x2="1333.0" y2="1140" stroke="#ccc" stroke-width="1"/>
<line x1="1333.0" y1="1380" x2="1333.0" y2="1382" stroke="#ccc" stroke-width="1"/>
<line x1="1333.0" y1="1149" x2="1333.0" y2="1151" stroke="#ccc" stroke-width="1"/>
<line x1="1340.3" y1="1138" x2="1340.3" y2="1140" stroke="#ccc" stroke-width="1"/>
<line x1="1340.3" y1="1380" x2="1340.3" y2="1382" stroke="#ccc" stroke-width="1"/>
<line x1="1340.3" y1="1149" x2="1340.3" y2="1151" stroke="#ccc" stroke-width="1"/>
<line x1="1347.6" y1="1138" x2="1347.6" y2="1140" stroke="#ccc" stroke-width="1"/>
<line x1="1347.6" y1="1380" x2="1347.6" y2="1382" stroke="#ccc" stroke-width="1"/>
<line x1="1347.6" y1="1149" x2="1347.6" y2="1151" stroke="#ccc" stroke-width="1"/>
<line x1="1354.9" y1="1138" x2="1354.9" y2="1140" stroke="#ccc" stroke-width="1"/>
<line x1="1354.9" y1="1380" x2="1354.9" y2="1382" stroke="#ccc" stroke-width="1"/>
<line x1="1354.9" y1="1149" x2="1354.9" y2="1151" stroke="#ccc" stroke-width="1"/>
<line x1="1362.2" y1="1138" x2="1362.2" y2="1140" stroke="#ccc" stroke-width="1"/>
<line x1="1362.2" y1="1380" x2="1362.2" y2="1382" stroke="#ccc" stroke-width="1"/>
<line x1="1362.2" y1="1149" x2="1362.2" y2="1151" stroke="#ccc" stroke-width="1"/>
<line x1="1369.4" y1="1138" x2="1369.4" y2="1140" stroke="#ccc" stroke-width="1"/>
<line x1="1369.4" y1="1380" x2="1369.4" y2="1382" stroke="#ccc" stroke-width="1"/>
<line x1="1369.4" y1="1149" x2="1369.4" y2="1151" stroke="#ccc" stroke-width="1"/>
<line x1="1376.7" y1="1138" x2="1376.7" y2="1140" stroke="#ccc" stroke-width="1"/>
<line x1="1376.7" y1="1380" x2="1376.7" y2="1382" stroke="#ccc" stroke-width="1"/>
<line x1="1376.7" y1="1149" x2="1376.7" y2="1151" stroke="#ccc" stroke-width="1"/>
<line x1="1384.0" y1="1138" x2="1384.0" y2="1140" stroke="#ccc" stroke-width="1"/>
<line x1="1384.0" y1="1380" x2="1384.0" y2="1382" stroke="#ccc" stroke-width="1"/>
<line x1="1384.0" y1="1149" x2="1384.0" y2="1151" stroke="#ccc" stroke-width="1"/>
<line x1="1391.3" y1="1138" x2="1391.3" y2="1140" stroke="#ccc" stroke-width="1"/>
<line x1="1391.3" y1="1380" x2="1391.3" y2="1382" stroke="#ccc" stroke-width="1"/>
<line x1="1391.3" y1="1149" x2="1391.3" y2="1151" stroke="#ccc" stroke-width="1"/>
<line x1="1398.6" y1="1138" x2="1398.6" y2="1140" stroke="#ccc" stroke-width="1"/>
<line x1="1398.6" y1="1380" x2="1398.6" y2="1382" stroke="#ccc" stroke-width="1"/>
<line x1="1398.6" y1="1149" x2="1398.6" y2="1151" stroke="#ccc" stroke-width="1"/>
<line x1="1405.9" y1="1138" x2="1405.9" y2="1140" stroke="#ccc" stroke-width="1"/>
<line x1="1405.9" y1="1380" x2="1405.9" y2="1382" stroke="#ccc" stroke-width="1"/>
<line x1="1405.9" y1="1149" x2="1405.9" y2="1151" stroke="#ccc" stroke-width="1"/>
<line x1="1413.2" y1="1138" x2="1413.2" y2="1140" stroke="#ccc" stroke-width="1"/>
<line x1="1413.2" y1="1380" x2="1413.2" y2="1382" stroke="#ccc" stroke-width="1"/>
<line x1="1413.2" y1="1149" x2="1413.2" y2="1151" stroke="#ccc" stroke-width="1"/>
<line x1="1420.5" y1="1138" x2="1420.5" y2="1140" stroke="#ccc" stroke-width="1"/>
<line x1="1420.5" y1="1380" x2="1420.5" y2="1382" stroke="#ccc" stroke-width="1"/>
<line x1="1420.5" y1="1149" x2="1420.5" y2="1151" stroke="#ccc" stroke-width="1"/>
<line x1="1427.8" y1="1138" x2="1427.8" y2="1140" stroke="#ccc" stroke-width="1"/>
<line x1="1427.8" y1="1380" x2="1427.8" y2="1382" stroke="#ccc" stroke-width="1"/>
<line x1="1427.8" y1="1149" x2="1427.8" y2="1151" stroke="#ccc" stroke-width="1"/>
<line x1="1435.1" y1="1138" x2="1435.1" y2="1140" stroke="#ccc" stroke-width="1"/>
<line x1="1435.1" y1="1380" x2="1435.1" y2="1382" stroke="#ccc" stroke-width="1"/>
<line x1="1435.1" y1="1149" x2="1435.1" y2="1151" stroke="#ccc" stroke-width="1"/>
<line x1="1442.4" y1="1138" x2="1442.4" y2="1140" stroke="#ccc" stroke-width="1"/>
<line x1="1442.4" y1="1380" x2="1442.4" y2="1382" stroke="#ccc" stroke-width="1"/>
<line x1="1442.4" y1="1149" x2="1442.4" y2="1151" stroke="#ccc" stroke-width="1"/>
<line x1="1449.7" y1="1138" x2="1449.7" y2="1140" stroke="#ccc" stroke-width="1"/>
<line x1="1449.7" y1="1380" x2="1449.7" y2="1382" stroke="#ccc" stroke-width="1"/>
<line x1="1449.7" y1="1149" x2="1449.7" y2="1151" stroke="#ccc" stroke-width="1"/>
<line x1="1457.0" y1="1138" x2="1457.0" y2="1140" stroke="#ccc" stroke-width="1"/>
<line x1="1457.0" y1="1380" x2="1457.0" y2="1382" stroke="#ccc" stroke-width="1"/>
<line x1="1457.0" y1="1149" x2="1457.0" y2="1151" stroke="#ccc" stroke-width="1"/>
<line x1="1464.3" y1="1138" x2="1464.3" y2="1140" stroke="#ccc" stroke-width="1"/>
<line x1="1464.3" y1="1380" x2="1464.3" y2="1382" stroke="#ccc" stroke-width="1"/>
<line x1="1464.3" y1="1149" x2="1464.3" y2="1151" stroke="#ccc" stroke-width="1"/>
<line x1="1471.6" y1="1138" x2="1471.6" y2="1140" stroke="#ccc" stroke-width="1"/>
<line x1="1471.6" y1="1380" x2="1471.6" y2="1382" stroke="#ccc" stroke-width="1"/>
<line x1="1471.6" y1="1149" x2="1471.6" y2="1151" stroke="#ccc" stroke-width="1"/>
<line x1="1478.9" y1="1138" x2="1478.9" y2="1140" stroke="#ccc" stroke-width="1"/>
<line x1="1478.9" y1="1380" x2="1478.9" y2="1382" stroke="#ccc" stroke-width="1"/>
<line x1="1478.9" y1="1149" x2="1478.9" y2="1151" stroke="#ccc" stroke-width="1"/>
<line x1="1486.2" y1="1138" x2="1486.2" y2="1140" stroke="#ccc" stroke-width="1"/>
<line x1="1486.2" y1="1380" x2="1486.2" y2="1382" stroke="#ccc" stroke-width="1"/>
<line x1="1486.2" y1="1149" x2="1486.2" y2="1151" stroke="#ccc" stroke-width="1"/>
<line x1="1493.4" y1="1138" x2="1493.4" y2="1140" stroke="#ccc" stroke-width="1"/>
<line x1="1493.4" y1="1380" x2="1493.4" y2="1382" stroke="#ccc" stroke-width="1"/>
<line x1="1493.4" y1="1149" x2="1493.4" y2="1151" stroke="#ccc" stroke-width="1"/>
<line x1="1500.7" y1="1138" x2="1500.7" y2="1140" stroke="#ccc" stroke-width="1"/>
<line x1="1500.7" y1="1380" x2="1500.7" y2="1382" stroke="#ccc" stroke-width="1"/>
<line x1="1500.7" y1="1149" x2="1500.7" y2="1151" stroke="#ccc" stroke-width="1"/>
<line x1="1508.0" y1="1138" x2="1508.0" y2="1140" stroke="#ccc" stroke-width="1"/>
<line x1="1508.0" y1="1380" x2="1508.0" y2="1382" stroke="#ccc" stroke-width="1"/>
<line x1="1508.0" y1="1149" x2="1508.0" y2="1151" stroke="#ccc" stroke-width="1"/>
<line x1="1515.3" y1="1138" x2="1515.3" y2="1140" stroke="#ccc" stroke-width="1"/>
<line x1="1515.3" y1="1380" x2="1515.3" y2="1382" stroke="#ccc" stroke-width="1"/>
<line x1="1515.3" y1="1149" x2="1515.3" y2="1151" stroke="#ccc" stroke-width="1"/>
<rect x="16.5" y="1151.5" width="1499.0" height="228.0" fill="#fff" stroke="#c0c0c0" stroke-width="1" shape-rendering="crispEdges"/>
<defs><clipPath id="cTop"><rect x="16.5" y="1151.5" width="1500" height="167.0"/></clipPath><clipPath id="cBot"><rect x="16.5" y="1318.5" width="1500" height="80"/></clipPath></defs>
<polygon clip-path="url(#cTop)" points="16.5,1318.5 16.5,1270.2 20.1,1269.2 27.4,1271.5 34.6,1250.6 41.9,1215.3 49.2,1195.6 56.5,1171.3 63.8,1167.5 71.1,1200.2 78.4,1197.4 85.7,1216.6 93.0,1232.2 100.3,1220.4 107.6,1228.3 114.9,1212.7 122.2,1183.3 129.5,1186.7 136.8,1228.8 144.1,1265.4 151.4,1272.3 158.6,1269.0 165.9,1247.2 173.2,1254.4 180.5,1254.4 187.8,1263.9 195.1,1286.9 202.4,1309.4 209.7,1315.2 217.0,1305.5 224.3,1338.2 231.6,1315.7 238.9,1307.6 246.2,1307.6 253.5,1299.1 260.8,1290.2 268.1,1324.7 275.3,1323.4 282.6,1288.4 289.9,1267.7 297.2,1254.4 304.5,1283.0 311.8,1298.4 319.1,1280.0 326.4,1271.5 333.7,1265.4 341.0,1276.1 348.3,1263.3 355.6,1255.7 362.9,1230.1 370.2,1199.5 377.5,1226.3 384.8,1214.8 392.1,1232.2 399.3,1214.3 406.6,1204.6 413.9,1180.3 421.2,1169.3 428.5,1171.3 435.8,1164.2 443.1,1201.5 450.4,1215.3 457.7,1216.6 465.0,1240.3 472.3,1274.3 479.6,1255.2 486.9,1254.4 494.2,1265.1 501.5,1267.4 508.8,1300.4 516.1,1299.1 523.3,1294.5 530.6,1307.3 537.9,1302.5 545.2,1328.5 552.5,1330.6 559.8,1338.0 567.1,1357.4 574.4,1363.0 581.7,1372.7 589.0,1322.1 596.3,1295.8 603.6,1278.7 610.9,1285.1 618.2,1272.3 625.5,1309.4 632.8,1274.8 640.0,1261.3 647.3,1267.7 654.6,1280.0 661.9,1331.6 669.2,1318.8 676.5,1333.6 683.8,1300.4 691.1,1285.1 698.4,1282.0 705.7,1288.9 713.0,1289.4 720.3,1293.3 727.6,1291.5 734.9,1317.5 742.2,1322.1 749.5,1346.4 756.8,1317.0 764.0,1296.6 771.3,1277.4 778.6,1284.3 785.9,1281.2 793.2,1302.5 800.5,1272.3 807.8,1243.7 815.1,1242.4 822.4,1210.4 829.7,1247.2 837.0,1255.2 844.3,1254.4 851.6,1231.4 858.9,1211.0 866.2,1201.5 873.5,1179.5 880.8,1164.2 888.0,1160.6 895.3,1158.0 902.6,1184.1 909.9,1201.2 917.2,1192.5 924.5,1220.7 931.8,1247.2 939.1,1208.4 946.4,1198.9 953.7,1182.8 961.0,1174.4 968.3,1200.2 975.6,1197.7 982.9,1193.6 990.2,1198.9 997.5,1220.7 1004.7,1229.4 1012.0,1243.7 1019.3,1253.9 1026.6,1281.2 1033.9,1299.1 1041.2,1306.3 1048.5,1281.2 1055.8,1270.2 1063.1,1291.5 1070.4,1261.3 1077.7,1244.2 1085.0,1256.4 1092.3,1278.7 1099.6,1270.5 1106.9,1270.2 1114.2,1254.4 1121.5,1255.2 1128.7,1248.5 1128.7,1318.5" fill="#7b9a7b"/>
<polygon clip-path="url(#cBot)" points="16.5,1318.5 16.5,1270.2 20.1,1269.2 27.4,1271.5 34.6,1250.6 41.9,1215.3 49.2,1195.6 56.5,1171.3 63.8,1167.5 71.1,1200.2 78.4,1197.4 85.7,1216.6 93.0,1232.2 100.3,1220.4 107.6,1228.3 114.9,1212.7 122.2,1183.3 129.5,1186.7 136.8,1228.8 144.1,1265.4 151.4,1272.3 158.6,1269.0 165.9,1247.2 173.2,1254.4 180.5,1254.4 187.8,1263.9 195.1,1286.9 202.4,1309.4 209.7,1315.2 217.0,1305.5 224.3,1338.2 231.6,1315.7 238.9,1307.6 246.2,1307.6 253.5,1299.1 260.8,1290.2 268.1,1324.7 275.3,1323.4 282.6,1288.4 289.9,1267.7 297.2,1254.4 304.5,1283.0 311.8,1298.4 319.1,1280.0 326.4,1271.5 333.7,1265.4 341.0,1276.1 348.3,1263.3 355.6,1255.7 362.9,1230.1 370.2,1199.5 377.5,1226.3 384.8,1214.8 392.1,1232.2 399.3,1214.3 406.6,1204.6 413.9,1180.3 421.2,1169.3 428.5,1171.3 435.8,1164.2 443.1,1201.5 450.4,1215.3 457.7,1216.6 465.0,1240.3 472.3,1274.3 479.6,1255.2 486.9,1254.4 494.2,1265.1 501.5,1267.4 508.8,1300.4 516.1,1299.1 523.3,1294.5 530.6,1307.3 537.9,1302.5 545.2,1328.5 552.5,1330.6 559.8,1338.0 567.1,1357.4 574.4,1363.0 581.7,1372.7 589.0,1322.1 596.3,1295.8 603.6,1278.7 610.9,1285.1 618.2,1272.3 625.5,1309.4 632.8,1274.8 640.0,1261.3 647.3,1267.7 654.6,1280.0 661.9,1331.6 669.2,1318.8 676.5,1333.6 683.8,1300.4 691.1,1285.1 698.4,1282.0 705.7,1288.9 713.0,1289.4 720.3,1293.3 727.6,1291.5 734.9,1317.5 742.2,1322.1 749.5,1346.4 756.8,1317.0 764.0,1296.6 771.3,1277.4 778.6,1284.3 785.9,1281.2 793.2,1302.5 800.5,1272.3 807.8,1243.7 815.1,1242.4 822.4,1210.4 829.7,1247.2 837.0,1255.2 844.3,1254.4 851.6,1231.4 858.9,1211.0 866.2,1201.5 873.5,1179.5 880.8,1164.2 888.0,1160.6 895.3,1158.0 902.6,1184.1 909.9,1201.2 917.2,1192.5 924.5,1220.7 931.8,1247.2 939.1,1208.4 946.4,1198.9 953.7,1182.8 961.0,1174.4 968.3,1200.2 975.6,1197.7 982.9,1193.6 990.2,1198.9 997.5,1220.7 1004.7,1229.4 1012.0,1243.7 1019.3,1253.9 1026.6,1281.2 1033.9,1299.1 1041.2,1306.3 1048.5,1281.2 1055.8,1270.2 1063.1,1291.5 1070.4,1261.3 1077.7,1244.2 1085.0,1256.4 1092.3,1278.7 1099.6,1270.5 1106.9,1270.2 1114.2,1254.4 1121.5,1255.2 1128.7,1248.5 1128.7,1318.5" fill="#a87878"/>
<line x1="16.5" y1="1318.5" x2="1515.5" y2="1318.5" stroke="#666" stroke-width="1.2"/>
<polyline points="16.5,1270.2 20.1,1269.2 27.4,1271.5 34.6,1250.6 41.9,1215.3 49.2,1195.6 56.5,1171.3 63.8,1167.5 71.1,1200.2 78.4,1197.4 85.7,1216.6 93.0,1232.2 100.3,1220.4 107.6,1228.3 114.9,1212.7 122.2,1183.3 129.5,1186.7 136.8,1228.8 144.1,1265.4 151.4,1272.3 158.6,1269.0 165.9,1247.2 173.2,1254.4 180.5,1254.4 187.8,1263.9 195.1,1286.9 202.4,1309.4 209.7,1315.2 217.0,1305.5 224.3,1338.2 231.6,1315.7 238.9,1307.6 246.2,1307.6 253.5,1299.1 260.8,1290.2 268.1,1324.7 275.3,1323.4 282.6,1288.4 289.9,1267.7 297.2,1254.4 304.5,1283.0 311.8,1298.4 319.1,1280.0 326.4,1271.5 333.7,1265.4 341.0,1276.1 348.3,1263.3 355.6,1255.7 362.9,1230.1 370.2,1199.5 377.5,1226.3 384.8,1214.8 392.1,1232.2 399.3,1214.3 406.6,1204.6 413.9,1180.3 421.2,1169.3 428.5,1171.3 435.8,1164.2 443.1,1201.5 450.4,1215.3 457.7,1216.6 465.0,1240.3 472.3,1274.3 479.6,1255.2 486.9,1254.4 494.2,1265.1 501.5,1267.4 508.8,1300.4 516.1,1299.1 523.3,1294.5 530.6,1307.3 537.9,1302.5 545.2,1328.5 552.5,1330.6 559.8,1338.0 567.1,1357.4 574.4,1363.0 581.7,1372.7 589.0,1322.1 596.3,1295.8 603.6,1278.7 610.9,1285.1 618.2,1272.3 625.5,1309.4 632.8,1274.8 640.0,1261.3 647.3,1267.7 654.6,1280.0 661.9,1331.6 669.2,1318.8 676.5,1333.6 683.8,1300.4 691.1,1285.1 698.4,1282.0 705.7,1288.9 713.0,1289.4 720.3,1293.3 727.6,1291.5 734.9,1317.5 742.2,1322.1 749.5,1346.4 756.8,1317.0 764.0,1296.6 771.3,1277.4 778.6,1284.3 785.9,1281.2 793.2,1302.5 800.5,1272.3 807.8,1243.7 815.1,1242.4 822.4,1210.4 829.7,1247.2 837.0,1255.2 844.3,1254.4 851.6,1231.4 858.9,1211.0 866.2,1201.5 873.5,1179.5 880.8,1164.2 888.0,1160.6 895.3,1158.0 902.6,1184.1 909.9,1201.2 917.2,1192.5 924.5,1220.7 931.8,1247.2 939.1,1208.4 946.4,1198.9 953.7,1182.8 961.0,1174.4 968.3,1200.2 975.6,1197.7 982.9,1193.6 990.2,1198.9 997.5,1220.7 1004.7,1229.4 1012.0,1243.7 1019.3,1253.9 1026.6,1281.2 1033.9,1299.1 1041.2,1306.3 1048.5,1281.2 1055.8,1270.2 1063.1,1291.5 1070.4,1261.3 1077.7,1244.2 1085.0,1256.4 1092.3,1278.7 1099.6,1270.5 1106.9,1270.2 1114.2,1254.4 1121.5,1255.2 1128.7,1248.5" fill="none" stroke="#111" stroke-width="1.1" stroke-linejoin="round"/>
<line x1="1515.5" y1="1158.5" x2="1518.5" y2="1158.5" stroke="#999" stroke-width="1"/>
<text class="ax" x="1521.5" y="1161.1">0.40</text>
<line x1="1515.5" y1="1178.5" x2="1518.5" y2="1178.5" stroke="#999" stroke-width="1"/>
<text class="ax" x="1521.5" y="1181.1">0.35</text>
<line x1="1515.5" y1="1198.5" x2="1518.5" y2="1198.5" stroke="#999" stroke-width="1"/>
<text class="ax" x="1521.5" y="1201.1">0.30</text>
<line x1="1515.5" y1="1218.5" x2="1518.5" y2="1218.5" stroke="#999" stroke-width="1"/>
<text class="ax" x="1521.5" y="1221.1">0.25</text>
<line x1="1515.5" y1="1238.5" x2="1518.5" y2="1238.5" stroke="#999" stroke-width="1"/>
<text class="ax" x="1521.5" y="1241.1">0.20</text>
<line x1="1515.5" y1="1258.5" x2="1518.5" y2="1258.5" stroke="#999" stroke-width="1"/>
<text class="ax" x="1521.5" y="1261.1">0.15</text>
<line x1="1515.5" y1="1278.5" x2="1518.5" y2="1278.5" stroke="#999" stroke-width="1"/>
<text class="ax" x="1521.5" y="1281.1">0.10</text>
<line x1="1515.5" y1="1298.5" x2="1518.5" y2="1298.5" stroke="#999" stroke-width="1"/>
<text class="ax" x="1521.5" y="1301.1">0.05</text>
<line x1="1515.5" y1="1318.5" x2="1518.5" y2="1318.5" stroke="#999" stroke-width="1"/>
<text class="ax" x="1521.5" y="1321.1">0.00</text>
<line x1="1515.5" y1="1338.5" x2="1518.5" y2="1338.5" stroke="#999" stroke-width="1"/>
<text class="ax" x="1518.5" y="1341.1">-0.05</text>
<line x1="1515.5" y1="1358.5" x2="1518.5" y2="1358.5" stroke="#999" stroke-width="1"/>
<text class="ax" x="1518.5" y="1361.1">-0.10</text>
<path d="M1513.4 1247.5 L1517.9 1242.3 L1546.6 1242.3 L1546.6 1252.7 L1517.9 1252.7 Z" fill="#fff" stroke="#000" stroke-width="1.2"/>
<text x="1518.4" y="1251.3" font-size="10"  textLength="26.2" lengthAdjust="spacingAndGlyphs">0.174</text>
<path d="M19.5 1162 V1159 L23.5 1153.5 L25.5 1158.5 L27.5 1155.5 V1162 Z" fill="#7b9a7b"/><path d="M19.5 1162 V1159 L23.5 1153.5 L25.5 1158.5 L27.5 1155.5 V1162" fill="none" stroke="#000" stroke-width="1.2"/>
<text x="31.4" y="1161.8" font-size="11" textLength="122" lengthAdjust="spacing">CMF(20) 0.174 (9 Jul)</text>
<line x1="888.3" y1="1153.6" x2="1165.9" y2="1251.8" stroke="#ff0000" stroke-width="2.2" stroke-dasharray="4.2 2.6" marker-end="url(#ar)"/>
</svg></body></html>
